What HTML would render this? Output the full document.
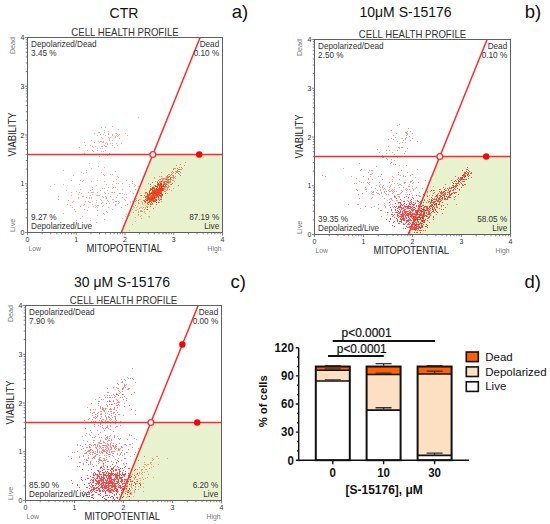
<!DOCTYPE html>
<html><head><meta charset="utf-8"><style>
html,body{margin:0;padding:0;background:#fff;width:550px;height:524px;overflow:hidden}
svg{display:block}
</style></head><body>
<svg width="550" height="524" viewBox="0 0 550 524" font-family="Liberation Sans, sans-serif">
<defs><filter id="soft" x="-5%" y="-5%" width="110%" height="110%"><feGaussianBlur stdDeviation="0.45"/></filter></defs>
<polygon points="121.30,232.50 222.50,232.50 222.50,154.50 152.82,154.50" fill="#e9f2cf"/>
<text x="124.00" y="17.60" font-size="14" fill="#111" text-anchor="middle" font-weight="normal" >CTR</text>
<text x="231.80" y="18.00" font-size="18.5" fill="#111" text-anchor="start" font-weight="normal" >a)</text>
<text transform="translate(125.00,36.00) scale(0.9,1)" font-size="10.7" fill="#333" text-anchor="middle" font-weight="normal" >CELL HEALTH PROFILE</text>
<path d="" fill="#ff1414" fill-opacity="0.8" filter="url(#soft)"/>
<path d="M150 200h1.0v1.0h-1.0zM157 187h1.0v1.0h-1.0zM152 198h1.0v1.0h-1.0zM152 193h1.0v1.0h-1.0zM153 193h1.0v1.0h-1.0zM155 199h1.0v1.0h-1.0zM146 196h1.0v1.0h-1.0zM156 190h1.0v1.0h-1.0zM154 191h1.0v1.0h-1.0zM145 199h1.0v1.0h-1.0zM165 185h1.0v1.0h-1.0zM158 190h1.0v1.0h-1.0zM154 198h1.0v1.0h-1.0zM160 192h1.0v1.0h-1.0zM152 195h1.0v1.0h-1.0zM154 193h1.0v1.0h-1.0zM154 188h1.0v1.0h-1.0zM147 196h1.0v1.0h-1.0zM157 191h1.0v1.0h-1.0zM161 189h1.0v1.0h-1.0zM152 182h1.0v1.0h-1.0zM149 191h1.0v1.0h-1.0zM158 190h1.0v1.0h-1.0zM151 202h1.0v1.0h-1.0zM155 195h1.0v1.0h-1.0zM155 191h1.0v1.0h-1.0zM147 197h1.0v1.0h-1.0zM152 192h1.0v1.0h-1.0zM160 185h1.0v1.0h-1.0zM164 183h1.0v1.0h-1.0zM157 190h1.0v1.0h-1.0zM158 191h1.0v1.0h-1.0zM151 197h1.0v1.0h-1.0zM150 199h1.0v1.0h-1.0zM148 198h1.0v1.0h-1.0zM161 195h1.0v1.0h-1.0zM158 191h1.0v1.0h-1.0zM153 197h1.0v1.0h-1.0zM153 201h1.0v1.0h-1.0zM156 193h1.0v1.0h-1.0zM158 194h1.0v1.0h-1.0zM156 195h1.0v1.0h-1.0zM160 189h1.0v1.0h-1.0zM155 194h1.0v1.0h-1.0zM156 195h1.0v1.0h-1.0zM148 196h1.0v1.0h-1.0zM155 193h1.0v1.0h-1.0zM159 187h1.0v1.0h-1.0zM154 193h1.0v1.0h-1.0zM156 194h1.0v1.0h-1.0zM158 193h1.0v1.0h-1.0zM154 191h1.0v1.0h-1.0zM157 192h1.0v1.0h-1.0zM160 195h1.0v1.0h-1.0zM162 195h1.0v1.0h-1.0zM151 196h1.0v1.0h-1.0zM157 194h1.0v1.0h-1.0zM149 200h1.0v1.0h-1.0zM157 193h1.0v1.0h-1.0zM151 200h1.0v1.0h-1.0zM155 194h1.0v1.0h-1.0zM159 194h1.0v1.0h-1.0zM153 195h1.0v1.0h-1.0zM153 191h1.0v1.0h-1.0zM147 199h1.0v1.0h-1.0zM155 200h1.0v1.0h-1.0zM160 193h1.0v1.0h-1.0zM153 201h1.0v1.0h-1.0zM157 191h1.0v1.0h-1.0zM148 198h1.0v1.0h-1.0zM151 197h1.0v1.0h-1.0zM155 201h1.0v1.0h-1.0zM154 193h1.0v1.0h-1.0zM155 190h1.0v1.0h-1.0zM152 199h1.0v1.0h-1.0zM149 191h1.0v1.0h-1.0zM162 188h1.0v1.0h-1.0zM151 193h1.0v1.0h-1.0zM146 192h1.0v1.0h-1.0zM159 194h1.0v1.0h-1.0zM154 195h1.0v1.0h-1.0zM151 195h1.0v1.0h-1.0zM141 195h1.0v1.0h-1.0zM162 194h1.0v1.0h-1.0zM151 195h1.0v1.0h-1.0zM154 193h1.0v1.0h-1.0zM152 199h1.0v1.0h-1.0zM161 190h1.0v1.0h-1.0zM158 191h1.0v1.0h-1.0zM159 190h1.0v1.0h-1.0zM157 196h1.0v1.0h-1.0zM153 188h1.0v1.0h-1.0zM160 192h1.0v1.0h-1.0zM159 190h1.0v1.0h-1.0zM157 193h1.0v1.0h-1.0zM155 195h1.0v1.0h-1.0zM153 195h1.0v1.0h-1.0zM154 198h1.0v1.0h-1.0zM152 198h1.0v1.0h-1.0zM152 189h1.0v1.0h-1.0zM151 192h1.0v1.0h-1.0zM148 202h1.0v1.0h-1.0zM152 192h1.0v1.0h-1.0zM160 190h1.0v1.0h-1.0zM153 194h1.0v1.0h-1.0zM151 204h1.0v1.0h-1.0zM157 196h1.0v1.0h-1.0zM159 192h1.0v1.0h-1.0zM152 190h1.0v1.0h-1.0zM152 195h1.0v1.0h-1.0zM160 185h1.0v1.0h-1.0zM161 185h1.0v1.0h-1.0zM153 193h1.0v1.0h-1.0zM156 189h1.0v1.0h-1.0zM154 190h1.0v1.0h-1.0zM157 190h1.0v1.0h-1.0zM162 189h1.0v1.0h-1.0zM159 192h1.0v1.0h-1.0zM152 191h1.0v1.0h-1.0zM149 194h1.0v1.0h-1.0zM150 196h1.0v1.0h-1.0zM158 197h1.0v1.0h-1.0zM155 186h1.0v1.0h-1.0zM155 192h1.0v1.0h-1.0zM155 193h1.0v1.0h-1.0zM155 192h1.0v1.0h-1.0zM155 194h1.0v1.0h-1.0zM152 188h1.0v1.0h-1.0zM147 195h1.0v1.0h-1.0zM150 204h1.0v1.0h-1.0zM153 196h1.0v1.0h-1.0zM150 198h1.0v1.0h-1.0zM157 184h1.0v1.0h-1.0zM160 199h1.0v1.0h-1.0zM151 193h1.0v1.0h-1.0zM145 197h1.0v1.0h-1.0zM156 193h1.0v1.0h-1.0zM152 196h1.0v1.0h-1.0zM156 186h1.0v1.0h-1.0zM157 189h1.0v1.0h-1.0zM155 199h1.0v1.0h-1.0zM159 194h1.0v1.0h-1.0zM147 207h1.0v1.0h-1.0zM155 199h1.0v1.0h-1.0zM159 188h1.0v1.0h-1.0zM159 191h1.0v1.0h-1.0zM155 193h1.0v1.0h-1.0zM153 192h1.0v1.0h-1.0zM145 196h1.0v1.0h-1.0zM149 199h1.0v1.0h-1.0zM160 196h1.0v1.0h-1.0zM158 183h1.0v1.0h-1.0zM147 203h1.0v1.0h-1.0zM154 189h1.0v1.0h-1.0zM158 192h1.0v1.0h-1.0zM157 189h1.0v1.0h-1.0zM152 197h1.0v1.0h-1.0zM153 196h1.0v1.0h-1.0zM152 191h1.0v1.0h-1.0zM152 199h1.0v1.0h-1.0zM150 198h1.0v1.0h-1.0zM151 197h1.0v1.0h-1.0zM155 195h1.0v1.0h-1.0zM161 196h1.0v1.0h-1.0zM154 193h1.0v1.0h-1.0zM161 199h1.0v1.0h-1.0zM156 199h1.0v1.0h-1.0zM153 197h1.0v1.0h-1.0zM158 188h1.0v1.0h-1.0zM152 192h1.0v1.0h-1.0zM152 192h1.0v1.0h-1.0zM156 188h1.0v1.0h-1.0zM160 189h1.0v1.0h-1.0zM156 186h1.0v1.0h-1.0zM157 192h1.0v1.0h-1.0zM152 192h1.0v1.0h-1.0zM161 197h1.0v1.0h-1.0zM157 195h1.0v1.0h-1.0zM161 189h1.0v1.0h-1.0zM156 192h1.0v1.0h-1.0zM162 195h1.0v1.0h-1.0zM153 192h1.0v1.0h-1.0zM157 186h1.0v1.0h-1.0zM145 201h1.0v1.0h-1.0zM157 193h1.0v1.0h-1.0zM154 188h1.0v1.0h-1.0zM152 199h1.0v1.0h-1.0zM160 183h1.0v1.0h-1.0zM154 194h1.0v1.0h-1.0zM154 194h1.0v1.0h-1.0zM151 198h1.0v1.0h-1.0zM158 190h1.0v1.0h-1.0zM153 190h1.0v1.0h-1.0zM149 193h1.0v1.0h-1.0zM152 190h1.0v1.0h-1.0zM155 189h1.0v1.0h-1.0zM157 187h1.0v1.0h-1.0zM154 192h1.0v1.0h-1.0zM147 194h1.0v1.0h-1.0zM154 197h1.0v1.0h-1.0zM148 204h1.0v1.0h-1.0zM152 197h1.0v1.0h-1.0zM161 194h1.0v1.0h-1.0zM157 192h1.0v1.0h-1.0zM154 194h1.0v1.0h-1.0zM156 197h1.0v1.0h-1.0zM161 188h1.0v1.0h-1.0zM154 191h1.0v1.0h-1.0zM158 190h1.0v1.0h-1.0zM156 192h1.0v1.0h-1.0zM150 194h1.0v1.0h-1.0zM161 188h1.0v1.0h-1.0zM153 201h1.0v1.0h-1.0zM150 199h1.0v1.0h-1.0zM152 195h1.0v1.0h-1.0zM156 200h1.0v1.0h-1.0zM151 195h1.0v1.0h-1.0zM153 197h1.0v1.0h-1.0zM159 190h1.0v1.0h-1.0zM157 195h1.0v1.0h-1.0zM156 192h1.0v1.0h-1.0zM147 198h1.0v1.0h-1.0zM150 196h1.0v1.0h-1.0zM157 187h1.0v1.0h-1.0zM151 199h1.0v1.0h-1.0zM155 185h1.0v1.0h-1.0zM148 195h1.0v1.0h-1.0zM156 192h1.0v1.0h-1.0zM158 202h1.0v1.0h-1.0zM155 193h1.0v1.0h-1.0zM145 192h1.0v1.0h-1.0zM154 195h1.0v1.0h-1.0zM163 188h1.0v1.0h-1.0zM149 192h1.0v1.0h-1.0zM163 186h1.0v1.0h-1.0zM152 194h1.0v1.0h-1.0zM149 197h1.0v1.0h-1.0zM158 196h1.0v1.0h-1.0zM153 195h1.0v1.0h-1.0zM158 184h1.0v1.0h-1.0zM158 191h1.0v1.0h-1.0zM157 187h1.0v1.0h-1.0zM157 191h1.0v1.0h-1.0zM161 181h1.0v1.0h-1.0zM153 187h1.0v1.0h-1.0zM159 193h1.0v1.0h-1.0zM152 198h1.0v1.0h-1.0zM150 197h1.0v1.0h-1.0zM157 194h1.0v1.0h-1.0zM160 191h1.0v1.0h-1.0zM159 189h1.0v1.0h-1.0zM152 198h1.0v1.0h-1.0zM158 193h1.0v1.0h-1.0zM154 192h1.0v1.0h-1.0zM149 197h1.0v1.0h-1.0zM155 190h1.0v1.0h-1.0zM145 202h1.0v1.0h-1.0zM153 190h1.0v1.0h-1.0zM166 186h1.0v1.0h-1.0zM151 198h1.0v1.0h-1.0zM154 193h1.0v1.0h-1.0zM147 200h1.0v1.0h-1.0zM156 200h1.0v1.0h-1.0zM153 187h1.0v1.0h-1.0zM153 200h1.0v1.0h-1.0zM154 193h1.0v1.0h-1.0zM152 194h1.0v1.0h-1.0zM151 193h1.0v1.0h-1.0zM157 194h1.0v1.0h-1.0zM157 193h1.0v1.0h-1.0zM158 188h1.0v1.0h-1.0zM156 189h1.0v1.0h-1.0zM150 194h1.0v1.0h-1.0zM160 188h1.0v1.0h-1.0zM161 190h1.0v1.0h-1.0zM152 203h1.0v1.0h-1.0zM153 187h1.0v1.0h-1.0zM161 193h1.0v1.0h-1.0zM156 188h1.0v1.0h-1.0zM156 191h1.0v1.0h-1.0zM148 197h1.0v1.0h-1.0zM151 193h1.0v1.0h-1.0zM144 200h1.0v1.0h-1.0zM154 194h1.0v1.0h-1.0zM161 184h1.0v1.0h-1.0zM161 194h1.0v1.0h-1.0zM157 190h1.0v1.0h-1.0zM155 197h1.0v1.0h-1.0zM151 198h1.0v1.0h-1.0zM148 196h1.0v1.0h-1.0zM155 193h1.0v1.0h-1.0zM149 195h1.0v1.0h-1.0zM153 197h1.0v1.0h-1.0zM158 188h1.0v1.0h-1.0zM150 201h1.0v1.0h-1.0zM156 204h1.0v1.0h-1.0zM154 197h1.0v1.0h-1.0zM155 194h1.0v1.0h-1.0zM154 194h1.0v1.0h-1.0zM150 199h1.0v1.0h-1.0zM155 193h1.0v1.0h-1.0zM152 192h1.0v1.0h-1.0zM154 191h1.0v1.0h-1.0zM152 199h1.0v1.0h-1.0zM153 191h1.0v1.0h-1.0zM160 196h1.0v1.0h-1.0zM153 197h1.0v1.0h-1.0zM154 195h1.0v1.0h-1.0zM150 193h1.0v1.0h-1.0zM161 189h1.0v1.0h-1.0zM147 209h1.0v1.0h-1.0zM149 199h1.0v1.0h-1.0zM145 197h1.0v1.0h-1.0zM154 195h1.0v1.0h-1.0zM152 197h1.0v1.0h-1.0zM153 196h1.0v1.0h-1.0zM157 190h1.0v1.0h-1.0zM146 198h1.0v1.0h-1.0zM147 193h1.0v1.0h-1.0zM153 194h1.0v1.0h-1.0zM150 199h1.0v1.0h-1.0zM152 188h1.0v1.0h-1.0zM155 192h1.0v1.0h-1.0zM152 196h1.0v1.0h-1.0zM149 202h1.0v1.0h-1.0zM161 187h1.0v1.0h-1.0zM156 191h1.0v1.0h-1.0zM157 192h1.0v1.0h-1.0zM154 192h1.0v1.0h-1.0zM154 193h1.0v1.0h-1.0zM156 189h1.0v1.0h-1.0zM155 194h1.0v1.0h-1.0zM153 197h1.0v1.0h-1.0zM156 190h1.0v1.0h-1.0zM155 193h1.0v1.0h-1.0zM152 197h1.0v1.0h-1.0zM149 195h1.0v1.0h-1.0zM161 191h1.0v1.0h-1.0zM161 195h1.0v1.0h-1.0zM160 184h1.0v1.0h-1.0zM153 196h1.0v1.0h-1.0zM149 194h1.0v1.0h-1.0zM156 192h1.0v1.0h-1.0zM162 190h1.0v1.0h-1.0zM152 187h1.0v1.0h-1.0zM155 191h1.0v1.0h-1.0zM162 186h1.0v1.0h-1.0zM154 198h1.0v1.0h-1.0zM149 198h1.0v1.0h-1.0zM153 198h1.0v1.0h-1.0zM152 194h1.0v1.0h-1.0zM153 190h1.0v1.0h-1.0zM161 192h1.0v1.0h-1.0zM157 192h1.0v1.0h-1.0zM159 186h1.0v1.0h-1.0zM148 194h1.0v1.0h-1.0zM159 184h1.0v1.0h-1.0zM153 198h1.0v1.0h-1.0zM155 186h1.0v1.0h-1.0zM152 198h1.0v1.0h-1.0zM156 192h1.0v1.0h-1.0zM154 193h1.0v1.0h-1.0zM159 193h1.0v1.0h-1.0zM150 184h1.0v1.0h-1.0zM151 192h1.0v1.0h-1.0zM154 193h1.0v1.0h-1.0zM157 194h1.0v1.0h-1.0zM153 201h1.0v1.0h-1.0zM151 196h1.0v1.0h-1.0zM147 199h1.0v1.0h-1.0zM155 194h1.0v1.0h-1.0zM163 184h1.0v1.0h-1.0zM156 189h1.0v1.0h-1.0zM152 197h1.0v1.0h-1.0zM156 200h1.0v1.0h-1.0zM156 188h1.0v1.0h-1.0zM152 195h1.0v1.0h-1.0zM147 199h1.0v1.0h-1.0zM153 199h1.0v1.0h-1.0zM156 202h1.0v1.0h-1.0zM154 200h1.0v1.0h-1.0zM156 190h1.0v1.0h-1.0zM150 189h1.0v1.0h-1.0zM144 195h1.0v1.0h-1.0zM152 195h1.0v1.0h-1.0zM154 201h1.0v1.0h-1.0zM151 199h1.0v1.0h-1.0zM148 199h1.0v1.0h-1.0zM160 185h1.0v1.0h-1.0zM153 195h1.0v1.0h-1.0zM153 188h1.0v1.0h-1.0zM160 192h1.0v1.0h-1.0zM158 199h1.0v1.0h-1.0zM158 193h1.0v1.0h-1.0zM159 193h1.0v1.0h-1.0zM150 188h1.0v1.0h-1.0zM163 185h1.0v1.0h-1.0zM159 195h1.0v1.0h-1.0zM152 193h1.0v1.0h-1.0zM154 189h1.0v1.0h-1.0zM161 186h1.0v1.0h-1.0zM158 189h1.0v1.0h-1.0zM150 194h1.0v1.0h-1.0zM150 196h1.0v1.0h-1.0zM153 199h1.0v1.0h-1.0zM151 195h1.0v1.0h-1.0zM154 190h1.0v1.0h-1.0zM157 189h1.0v1.0h-1.0zM144 201h1.0v1.0h-1.0zM153 192h1.0v1.0h-1.0zM151 199h1.0v1.0h-1.0zM157 191h1.0v1.0h-1.0zM156 188h1.0v1.0h-1.0zM153 198h1.0v1.0h-1.0zM150 193h1.0v1.0h-1.0zM148 195h1.0v1.0h-1.0zM161 196h1.0v1.0h-1.0zM149 200h1.0v1.0h-1.0zM152 200h1.0v1.0h-1.0zM154 198h1.0v1.0h-1.0zM158 188h1.0v1.0h-1.0zM163 184h1.0v1.0h-1.0zM153 192h1.0v1.0h-1.0zM149 198h1.0v1.0h-1.0zM154 192h1.0v1.0h-1.0zM153 199h1.0v1.0h-1.0zM157 192h1.0v1.0h-1.0zM147 195h1.0v1.0h-1.0zM159 200h1.0v1.0h-1.0zM150 190h1.0v1.0h-1.0zM158 192h1.0v1.0h-1.0zM152 192h1.0v1.0h-1.0zM165 193h1.0v1.0h-1.0zM156 194h1.0v1.0h-1.0zM146 200h1.0v1.0h-1.0zM157 189h1.0v1.0h-1.0zM151 193h1.0v1.0h-1.0zM154 198h1.0v1.0h-1.0zM161 188h1.0v1.0h-1.0zM152 199h1.0v1.0h-1.0zM154 192h1.0v1.0h-1.0zM151 196h1.0v1.0h-1.0zM160 188h1.0v1.0h-1.0zM154 196h1.0v1.0h-1.0zM156 193h1.0v1.0h-1.0zM149 199h1.0v1.0h-1.0zM162 189h1.0v1.0h-1.0zM151 198h1.0v1.0h-1.0zM158 190h1.0v1.0h-1.0zM160 190h1.0v1.0h-1.0zM160 189h1.0v1.0h-1.0zM158 183h1.0v1.0h-1.0zM152 200h1.0v1.0h-1.0zM155 191h1.0v1.0h-1.0zM152 190h1.0v1.0h-1.0zM154 190h1.0v1.0h-1.0zM158 189h1.0v1.0h-1.0zM153 191h1.0v1.0h-1.0zM155 200h1.0v1.0h-1.0zM157 196h1.0v1.0h-1.0zM161 188h1.0v1.0h-1.0zM151 199h1.0v1.0h-1.0zM155 193h1.0v1.0h-1.0zM147 194h1.0v1.0h-1.0zM155 186h1.0v1.0h-1.0zM149 201h1.0v1.0h-1.0zM153 194h1.0v1.0h-1.0zM156 196h1.0v1.0h-1.0zM154 192h1.0v1.0h-1.0zM166 186h1.0v1.0h-1.0zM157 184h1.0v1.0h-1.0zM152 199h1.0v1.0h-1.0zM161 183h1.0v1.0h-1.0zM153 201h1.0v1.0h-1.0zM145 199h1.0v1.0h-1.0zM148 199h1.0v1.0h-1.0zM151 189h1.0v1.0h-1.0zM156 191h1.0v1.0h-1.0zM150 206h1.0v1.0h-1.0zM158 193h1.0v1.0h-1.0z" fill="#f02408" fill-opacity="0.8" filter="url(#soft)"/>
<path d="" fill="#ff1414" fill-opacity="0.45" filter="url(#soft)"/>
<path d="M147 202h1.0v1.0h-1.0zM167 178h1.0v1.0h-1.0zM154 198h1.0v1.0h-1.0zM147 194h1.0v1.0h-1.0zM157 184h1.0v1.0h-1.0zM155 186h1.0v1.0h-1.0zM164 191h1.0v1.0h-1.0zM150 193h1.0v1.0h-1.0zM144 209h1.0v1.0h-1.0zM145 201h1.0v1.0h-1.0zM139 208h1.0v1.0h-1.0zM162 178h1.0v1.0h-1.0zM164 184h1.0v1.0h-1.0zM155 195h1.0v1.0h-1.0zM164 189h1.0v1.0h-1.0zM165 189h1.0v1.0h-1.0zM159 185h1.0v1.0h-1.0zM163 189h1.0v1.0h-1.0zM161 182h1.0v1.0h-1.0zM158 192h1.0v1.0h-1.0zM142 211h1.0v1.0h-1.0zM133 212h1.0v1.0h-1.0zM163 179h1.0v1.0h-1.0zM164 189h1.0v1.0h-1.0zM138 212h1.0v1.0h-1.0zM158 190h1.0v1.0h-1.0zM148 197h1.0v1.0h-1.0zM154 198h1.0v1.0h-1.0zM138 214h1.0v1.0h-1.0zM162 185h1.0v1.0h-1.0zM154 190h1.0v1.0h-1.0zM160 182h1.0v1.0h-1.0zM166 184h1.0v1.0h-1.0zM161 176h1.0v1.0h-1.0zM167 177h1.0v1.0h-1.0zM161 191h1.0v1.0h-1.0zM162 194h1.0v1.0h-1.0zM153 198h1.0v1.0h-1.0zM167 193h1.0v1.0h-1.0zM154 193h1.0v1.0h-1.0zM146 200h1.0v1.0h-1.0zM162 178h1.0v1.0h-1.0zM160 184h1.0v1.0h-1.0zM141 218h1.0v1.0h-1.0zM143 207h1.0v1.0h-1.0zM153 191h1.0v1.0h-1.0zM153 208h1.0v1.0h-1.0zM168 183h1.0v1.0h-1.0zM156 188h1.0v1.0h-1.0zM160 186h1.0v1.0h-1.0zM169 189h1.0v1.0h-1.0zM168 182h1.0v1.0h-1.0zM154 193h1.0v1.0h-1.0zM155 181h1.0v1.0h-1.0zM160 190h1.0v1.0h-1.0zM165 187h1.0v1.0h-1.0zM160 186h1.0v1.0h-1.0zM166 179h1.0v1.0h-1.0zM159 185h1.0v1.0h-1.0zM149 192h1.0v1.0h-1.0zM158 190h1.0v1.0h-1.0zM152 204h1.0v1.0h-1.0zM159 188h1.0v1.0h-1.0zM168 179h1.0v1.0h-1.0zM149 194h1.0v1.0h-1.0zM142 203h1.0v1.0h-1.0zM158 194h1.0v1.0h-1.0zM151 193h1.0v1.0h-1.0zM154 189h1.0v1.0h-1.0zM153 197h1.0v1.0h-1.0zM154 188h1.0v1.0h-1.0zM148 199h1.0v1.0h-1.0zM167 178h1.0v1.0h-1.0zM155 193h1.0v1.0h-1.0zM158 185h1.0v1.0h-1.0zM154 178h1.0v1.0h-1.0zM155 192h1.0v1.0h-1.0zM163 190h1.0v1.0h-1.0zM155 194h1.0v1.0h-1.0zM155 196h1.0v1.0h-1.0zM154 192h1.0v1.0h-1.0zM160 188h1.0v1.0h-1.0zM140 195h1.0v1.0h-1.0zM148 197h1.0v1.0h-1.0zM145 193h1.0v1.0h-1.0zM154 198h1.0v1.0h-1.0zM166 182h1.0v1.0h-1.0zM150 186h1.0v1.0h-1.0zM159 198h1.0v1.0h-1.0zM157 190h1.0v1.0h-1.0zM169 186h1.0v1.0h-1.0zM147 193h1.0v1.0h-1.0zM168 186h1.0v1.0h-1.0zM140 211h1.0v1.0h-1.0zM150 199h1.0v1.0h-1.0zM172 183h1.0v1.0h-1.0zM161 172h1.0v1.0h-1.0zM158 190h1.0v1.0h-1.0zM149 190h1.0v1.0h-1.0zM165 186h1.0v1.0h-1.0zM158 198h1.0v1.0h-1.0zM167 178h1.0v1.0h-1.0zM165 181h1.0v1.0h-1.0zM154 177h1.0v1.0h-1.0zM153 201h1.0v1.0h-1.0zM168 187h1.0v1.0h-1.0zM157 195h1.0v1.0h-1.0zM154 192h1.0v1.0h-1.0zM152 193h1.0v1.0h-1.0zM158 194h1.0v1.0h-1.0zM161 188h1.0v1.0h-1.0zM161 183h1.0v1.0h-1.0zM160 181h1.0v1.0h-1.0zM184 165h1.0v1.0h-1.0zM154 193h1.0v1.0h-1.0zM173 188h1.0v1.0h-1.0zM155 199h1.0v1.0h-1.0zM154 191h1.0v1.0h-1.0zM148 200h1.0v1.0h-1.0zM166 181h1.0v1.0h-1.0zM154 185h1.0v1.0h-1.0zM159 191h1.0v1.0h-1.0zM159 195h1.0v1.0h-1.0zM163 183h1.0v1.0h-1.0zM153 194h1.0v1.0h-1.0zM163 190h1.0v1.0h-1.0zM173 168h1.0v1.0h-1.0zM151 188h1.0v1.0h-1.0zM154 197h1.0v1.0h-1.0zM152 201h1.0v1.0h-1.0zM163 184h1.0v1.0h-1.0zM154 187h1.0v1.0h-1.0zM153 198h1.0v1.0h-1.0zM153 199h1.0v1.0h-1.0zM159 192h1.0v1.0h-1.0zM149 198h1.0v1.0h-1.0zM172 173h1.0v1.0h-1.0zM156 193h1.0v1.0h-1.0zM152 189h1.0v1.0h-1.0zM150 186h1.0v1.0h-1.0zM145 207h1.0v1.0h-1.0zM143 200h1.0v1.0h-1.0zM154 193h1.0v1.0h-1.0zM148 183h1.0v1.0h-1.0zM150 203h1.0v1.0h-1.0zM170 178h1.0v1.0h-1.0zM160 187h1.0v1.0h-1.0zM171 184h1.0v1.0h-1.0zM166 182h1.0v1.0h-1.0zM153 191h1.0v1.0h-1.0zM179 174h1.0v1.0h-1.0zM158 189h1.0v1.0h-1.0zM138 202h1.0v1.0h-1.0zM141 211h1.0v1.0h-1.0zM160 193h1.0v1.0h-1.0zM171 190h1.0v1.0h-1.0zM158 190h1.0v1.0h-1.0zM174 181h1.0v1.0h-1.0zM153 192h1.0v1.0h-1.0zM157 182h1.0v1.0h-1.0zM161 183h1.0v1.0h-1.0zM152 201h1.0v1.0h-1.0zM157 187h1.0v1.0h-1.0zM161 189h1.0v1.0h-1.0zM168 185h1.0v1.0h-1.0zM167 182h1.0v1.0h-1.0zM164 182h1.0v1.0h-1.0zM152 198h1.0v1.0h-1.0zM161 183h1.0v1.0h-1.0zM159 176h1.0v1.0h-1.0zM156 189h1.0v1.0h-1.0zM160 183h1.0v1.0h-1.0zM165 186h1.0v1.0h-1.0zM162 178h1.0v1.0h-1.0zM157 189h1.0v1.0h-1.0zM158 184h1.0v1.0h-1.0zM161 191h1.0v1.0h-1.0zM157 190h1.0v1.0h-1.0zM159 202h1.0v1.0h-1.0zM156 194h1.0v1.0h-1.0zM151 202h1.0v1.0h-1.0zM158 195h1.0v1.0h-1.0zM157 181h1.0v1.0h-1.0zM166 190h1.0v1.0h-1.0zM163 185h1.0v1.0h-1.0zM157 192h1.0v1.0h-1.0zM166 178h1.0v1.0h-1.0zM151 192h1.0v1.0h-1.0zM167 189h1.0v1.0h-1.0zM162 189h1.0v1.0h-1.0zM153 199h1.0v1.0h-1.0zM150 195h1.0v1.0h-1.0zM160 182h1.0v1.0h-1.0zM158 192h1.0v1.0h-1.0zM160 190h1.0v1.0h-1.0zM182 168h1.0v1.0h-1.0zM160 185h1.0v1.0h-1.0zM153 186h1.0v1.0h-1.0zM161 184h1.0v1.0h-1.0zM155 198h1.0v1.0h-1.0zM158 194h1.0v1.0h-1.0zM162 189h1.0v1.0h-1.0zM156 202h1.0v1.0h-1.0zM152 187h1.0v1.0h-1.0zM155 192h1.0v1.0h-1.0zM159 191h1.0v1.0h-1.0zM138 200h1.0v1.0h-1.0zM169 176h1.0v1.0h-1.0zM152 188h1.0v1.0h-1.0zM160 186h1.0v1.0h-1.0zM146 197h1.0v1.0h-1.0zM147 201h1.0v1.0h-1.0zM158 192h1.0v1.0h-1.0zM153 192h1.0v1.0h-1.0zM160 184h1.0v1.0h-1.0zM147 196h1.0v1.0h-1.0zM149 198h1.0v1.0h-1.0zM160 189h1.0v1.0h-1.0zM163 186h1.0v1.0h-1.0zM163 183h1.0v1.0h-1.0z" fill="#f02408" fill-opacity="0.45" filter="url(#soft)"/>
<path d="" fill="#ff1414" fill-opacity="0.5" filter="url(#soft)"/>
<path d="M171 184h1.0v1.0h-1.0zM166 179h1.0v1.0h-1.0zM161 183h1.0v1.0h-1.0zM166 181h1.0v1.0h-1.0zM174 168h1.0v1.0h-1.0zM159 181h1.0v1.0h-1.0zM169 174h1.0v1.0h-1.0zM173 172h1.0v1.0h-1.0zM168 182h1.0v1.0h-1.0zM173 177h1.0v1.0h-1.0zM160 185h1.0v1.0h-1.0zM164 186h1.0v1.0h-1.0zM161 188h1.0v1.0h-1.0zM177 168h1.0v1.0h-1.0zM165 184h1.0v1.0h-1.0zM170 175h1.0v1.0h-1.0zM161 187h1.0v1.0h-1.0zM181 167h1.0v1.0h-1.0zM169 176h1.0v1.0h-1.0zM170 179h1.0v1.0h-1.0zM165 185h1.0v1.0h-1.0zM175 171h1.0v1.0h-1.0zM159 182h1.0v1.0h-1.0zM178 169h1.0v1.0h-1.0zM165 179h1.0v1.0h-1.0zM161 184h1.0v1.0h-1.0zM164 181h1.0v1.0h-1.0zM163 181h1.0v1.0h-1.0zM164 184h1.0v1.0h-1.0zM172 177h1.0v1.0h-1.0zM167 176h1.0v1.0h-1.0zM167 182h1.0v1.0h-1.0zM169 176h1.0v1.0h-1.0zM173 178h1.0v1.0h-1.0zM163 190h1.0v1.0h-1.0zM185 162h1.0v1.0h-1.0zM174 177h1.0v1.0h-1.0zM178 173h1.0v1.0h-1.0zM170 178h1.0v1.0h-1.0zM157 182h1.0v1.0h-1.0zM166 183h1.0v1.0h-1.0zM161 186h1.0v1.0h-1.0zM179 171h1.0v1.0h-1.0zM157 185h1.0v1.0h-1.0zM164 187h1.0v1.0h-1.0zM163 186h1.0v1.0h-1.0zM168 180h1.0v1.0h-1.0zM175 168h1.0v1.0h-1.0zM162 181h1.0v1.0h-1.0zM180 172h1.0v1.0h-1.0zM162 190h1.0v1.0h-1.0zM177 171h1.0v1.0h-1.0zM170 182h1.0v1.0h-1.0zM169 179h1.0v1.0h-1.0zM177 171h1.0v1.0h-1.0zM173 169h1.0v1.0h-1.0zM169 181h1.0v1.0h-1.0zM171 177h1.0v1.0h-1.0zM167 181h1.0v1.0h-1.0zM163 178h1.0v1.0h-1.0zM163 182h1.0v1.0h-1.0zM166 181h1.0v1.0h-1.0zM168 177h1.0v1.0h-1.0zM164 178h1.0v1.0h-1.0zM163 181h1.0v1.0h-1.0zM173 176h1.0v1.0h-1.0zM163 182h1.0v1.0h-1.0zM163 181h1.0v1.0h-1.0zM164 182h1.0v1.0h-1.0zM171 174h1.0v1.0h-1.0zM172 175h1.0v1.0h-1.0zM163 181h1.0v1.0h-1.0zM180 169h1.0v1.0h-1.0zM168 174h1.0v1.0h-1.0zM168 176h1.0v1.0h-1.0zM177 170h1.0v1.0h-1.0zM165 183h1.0v1.0h-1.0zM161 188h1.0v1.0h-1.0zM165 191h1.0v1.0h-1.0zM181 169h1.0v1.0h-1.0zM169 182h1.0v1.0h-1.0zM170 177h1.0v1.0h-1.0zM159 187h1.0v1.0h-1.0zM162 180h1.0v1.0h-1.0zM158 180h1.0v1.0h-1.0zM180 164h1.0v1.0h-1.0zM161 176h1.0v1.0h-1.0zM171 172h1.0v1.0h-1.0zM167 175h1.0v1.0h-1.0zM166 177h1.0v1.0h-1.0zM165 183h1.0v1.0h-1.0zM168 177h1.0v1.0h-1.0zM164 187h1.0v1.0h-1.0zM173 180h1.0v1.0h-1.0zM175 176h1.0v1.0h-1.0zM168 181h1.0v1.0h-1.0zM163 186h1.0v1.0h-1.0zM159 185h1.0v1.0h-1.0zM178 171h1.0v1.0h-1.0zM176 172h1.0v1.0h-1.0zM179 169h1.0v1.0h-1.0zM175 173h1.0v1.0h-1.0zM157 183h1.0v1.0h-1.0zM160 179h1.0v1.0h-1.0zM162 186h1.0v1.0h-1.0zM167 189h1.0v1.0h-1.0zM173 178h1.0v1.0h-1.0zM178 185h1.0v1.0h-1.0zM169 174h1.0v1.0h-1.0zM165 178h1.0v1.0h-1.0zM176 165h1.0v1.0h-1.0zM165 179h1.0v1.0h-1.0zM172 183h1.0v1.0h-1.0zM170 184h1.0v1.0h-1.0zM158 184h1.0v1.0h-1.0zM160 186h1.0v1.0h-1.0zM167 177h1.0v1.0h-1.0zM177 168h1.0v1.0h-1.0zM159 186h1.0v1.0h-1.0zM176 171h1.0v1.0h-1.0zM162 186h1.0v1.0h-1.0zM177 172h1.0v1.0h-1.0zM170 181h1.0v1.0h-1.0zM175 178h1.0v1.0h-1.0zM173 175h1.0v1.0h-1.0zM167 180h1.0v1.0h-1.0zM166 181h1.0v1.0h-1.0zM163 185h1.0v1.0h-1.0zM167 179h1.0v1.0h-1.0zM158 185h1.0v1.0h-1.0zM164 182h1.0v1.0h-1.0zM168 182h1.0v1.0h-1.0zM159 182h1.0v1.0h-1.0zM162 189h1.0v1.0h-1.0zM172 171h1.0v1.0h-1.0zM162 188h1.0v1.0h-1.0zM162 188h1.0v1.0h-1.0zM165 181h1.0v1.0h-1.0zM167 180h1.0v1.0h-1.0zM168 179h1.0v1.0h-1.0zM167 188h1.0v1.0h-1.0zM165 181h1.0v1.0h-1.0zM165 179h1.0v1.0h-1.0zM162 187h1.0v1.0h-1.0zM163 189h1.0v1.0h-1.0zM160 188h1.0v1.0h-1.0zM170 179h1.0v1.0h-1.0zM165 186h1.0v1.0h-1.0zM177 168h1.0v1.0h-1.0zM157 186h1.0v1.0h-1.0zM165 178h1.0v1.0h-1.0zM171 179h1.0v1.0h-1.0zM159 179h1.0v1.0h-1.0zM166 176h1.0v1.0h-1.0zM167 181h1.0v1.0h-1.0zM168 181h1.0v1.0h-1.0zM167 187h1.0v1.0h-1.0zM170 180h1.0v1.0h-1.0zM179 167h1.0v1.0h-1.0zM163 189h1.0v1.0h-1.0zM164 188h1.0v1.0h-1.0zM172 180h1.0v1.0h-1.0zM167 184h1.0v1.0h-1.0zM166 184h1.0v1.0h-1.0zM162 179h1.0v1.0h-1.0zM160 181h1.0v1.0h-1.0zM180 175h1.0v1.0h-1.0zM172 175h1.0v1.0h-1.0zM161 178h1.0v1.0h-1.0zM163 186h1.0v1.0h-1.0z" fill="#f02408" fill-opacity="0.5" filter="url(#soft)"/>
<path d="M132 204h1.0v1.0h-1.0zM130 202h1.0v1.0h-1.0zM130 201h1.0v1.0h-1.0zM125 205h1.0v1.0h-1.0zM131 206h1.0v1.0h-1.0zM129 210h1.0v1.0h-1.0zM123 225h1.0v1.0h-1.0zM122 218h1.0v1.0h-1.0z" fill="#ff1414" fill-opacity="0.35" filter="url(#soft)"/>
<path d="M159 195h1.0v1.0h-1.0zM135 201h1.0v1.0h-1.0zM158 199h1.0v1.0h-1.0zM138 214h1.0v1.0h-1.0zM138 203h1.0v1.0h-1.0zM135 217h1.0v1.0h-1.0zM134 207h1.0v1.0h-1.0zM141 201h1.0v1.0h-1.0zM151 202h1.0v1.0h-1.0zM129 215h1.0v1.0h-1.0zM144 212h1.0v1.0h-1.0zM136 210h1.0v1.0h-1.0zM143 200h1.0v1.0h-1.0zM143 197h1.0v1.0h-1.0zM138 215h1.0v1.0h-1.0zM132 209h1.0v1.0h-1.0zM129 230h1.0v1.0h-1.0zM140 216h1.0v1.0h-1.0zM147 204h1.0v1.0h-1.0zM143 200h1.0v1.0h-1.0zM139 199h1.0v1.0h-1.0zM146 206h1.0v1.0h-1.0zM142 202h1.0v1.0h-1.0zM149 217h1.0v1.0h-1.0zM148 202h1.0v1.0h-1.0zM145 199h1.0v1.0h-1.0zM145 208h1.0v1.0h-1.0zM148 216h1.0v1.0h-1.0zM155 207h1.0v1.0h-1.0zM147 196h1.0v1.0h-1.0zM147 204h1.0v1.0h-1.0zM134 201h1.0v1.0h-1.0zM161 198h1.0v1.0h-1.0zM136 207h1.0v1.0h-1.0zM135 210h1.0v1.0h-1.0zM130 209h1.0v1.0h-1.0zM153 208h1.0v1.0h-1.0zM144 203h1.0v1.0h-1.0zM141 215h1.0v1.0h-1.0zM151 201h1.0v1.0h-1.0zM151 199h1.0v1.0h-1.0zM146 199h1.0v1.0h-1.0zM132 224h1.0v1.0h-1.0zM135 221h1.0v1.0h-1.0zM157 191h1.0v1.0h-1.0zM135 210h1.0v1.0h-1.0zM134 207h1.0v1.0h-1.0zM149 216h1.0v1.0h-1.0zM145 205h1.0v1.0h-1.0zM137 209h1.0v1.0h-1.0zM141 207h1.0v1.0h-1.0zM145 213h1.0v1.0h-1.0zM129 213h1.0v1.0h-1.0zM145 189h1.0v1.0h-1.0zM152 198h1.0v1.0h-1.0zM144 211h1.0v1.0h-1.0zM137 206h1.0v1.0h-1.0zM153 196h1.0v1.0h-1.0zM156 192h1.0v1.0h-1.0zM140 207h1.0v1.0h-1.0zM147 206h1.0v1.0h-1.0zM138 211h1.0v1.0h-1.0zM146 209h1.0v1.0h-1.0zM142 204h1.0v1.0h-1.0zM140 210h1.0v1.0h-1.0zM138 200h1.0v1.0h-1.0zM142 208h1.0v1.0h-1.0zM140 199h1.0v1.0h-1.0zM139 203h1.0v1.0h-1.0zM141 210h1.0v1.0h-1.0zM149 211h1.0v1.0h-1.0z" fill="#f02408" fill-opacity="0.35" filter="url(#soft)"/>
<path d="M107 190h1.0v1.0h-1.0zM126 194h1.0v1.0h-1.0zM134 186h1.0v1.0h-1.0zM126 214h1.0v1.0h-1.0zM99 195h1.0v1.0h-1.0zM124 194h1.0v1.0h-1.0zM50 186h1.0v1.0h-1.0zM92 192h1.0v1.0h-1.0zM90 190h1.0v1.0h-1.0zM80 218h1.0v1.0h-1.0zM125 200h1.0v1.0h-1.0zM127 204h1.0v1.0h-1.0zM107 212h1.0v1.0h-1.0zM91 192h1.0v1.0h-1.0zM91 198h1.0v1.0h-1.0zM67 204h1.0v1.0h-1.0zM72 207h1.0v1.0h-1.0zM80 189h1.0v1.0h-1.0zM76 220h1.0v1.0h-1.0zM96 195h1.0v1.0h-1.0zM83 205h1.0v1.0h-1.0zM108 193h1.0v1.0h-1.0zM112 174h1.0v1.0h-1.0zM82 181h1.0v1.0h-1.0zM73 175h1.0v1.0h-1.0zM63 170h1.0v1.0h-1.0zM112 184h1.0v1.0h-1.0zM86 172h1.0v1.0h-1.0zM97 192h1.0v1.0h-1.0zM122 189h1.0v1.0h-1.0zM92 194h1.0v1.0h-1.0zM89 197h1.0v1.0h-1.0zM79 192h1.0v1.0h-1.0zM106 203h1.0v1.0h-1.0zM97 195h1.0v1.0h-1.0zM115 171h1.0v1.0h-1.0zM79 184h1.0v1.0h-1.0zM102 196h1.0v1.0h-1.0zM83 173h1.0v1.0h-1.0zM116 179h1.0v1.0h-1.0zM96 206h1.0v1.0h-1.0zM118 203h1.0v1.0h-1.0zM117 176h1.0v1.0h-1.0zM76 191h1.0v1.0h-1.0zM104 192h1.0v1.0h-1.0zM101 200h1.0v1.0h-1.0zM83 205h1.0v1.0h-1.0zM118 183h1.0v1.0h-1.0zM58 199h1.0v1.0h-1.0zM117 189h1.0v1.0h-1.0zM110 174h1.0v1.0h-1.0zM54 184h1.0v1.0h-1.0zM63 184h1.0v1.0h-1.0zM92 187h1.0v1.0h-1.0zM89 198h1.0v1.0h-1.0zM122 193h1.0v1.0h-1.0zM95 207h1.0v1.0h-1.0zM125 216h1.0v1.0h-1.0zM78 198h1.0v1.0h-1.0zM104 214h1.0v1.0h-1.0zM113 202h1.0v1.0h-1.0zM110 196h1.0v1.0h-1.0zM104 192h1.0v1.0h-1.0zM81 172h1.0v1.0h-1.0zM92 204h1.0v1.0h-1.0zM116 201h1.0v1.0h-1.0zM118 201h1.0v1.0h-1.0zM121 207h1.0v1.0h-1.0zM86 170h1.0v1.0h-1.0zM90 202h1.0v1.0h-1.0zM124 199h1.0v1.0h-1.0zM104 167h1.0v1.0h-1.0zM113 199h1.0v1.0h-1.0zM89 202h1.0v1.0h-1.0zM104 181h1.0v1.0h-1.0zM92 201h1.0v1.0h-1.0zM82 216h1.0v1.0h-1.0zM80 180h1.0v1.0h-1.0zM106 184h1.0v1.0h-1.0zM84 209h1.0v1.0h-1.0zM112 209h1.0v1.0h-1.0zM126 197h1.0v1.0h-1.0zM95 205h1.0v1.0h-1.0zM74 209h1.0v1.0h-1.0zM70 205h1.0v1.0h-1.0zM104 175h1.0v1.0h-1.0zM138 186h1.0v1.0h-1.0zM93 206h1.0v1.0h-1.0zM106 197h1.0v1.0h-1.0zM88 192h1.0v1.0h-1.0zM78 197h1.0v1.0h-1.0zM110 196h1.0v1.0h-1.0zM118 177h1.0v1.0h-1.0zM109 203h1.0v1.0h-1.0zM115 205h1.0v1.0h-1.0zM122 197h1.0v1.0h-1.0zM96 202h1.0v1.0h-1.0zM116 201h1.0v1.0h-1.0zM107 200h1.0v1.0h-1.0zM108 207h1.0v1.0h-1.0zM116 183h1.0v1.0h-1.0zM88 201h1.0v1.0h-1.0zM113 181h1.0v1.0h-1.0zM103 205h1.0v1.0h-1.0zM84 204h1.0v1.0h-1.0zM105 193h1.0v1.0h-1.0zM132 201h1.0v1.0h-1.0zM113 187h1.0v1.0h-1.0zM112 188h1.0v1.0h-1.0zM91 168h1.0v1.0h-1.0zM64 225h1.0v1.0h-1.0zM97 207h1.0v1.0h-1.0zM105 196h1.0v1.0h-1.0zM71 195h1.0v1.0h-1.0zM116 197h1.0v1.0h-1.0zM98 166h1.0v1.0h-1.0zM90 220h1.0v1.0h-1.0zM104 188h1.0v1.0h-1.0zM106 198h1.0v1.0h-1.0zM98 195h1.0v1.0h-1.0zM71 180h1.0v1.0h-1.0zM90 195h1.0v1.0h-1.0zM115 187h1.0v1.0h-1.0zM97 180h1.0v1.0h-1.0zM83 180h1.0v1.0h-1.0zM63 213h1.0v1.0h-1.0zM85 201h1.0v1.0h-1.0zM97 210h1.0v1.0h-1.0zM72 202h1.0v1.0h-1.0zM83 196h1.0v1.0h-1.0zM101 172h1.0v1.0h-1.0zM115 204h1.0v1.0h-1.0zM100 199h1.0v1.0h-1.0zM82 196h1.0v1.0h-1.0zM126 180h1.0v1.0h-1.0zM92 189h1.0v1.0h-1.0zM135 189h1.0v1.0h-1.0zM130 191h1.0v1.0h-1.0zM104 219h1.0v1.0h-1.0zM106 211h1.0v1.0h-1.0zM102 188h1.0v1.0h-1.0zM97 215h1.0v1.0h-1.0zM91 197h1.0v1.0h-1.0zM103 213h1.0v1.0h-1.0zM120 193h1.0v1.0h-1.0zM75 211h1.0v1.0h-1.0zM86 197h1.0v1.0h-1.0zM88 207h1.0v1.0h-1.0zM102 202h1.0v1.0h-1.0zM122 183h1.0v1.0h-1.0zM93 192h1.0v1.0h-1.0zM104 192h1.0v1.0h-1.0zM132 181h1.0v1.0h-1.0zM81 193h1.0v1.0h-1.0zM134 184h1.0v1.0h-1.0zM112 192h1.0v1.0h-1.0zM66 190h1.0v1.0h-1.0zM119 202h1.0v1.0h-1.0zM98 205h1.0v1.0h-1.0zM80 206h1.0v1.0h-1.0zM102 206h1.0v1.0h-1.0zM133 193h1.0v1.0h-1.0zM114 192h1.0v1.0h-1.0zM103 205h1.0v1.0h-1.0zM135 185h1.0v1.0h-1.0zM73 201h1.0v1.0h-1.0zM96 200h1.0v1.0h-1.0zM87 210h1.0v1.0h-1.0zM97 205h1.0v1.0h-1.0zM96 185h1.0v1.0h-1.0zM111 192h1.0v1.0h-1.0zM91 181h1.0v1.0h-1.0zM103 197h1.0v1.0h-1.0zM71 192h1.0v1.0h-1.0zM129 186h1.0v1.0h-1.0zM100 190h1.0v1.0h-1.0zM58 196h1.0v1.0h-1.0zM129 184h1.0v1.0h-1.0zM96 222h1.0v1.0h-1.0zM68 200h1.0v1.0h-1.0zM127 218h1.0v1.0h-1.0zM102 202h1.0v1.0h-1.0zM108 187h1.0v1.0h-1.0zM115 201h1.0v1.0h-1.0zM108 201h1.0v1.0h-1.0zM78 194h1.0v1.0h-1.0zM103 174h1.0v1.0h-1.0zM132 183h1.0v1.0h-1.0zM117 195h1.0v1.0h-1.0zM101 203h1.0v1.0h-1.0zM119 193h1.0v1.0h-1.0zM112 199h1.0v1.0h-1.0z" fill="#ff1414" fill-opacity="0.4" filter="url(#soft)"/>
<path d="M136 198h1.0v1.0h-1.0zM136 200h1.0v1.0h-1.0zM135 199h1.0v1.0h-1.0zM135 205h1.0v1.0h-1.0zM161 201h1.0v1.0h-1.0zM133 206h1.0v1.0h-1.0zM130 210h1.0v1.0h-1.0zM133 203h1.0v1.0h-1.0z" fill="#dc1a08" fill-opacity="0.4" filter="url(#soft)"/>
<path d="M89 163h1.0v1.0h-1.0zM127 135h1.0v1.0h-1.0zM87 150h1.0v1.0h-1.0zM100 134h1.0v1.0h-1.0zM104 145h1.0v1.0h-1.0zM100 148h1.0v1.0h-1.0zM117 134h1.0v1.0h-1.0zM99 132h1.0v1.0h-1.0zM95 146h1.0v1.0h-1.0zM115 133h1.0v1.0h-1.0zM112 140h1.0v1.0h-1.0zM92 146h1.0v1.0h-1.0zM85 145h1.0v1.0h-1.0zM112 134h1.0v1.0h-1.0zM106 146h1.0v1.0h-1.0zM85 145h1.0v1.0h-1.0zM110 137h1.0v1.0h-1.0zM84 142h1.0v1.0h-1.0zM101 151h1.0v1.0h-1.0zM97 148h1.0v1.0h-1.0zM84 153h1.0v1.0h-1.0zM117 145h1.0v1.0h-1.0zM138 117h1.0v1.0h-1.0zM108 134h1.0v1.0h-1.0zM109 139h1.0v1.0h-1.0zM100 141h1.0v1.0h-1.0zM103 141h1.0v1.0h-1.0zM110 143h1.0v1.0h-1.0zM108 133h1.0v1.0h-1.0zM102 148h1.0v1.0h-1.0zM106 142h1.0v1.0h-1.0zM105 146h1.0v1.0h-1.0zM108 134h1.0v1.0h-1.0zM115 137h1.0v1.0h-1.0zM117 136h1.0v1.0h-1.0zM107 155h1.0v1.0h-1.0zM101 146h1.0v1.0h-1.0zM108 131h1.0v1.0h-1.0zM109 153h1.0v1.0h-1.0zM101 141h1.0v1.0h-1.0zM109 138h1.0v1.0h-1.0zM114 147h1.0v1.0h-1.0zM119 134h1.0v1.0h-1.0zM90 145h1.0v1.0h-1.0zM116 133h1.0v1.0h-1.0zM99 142h1.0v1.0h-1.0zM108 131h1.0v1.0h-1.0zM93 151h1.0v1.0h-1.0zM101 137h1.0v1.0h-1.0zM103 151h1.0v1.0h-1.0zM125 133h1.0v1.0h-1.0zM91 140h1.0v1.0h-1.0zM112 126h1.0v1.0h-1.0zM94 142h1.0v1.0h-1.0zM99 156h1.0v1.0h-1.0zM109 140h1.0v1.0h-1.0zM119 138h1.0v1.0h-1.0zM98 132h1.0v1.0h-1.0zM116 143h1.0v1.0h-1.0zM112 145h1.0v1.0h-1.0zM107 144h1.0v1.0h-1.0zM118 129h1.0v1.0h-1.0zM107 143h1.0v1.0h-1.0zM115 136h1.0v1.0h-1.0zM93 147h1.0v1.0h-1.0zM103 142h1.0v1.0h-1.0zM121 143h1.0v1.0h-1.0zM105 150h1.0v1.0h-1.0zM79 147h1.0v1.0h-1.0zM112 135h1.0v1.0h-1.0zM105 127h1.0v1.0h-1.0zM97 135h1.0v1.0h-1.0zM103 134h1.0v1.0h-1.0zM102 142h1.0v1.0h-1.0zM104 130h1.0v1.0h-1.0zM118 135h1.0v1.0h-1.0zM101 127h1.0v1.0h-1.0zM102 138h1.0v1.0h-1.0zM98 141h1.0v1.0h-1.0zM105 143h1.0v1.0h-1.0zM102 146h1.0v1.0h-1.0zM116 135h1.0v1.0h-1.0zM97 150h1.0v1.0h-1.0zM102 148h1.0v1.0h-1.0zM112 143h1.0v1.0h-1.0zM108 137h1.0v1.0h-1.0zM104 132h1.0v1.0h-1.0zM94 133h1.0v1.0h-1.0zM105 135h1.0v1.0h-1.0zM92 150h1.0v1.0h-1.0z" fill="#ff1414" fill-opacity="0.4" filter="url(#soft)"/>
<path d="" fill="#dc1a08" fill-opacity="0.4" filter="url(#soft)"/>
<line x1="27.5" y1="154.5" x2="222.5" y2="154.5" stroke="#ff2a2a" stroke-width="1.4"/>
<line x1="121.3" y1="232.5" x2="200.1" y2="37.5" stroke="#ff2a2a" stroke-width="1.5"/>
<circle cx="152.82" cy="154.5" r="2.9" fill="#fff" stroke="#ff2a2a" stroke-width="1.3"/>
<circle cx="199.20" cy="154.5" r="3.2" fill="#f00"/>
<rect x="27.5" y="37.5" width="195" height="195" fill="none" stroke="#606060" stroke-width="1"/>
<path d="M25.00 232.50H27.5M27.50 232.5V235.00M25.70 217.82H27.5M42.18 232.5V234.30M25.70 209.24H27.5M50.76 232.5V234.30M25.70 203.15H27.5M56.85 232.5V234.30M25.70 198.43H27.5M61.57 232.5V234.30M25.70 194.57H27.5M65.43 232.5V234.30M25.70 191.30H27.5M68.70 232.5V234.30M25.70 188.47H27.5M71.53 232.5V234.30M25.70 185.98H27.5M74.02 232.5V234.30M25.00 183.75H27.5M76.25 232.5V235.00M25.70 169.07H27.5M90.93 232.5V234.30M25.70 160.49H27.5M99.51 232.5V234.30M25.70 154.40H27.5M105.60 232.5V234.30M25.70 149.68H27.5M110.32 232.5V234.30M25.70 145.82H27.5M114.18 232.5V234.30M25.70 142.55H27.5M117.45 232.5V234.30M25.70 139.72H27.5M120.28 232.5V234.30M25.70 137.23H27.5M122.77 232.5V234.30M25.00 135.00H27.5M125.00 232.5V235.00M25.70 120.32H27.5M139.68 232.5V234.30M25.70 111.74H27.5M148.26 232.5V234.30M25.70 105.65H27.5M154.35 232.5V234.30M25.70 100.93H27.5M159.07 232.5V234.30M25.70 97.07H27.5M162.93 232.5V234.30M25.70 93.80H27.5M166.20 232.5V234.30M25.70 90.97H27.5M169.03 232.5V234.30M25.70 88.48H27.5M171.52 232.5V234.30M25.00 86.25H27.5M173.75 232.5V235.00M25.70 71.57H27.5M188.43 232.5V234.30M25.70 62.99H27.5M197.01 232.5V234.30M25.70 56.90H27.5M203.10 232.5V234.30M25.70 52.18H27.5M207.82 232.5V234.30M25.70 48.32H27.5M211.68 232.5V234.30M25.70 45.05H27.5M214.95 232.5V234.30M25.70 42.22H27.5M217.78 232.5V234.30M25.70 39.73H27.5M220.27 232.5V234.30M24.5 37.5H27.5M222.5 232.5V235.5" stroke="#666" stroke-width="0.8" fill="none"/>
<text x="24.50" y="235.00" font-size="7" fill="#333" text-anchor="end" font-weight="normal" >0</text>
<text x="27.50" y="242.10" font-size="7" fill="#333" text-anchor="middle" font-weight="normal" >0</text>
<text x="24.50" y="186.25" font-size="7" fill="#333" text-anchor="end" font-weight="normal" >1</text>
<text x="76.25" y="242.10" font-size="7" fill="#333" text-anchor="middle" font-weight="normal" >1</text>
<text x="24.50" y="137.50" font-size="7" fill="#333" text-anchor="end" font-weight="normal" >2</text>
<text x="125.00" y="242.10" font-size="7" fill="#333" text-anchor="middle" font-weight="normal" >2</text>
<text x="24.50" y="88.75" font-size="7" fill="#333" text-anchor="end" font-weight="normal" >3</text>
<text x="173.75" y="242.10" font-size="7" fill="#333" text-anchor="middle" font-weight="normal" >3</text>
<text x="24.50" y="40.00" font-size="7" fill="#333" text-anchor="end" font-weight="normal" >4</text>
<text x="222.50" y="242.10" font-size="7" fill="#333" text-anchor="middle" font-weight="normal" >4</text>
<text x="28.50" y="250.50" font-size="6.8" fill="#777" text-anchor="start" font-weight="normal" >Low</text>
<text x="221.50" y="250.50" font-size="6.8" fill="#777" text-anchor="end" font-weight="normal" >High</text>
<text transform="translate(124.20,252.10) scale(0.895,1)" font-size="10.5" fill="#222" text-anchor="middle" font-weight="normal" >MITOPOTENTIAL</text>
<text transform="translate(14.9,45.5) rotate(-90)" font-size="7.2" fill="#777" text-anchor="middle">Dead</text>
<text transform="translate(15.1,225.3) rotate(-90)" font-size="7.2" fill="#777" text-anchor="middle">Live</text>
<text transform="translate(15.6,134.5) rotate(-90) scale(0.895,1)" font-size="10.5" fill="#222" text-anchor="middle">VIABILITY</text>
<text transform="translate(31.10,47.10) scale(0.91,1)" font-size="9.0" fill="#333" text-anchor="start" font-weight="normal" >Depolarized/Dead</text>
<text transform="translate(31.10,56.30) scale(0.91,1)" font-size="9.0" fill="#333" text-anchor="start" font-weight="normal" >3.45 %</text>
<text transform="translate(219.20,47.10) scale(0.91,1)" font-size="9.0" fill="#333" text-anchor="end" font-weight="normal" >Dead</text>
<text transform="translate(219.20,56.30) scale(0.91,1)" font-size="9.0" fill="#333" text-anchor="end" font-weight="normal" >0.10 %</text>
<text transform="translate(31.10,219.90) scale(0.91,1)" font-size="9.0" fill="#333" text-anchor="start" font-weight="normal" >9.27 %</text>
<text transform="translate(31.10,229.40) scale(0.91,1)" font-size="9.0" fill="#333" text-anchor="start" font-weight="normal" >Depolarized/Live</text>
<text transform="translate(219.20,219.90) scale(0.91,1)" font-size="9.0" fill="#333" text-anchor="end" font-weight="normal" >87.19 %</text>
<text transform="translate(219.20,229.40) scale(0.91,1)" font-size="9.0" fill="#333" text-anchor="end" font-weight="normal" >Live</text>
<polygon points="408.30,234.50 510.50,234.50 510.50,156.50 439.82,156.50" fill="#e9f2cf"/>
<text x="405.50" y="16.70" font-size="14" fill="#111" text-anchor="middle" font-weight="normal" >10μM S-15176</text>
<text x="524.80" y="18.20" font-size="18.5" fill="#111" text-anchor="start" font-weight="normal" >b)</text>
<text transform="translate(412.50,38.00) scale(0.9,1)" font-size="10.7" fill="#333" text-anchor="middle" font-weight="normal" >CELL HEALTH PROFILE</text>
<path d="M413 210h1.0v1.0h-1.0zM416 195h1.0v1.0h-1.0zM411 215h1.0v1.0h-1.0zM416 210h1.0v1.0h-1.0zM414 218h1.0v1.0h-1.0zM411 216h1.0v1.0h-1.0zM407 221h1.0v1.0h-1.0zM413 209h1.0v1.0h-1.0zM404 219h1.0v1.0h-1.0zM403 220h1.0v1.0h-1.0zM409 206h1.0v1.0h-1.0zM413 204h1.0v1.0h-1.0zM415 211h1.0v1.0h-1.0zM408 219h1.0v1.0h-1.0zM408 213h1.0v1.0h-1.0zM389 221h1.0v1.0h-1.0zM413 198h1.0v1.0h-1.0zM408 205h1.0v1.0h-1.0zM406 206h1.0v1.0h-1.0zM406 222h1.0v1.0h-1.0zM405 216h1.0v1.0h-1.0zM397 208h1.0v1.0h-1.0zM409 208h1.0v1.0h-1.0zM401 215h1.0v1.0h-1.0zM407 213h1.0v1.0h-1.0zM395 210h1.0v1.0h-1.0zM403 224h1.0v1.0h-1.0zM409 204h1.0v1.0h-1.0zM409 222h1.0v1.0h-1.0zM402 216h1.0v1.0h-1.0zM406 204h1.0v1.0h-1.0zM415 212h1.0v1.0h-1.0zM410 212h1.0v1.0h-1.0zM416 205h1.0v1.0h-1.0zM408 197h1.0v1.0h-1.0zM416 210h1.0v1.0h-1.0zM394 206h1.0v1.0h-1.0zM400 199h1.0v1.0h-1.0zM395 207h1.0v1.0h-1.0zM400 211h1.0v1.0h-1.0zM404 224h1.0v1.0h-1.0zM410 211h1.0v1.0h-1.0zM406 214h1.0v1.0h-1.0zM415 211h1.0v1.0h-1.0zM400 205h1.0v1.0h-1.0zM396 198h1.0v1.0h-1.0zM405 215h1.0v1.0h-1.0zM406 211h1.0v1.0h-1.0zM408 207h1.0v1.0h-1.0zM400 218h1.0v1.0h-1.0zM412 218h1.0v1.0h-1.0zM393 222h1.0v1.0h-1.0zM404 214h1.0v1.0h-1.0zM402 218h1.0v1.0h-1.0zM398 202h1.0v1.0h-1.0zM408 216h1.0v1.0h-1.0zM408 207h1.0v1.0h-1.0zM400 210h1.0v1.0h-1.0zM407 211h1.0v1.0h-1.0zM399 223h1.0v1.0h-1.0zM403 210h1.0v1.0h-1.0zM412 204h1.0v1.0h-1.0zM402 213h1.0v1.0h-1.0zM405 213h1.0v1.0h-1.0zM410 213h1.0v1.0h-1.0zM406 212h1.0v1.0h-1.0zM398 211h1.0v1.0h-1.0zM410 214h1.0v1.0h-1.0zM386 219h1.0v1.0h-1.0zM413 218h1.0v1.0h-1.0zM400 211h1.0v1.0h-1.0zM410 206h1.0v1.0h-1.0zM407 214h1.0v1.0h-1.0zM415 203h1.0v1.0h-1.0zM403 216h1.0v1.0h-1.0zM394 221h1.0v1.0h-1.0zM408 214h1.0v1.0h-1.0zM399 202h1.0v1.0h-1.0zM410 223h1.0v1.0h-1.0zM415 208h1.0v1.0h-1.0zM401 217h1.0v1.0h-1.0zM412 210h1.0v1.0h-1.0zM413 205h1.0v1.0h-1.0zM391 214h1.0v1.0h-1.0zM409 214h1.0v1.0h-1.0zM403 217h1.0v1.0h-1.0zM405 213h1.0v1.0h-1.0zM399 209h1.0v1.0h-1.0zM408 223h1.0v1.0h-1.0zM411 201h1.0v1.0h-1.0zM410 206h1.0v1.0h-1.0zM400 221h1.0v1.0h-1.0zM412 197h1.0v1.0h-1.0zM397 214h1.0v1.0h-1.0zM400 203h1.0v1.0h-1.0zM404 218h1.0v1.0h-1.0zM410 204h1.0v1.0h-1.0zM404 209h1.0v1.0h-1.0zM398 213h1.0v1.0h-1.0zM406 204h1.0v1.0h-1.0zM402 211h1.0v1.0h-1.0zM398 211h1.0v1.0h-1.0zM420 204h1.0v1.0h-1.0zM411 217h1.0v1.0h-1.0zM410 208h1.0v1.0h-1.0zM409 213h1.0v1.0h-1.0zM403 214h1.0v1.0h-1.0zM406 206h1.0v1.0h-1.0zM418 206h1.0v1.0h-1.0zM410 208h1.0v1.0h-1.0zM408 213h1.0v1.0h-1.0zM403 213h1.0v1.0h-1.0zM407 220h1.0v1.0h-1.0zM411 207h1.0v1.0h-1.0zM407 207h1.0v1.0h-1.0zM397 221h1.0v1.0h-1.0zM392 212h1.0v1.0h-1.0zM411 209h1.0v1.0h-1.0zM410 206h1.0v1.0h-1.0zM415 210h1.0v1.0h-1.0zM407 208h1.0v1.0h-1.0zM402 213h1.0v1.0h-1.0zM389 202h1.0v1.0h-1.0zM401 217h1.0v1.0h-1.0zM387 212h1.0v1.0h-1.0zM409 212h1.0v1.0h-1.0zM416 206h1.0v1.0h-1.0zM391 210h1.0v1.0h-1.0zM395 212h1.0v1.0h-1.0zM410 206h1.0v1.0h-1.0zM411 216h1.0v1.0h-1.0zM392 216h1.0v1.0h-1.0zM405 223h1.0v1.0h-1.0zM404 201h1.0v1.0h-1.0zM401 204h1.0v1.0h-1.0zM412 218h1.0v1.0h-1.0zM408 215h1.0v1.0h-1.0zM406 221h1.0v1.0h-1.0zM412 216h1.0v1.0h-1.0zM407 215h1.0v1.0h-1.0zM397 219h1.0v1.0h-1.0zM404 209h1.0v1.0h-1.0zM403 216h1.0v1.0h-1.0zM404 209h1.0v1.0h-1.0zM410 212h1.0v1.0h-1.0zM412 210h1.0v1.0h-1.0zM394 226h1.0v1.0h-1.0zM414 204h1.0v1.0h-1.0zM414 218h1.0v1.0h-1.0zM412 213h1.0v1.0h-1.0zM410 220h1.0v1.0h-1.0zM413 207h1.0v1.0h-1.0zM412 218h1.0v1.0h-1.0zM392 214h1.0v1.0h-1.0zM398 202h1.0v1.0h-1.0zM404 211h1.0v1.0h-1.0zM409 227h1.0v1.0h-1.0zM401 208h1.0v1.0h-1.0zM411 210h1.0v1.0h-1.0zM397 212h1.0v1.0h-1.0zM400 212h1.0v1.0h-1.0zM397 208h1.0v1.0h-1.0zM404 206h1.0v1.0h-1.0zM410 212h1.0v1.0h-1.0zM403 223h1.0v1.0h-1.0zM410 212h1.0v1.0h-1.0zM401 209h1.0v1.0h-1.0zM390 218h1.0v1.0h-1.0zM411 224h1.0v1.0h-1.0zM413 202h1.0v1.0h-1.0zM400 202h1.0v1.0h-1.0zM397 210h1.0v1.0h-1.0zM401 217h1.0v1.0h-1.0zM409 206h1.0v1.0h-1.0zM400 206h1.0v1.0h-1.0zM411 199h1.0v1.0h-1.0zM404 203h1.0v1.0h-1.0zM400 207h1.0v1.0h-1.0zM406 220h1.0v1.0h-1.0zM411 212h1.0v1.0h-1.0zM414 207h1.0v1.0h-1.0zM401 214h1.0v1.0h-1.0zM403 228h1.0v1.0h-1.0zM399 216h1.0v1.0h-1.0zM412 215h1.0v1.0h-1.0zM402 212h1.0v1.0h-1.0zM406 218h1.0v1.0h-1.0zM414 209h1.0v1.0h-1.0zM398 223h1.0v1.0h-1.0zM412 211h1.0v1.0h-1.0zM399 221h1.0v1.0h-1.0zM402 219h1.0v1.0h-1.0zM408 206h1.0v1.0h-1.0zM406 214h1.0v1.0h-1.0zM408 216h1.0v1.0h-1.0zM408 201h1.0v1.0h-1.0zM409 214h1.0v1.0h-1.0zM413 210h1.0v1.0h-1.0zM394 196h1.0v1.0h-1.0zM405 209h1.0v1.0h-1.0zM401 208h1.0v1.0h-1.0zM405 216h1.0v1.0h-1.0zM419 202h1.0v1.0h-1.0zM399 207h1.0v1.0h-1.0zM418 205h1.0v1.0h-1.0zM403 201h1.0v1.0h-1.0zM409 210h1.0v1.0h-1.0zM404 197h1.0v1.0h-1.0zM406 217h1.0v1.0h-1.0zM418 201h1.0v1.0h-1.0zM392 225h1.0v1.0h-1.0zM403 207h1.0v1.0h-1.0zM401 219h1.0v1.0h-1.0zM402 215h1.0v1.0h-1.0zM410 219h1.0v1.0h-1.0zM404 205h1.0v1.0h-1.0zM407 215h1.0v1.0h-1.0zM409 220h1.0v1.0h-1.0zM390 219h1.0v1.0h-1.0zM406 220h1.0v1.0h-1.0zM400 219h1.0v1.0h-1.0zM407 206h1.0v1.0h-1.0zM402 208h1.0v1.0h-1.0zM405 206h1.0v1.0h-1.0zM395 209h1.0v1.0h-1.0zM405 216h1.0v1.0h-1.0zM416 214h1.0v1.0h-1.0zM404 214h1.0v1.0h-1.0zM410 216h1.0v1.0h-1.0zM396 218h1.0v1.0h-1.0zM414 214h1.0v1.0h-1.0zM407 214h1.0v1.0h-1.0zM412 214h1.0v1.0h-1.0zM400 214h1.0v1.0h-1.0zM403 213h1.0v1.0h-1.0zM401 216h1.0v1.0h-1.0zM390 207h1.0v1.0h-1.0zM408 205h1.0v1.0h-1.0zM408 208h1.0v1.0h-1.0zM408 207h1.0v1.0h-1.0zM400 216h1.0v1.0h-1.0zM410 207h1.0v1.0h-1.0zM393 215h1.0v1.0h-1.0zM409 194h1.0v1.0h-1.0zM406 212h1.0v1.0h-1.0zM404 220h1.0v1.0h-1.0zM401 207h1.0v1.0h-1.0zM409 203h1.0v1.0h-1.0zM391 209h1.0v1.0h-1.0zM404 220h1.0v1.0h-1.0zM412 222h1.0v1.0h-1.0zM396 212h1.0v1.0h-1.0zM411 203h1.0v1.0h-1.0zM405 207h1.0v1.0h-1.0zM402 214h1.0v1.0h-1.0zM410 200h1.0v1.0h-1.0zM405 211h1.0v1.0h-1.0zM408 232h1.0v1.0h-1.0zM406 215h1.0v1.0h-1.0zM403 219h1.0v1.0h-1.0zM405 211h1.0v1.0h-1.0zM408 215h1.0v1.0h-1.0zM416 212h1.0v1.0h-1.0zM403 204h1.0v1.0h-1.0zM403 219h1.0v1.0h-1.0zM404 212h1.0v1.0h-1.0zM398 211h1.0v1.0h-1.0zM398 217h1.0v1.0h-1.0zM408 217h1.0v1.0h-1.0zM401 220h1.0v1.0h-1.0zM401 222h1.0v1.0h-1.0zM417 200h1.0v1.0h-1.0zM406 215h1.0v1.0h-1.0zM402 205h1.0v1.0h-1.0zM406 214h1.0v1.0h-1.0zM401 221h1.0v1.0h-1.0zM414 209h1.0v1.0h-1.0zM397 215h1.0v1.0h-1.0zM410 202h1.0v1.0h-1.0zM403 228h1.0v1.0h-1.0zM412 208h1.0v1.0h-1.0zM394 217h1.0v1.0h-1.0zM410 214h1.0v1.0h-1.0zM399 206h1.0v1.0h-1.0zM398 207h1.0v1.0h-1.0zM405 228h1.0v1.0h-1.0zM409 218h1.0v1.0h-1.0zM403 215h1.0v1.0h-1.0zM403 216h1.0v1.0h-1.0zM403 218h1.0v1.0h-1.0zM402 211h1.0v1.0h-1.0zM403 208h1.0v1.0h-1.0zM398 215h1.0v1.0h-1.0zM401 217h1.0v1.0h-1.0zM390 219h1.0v1.0h-1.0zM409 218h1.0v1.0h-1.0zM410 206h1.0v1.0h-1.0zM401 209h1.0v1.0h-1.0zM398 206h1.0v1.0h-1.0zM407 213h1.0v1.0h-1.0zM414 204h1.0v1.0h-1.0zM409 212h1.0v1.0h-1.0zM401 216h1.0v1.0h-1.0zM408 207h1.0v1.0h-1.0zM406 220h1.0v1.0h-1.0zM416 211h1.0v1.0h-1.0zM404 210h1.0v1.0h-1.0zM412 213h1.0v1.0h-1.0zM412 206h1.0v1.0h-1.0zM405 212h1.0v1.0h-1.0zM403 216h1.0v1.0h-1.0zM402 218h1.0v1.0h-1.0zM411 199h1.0v1.0h-1.0zM396 206h1.0v1.0h-1.0zM413 219h1.0v1.0h-1.0zM417 201h1.0v1.0h-1.0zM394 214h1.0v1.0h-1.0zM409 210h1.0v1.0h-1.0zM399 213h1.0v1.0h-1.0zM409 222h1.0v1.0h-1.0zM406 196h1.0v1.0h-1.0zM395 203h1.0v1.0h-1.0zM397 216h1.0v1.0h-1.0zM404 214h1.0v1.0h-1.0zM408 211h1.0v1.0h-1.0zM406 218h1.0v1.0h-1.0zM399 212h1.0v1.0h-1.0zM412 211h1.0v1.0h-1.0zM401 222h1.0v1.0h-1.0zM397 220h1.0v1.0h-1.0z" fill="#ff1414" fill-opacity="0.78" filter="url(#soft)"/>
<path d="M419 219h1.0v1.0h-1.0zM418 211h1.0v1.0h-1.0zM423 205h1.0v1.0h-1.0zM422 221h1.0v1.0h-1.0zM415 216h1.0v1.0h-1.0zM419 207h1.0v1.0h-1.0zM416 218h1.0v1.0h-1.0zM420 210h1.0v1.0h-1.0zM421 203h1.0v1.0h-1.0zM413 222h1.0v1.0h-1.0zM417 217h1.0v1.0h-1.0zM422 209h1.0v1.0h-1.0zM412 226h1.0v1.0h-1.0zM416 217h1.0v1.0h-1.0zM417 219h1.0v1.0h-1.0zM421 210h1.0v1.0h-1.0zM417 213h1.0v1.0h-1.0zM421 210h1.0v1.0h-1.0zM425 219h1.0v1.0h-1.0zM424 222h1.0v1.0h-1.0zM417 220h1.0v1.0h-1.0zM419 207h1.0v1.0h-1.0zM414 220h1.0v1.0h-1.0zM418 216h1.0v1.0h-1.0zM422 220h1.0v1.0h-1.0zM420 206h1.0v1.0h-1.0zM415 219h1.0v1.0h-1.0zM418 208h1.0v1.0h-1.0zM419 216h1.0v1.0h-1.0zM424 195h1.0v1.0h-1.0zM421 203h1.0v1.0h-1.0zM419 217h1.0v1.0h-1.0zM420 206h1.0v1.0h-1.0zM414 221h1.0v1.0h-1.0zM422 200h1.0v1.0h-1.0zM421 211h1.0v1.0h-1.0zM419 214h1.0v1.0h-1.0zM426 224h1.0v1.0h-1.0zM420 213h1.0v1.0h-1.0zM421 206h1.0v1.0h-1.0zM416 219h1.0v1.0h-1.0zM421 208h1.0v1.0h-1.0zM422 216h1.0v1.0h-1.0zM428 208h1.0v1.0h-1.0zM417 214h1.0v1.0h-1.0zM417 220h1.0v1.0h-1.0zM420 215h1.0v1.0h-1.0zM416 218h1.0v1.0h-1.0zM421 210h1.0v1.0h-1.0zM417 213h1.0v1.0h-1.0z" fill="#e02010" fill-opacity="0.78" filter="url(#soft)"/>
<path d="M413 216h1.0v1.0h-1.0zM410 226h1.0v1.0h-1.0zM414 207h1.0v1.0h-1.0zM414 213h1.0v1.0h-1.0zM408 220h1.0v1.0h-1.0zM420 201h1.0v1.0h-1.0zM410 216h1.0v1.0h-1.0zM413 217h1.0v1.0h-1.0zM414 217h1.0v1.0h-1.0zM410 226h1.0v1.0h-1.0zM407 227h1.0v1.0h-1.0z" fill="#ff1414" fill-opacity="0.7" filter="url(#soft)"/>
<path d="M426 208h1.0v1.0h-1.0zM468 178h1.0v1.0h-1.0zM457 183h1.0v1.0h-1.0zM457 183h1.0v1.0h-1.0zM422 221h1.0v1.0h-1.0zM445 193h1.0v1.0h-1.0zM444 196h1.0v1.0h-1.0zM450 188h1.0v1.0h-1.0zM470 173h1.0v1.0h-1.0zM432 205h1.0v1.0h-1.0zM423 209h1.0v1.0h-1.0zM428 212h1.0v1.0h-1.0zM414 232h1.0v1.0h-1.0zM441 191h1.0v1.0h-1.0zM413 229h1.0v1.0h-1.0zM439 191h1.0v1.0h-1.0zM423 215h1.0v1.0h-1.0zM468 176h1.0v1.0h-1.0zM465 184h1.0v1.0h-1.0zM463 179h1.0v1.0h-1.0zM419 230h1.0v1.0h-1.0zM449 197h1.0v1.0h-1.0zM442 197h1.0v1.0h-1.0zM433 193h1.0v1.0h-1.0zM453 185h1.0v1.0h-1.0zM434 204h1.0v1.0h-1.0zM465 176h1.0v1.0h-1.0zM432 205h1.0v1.0h-1.0zM423 210h1.0v1.0h-1.0zM442 198h1.0v1.0h-1.0zM424 221h1.0v1.0h-1.0zM464 174h1.0v1.0h-1.0zM444 196h1.0v1.0h-1.0zM442 193h1.0v1.0h-1.0zM456 183h1.0v1.0h-1.0zM445 190h1.0v1.0h-1.0zM419 227h1.0v1.0h-1.0zM441 194h1.0v1.0h-1.0zM455 186h1.0v1.0h-1.0zM421 225h1.0v1.0h-1.0zM455 183h1.0v1.0h-1.0zM423 208h1.0v1.0h-1.0zM468 173h1.0v1.0h-1.0zM420 222h1.0v1.0h-1.0zM424 213h1.0v1.0h-1.0zM445 194h1.0v1.0h-1.0zM421 223h1.0v1.0h-1.0zM427 210h1.0v1.0h-1.0zM438 200h1.0v1.0h-1.0zM460 182h1.0v1.0h-1.0zM455 176h1.0v1.0h-1.0zM468 174h1.0v1.0h-1.0zM452 187h1.0v1.0h-1.0zM438 193h1.0v1.0h-1.0zM434 204h1.0v1.0h-1.0zM435 209h1.0v1.0h-1.0zM415 222h1.0v1.0h-1.0zM460 179h1.0v1.0h-1.0zM427 220h1.0v1.0h-1.0zM450 197h1.0v1.0h-1.0zM437 212h1.0v1.0h-1.0zM455 185h1.0v1.0h-1.0zM436 195h1.0v1.0h-1.0zM460 177h1.0v1.0h-1.0zM455 183h1.0v1.0h-1.0zM441 192h1.0v1.0h-1.0zM456 186h1.0v1.0h-1.0zM434 208h1.0v1.0h-1.0zM423 208h1.0v1.0h-1.0zM427 218h1.0v1.0h-1.0zM424 207h1.0v1.0h-1.0zM466 173h1.0v1.0h-1.0zM431 197h1.0v1.0h-1.0zM418 229h1.0v1.0h-1.0zM429 206h1.0v1.0h-1.0zM469 171h1.0v1.0h-1.0zM431 190h1.0v1.0h-1.0zM444 191h1.0v1.0h-1.0zM423 215h1.0v1.0h-1.0zM461 187h1.0v1.0h-1.0zM416 229h1.0v1.0h-1.0zM450 194h1.0v1.0h-1.0zM468 172h1.0v1.0h-1.0zM444 199h1.0v1.0h-1.0zM428 217h1.0v1.0h-1.0zM455 196h1.0v1.0h-1.0zM412 224h1.0v1.0h-1.0zM423 230h1.0v1.0h-1.0zM437 194h1.0v1.0h-1.0zM424 215h1.0v1.0h-1.0zM445 192h1.0v1.0h-1.0zM414 229h1.0v1.0h-1.0zM415 225h1.0v1.0h-1.0zM452 182h1.0v1.0h-1.0zM458 183h1.0v1.0h-1.0zM452 190h1.0v1.0h-1.0zM456 185h1.0v1.0h-1.0zM460 178h1.0v1.0h-1.0zM421 227h1.0v1.0h-1.0zM468 174h1.0v1.0h-1.0zM418 227h1.0v1.0h-1.0zM446 199h1.0v1.0h-1.0zM453 187h1.0v1.0h-1.0zM443 195h1.0v1.0h-1.0zM440 201h1.0v1.0h-1.0zM416 225h1.0v1.0h-1.0zM423 224h1.0v1.0h-1.0zM441 193h1.0v1.0h-1.0zM456 183h1.0v1.0h-1.0zM463 176h1.0v1.0h-1.0zM460 180h1.0v1.0h-1.0zM462 178h1.0v1.0h-1.0zM424 211h1.0v1.0h-1.0zM433 210h1.0v1.0h-1.0zM438 198h1.0v1.0h-1.0zM426 216h1.0v1.0h-1.0zM421 211h1.0v1.0h-1.0zM432 208h1.0v1.0h-1.0zM464 173h1.0v1.0h-1.0zM447 199h1.0v1.0h-1.0zM423 214h1.0v1.0h-1.0zM463 176h1.0v1.0h-1.0zM427 196h1.0v1.0h-1.0zM452 185h1.0v1.0h-1.0zM461 177h1.0v1.0h-1.0zM420 214h1.0v1.0h-1.0zM417 219h1.0v1.0h-1.0zM455 187h1.0v1.0h-1.0zM416 224h1.0v1.0h-1.0zM433 201h1.0v1.0h-1.0zM432 198h1.0v1.0h-1.0zM435 196h1.0v1.0h-1.0zM460 180h1.0v1.0h-1.0zM448 189h1.0v1.0h-1.0zM418 219h1.0v1.0h-1.0zM464 176h1.0v1.0h-1.0zM451 188h1.0v1.0h-1.0zM449 194h1.0v1.0h-1.0zM467 175h1.0v1.0h-1.0zM429 199h1.0v1.0h-1.0zM421 213h1.0v1.0h-1.0zM453 192h1.0v1.0h-1.0zM425 210h1.0v1.0h-1.0zM436 203h1.0v1.0h-1.0zM465 172h1.0v1.0h-1.0zM462 170h1.0v1.0h-1.0zM422 211h1.0v1.0h-1.0zM437 197h1.0v1.0h-1.0zM425 230h1.0v1.0h-1.0zM453 190h1.0v1.0h-1.0zM438 204h1.0v1.0h-1.0zM444 197h1.0v1.0h-1.0zM426 202h1.0v1.0h-1.0zM422 218h1.0v1.0h-1.0zM434 202h1.0v1.0h-1.0zM463 185h1.0v1.0h-1.0zM452 185h1.0v1.0h-1.0zM455 180h1.0v1.0h-1.0zM455 185h1.0v1.0h-1.0zM418 222h1.0v1.0h-1.0zM443 194h1.0v1.0h-1.0zM415 229h1.0v1.0h-1.0zM458 183h1.0v1.0h-1.0zM421 214h1.0v1.0h-1.0zM465 175h1.0v1.0h-1.0zM459 190h1.0v1.0h-1.0zM417 219h1.0v1.0h-1.0zM460 182h1.0v1.0h-1.0zM435 196h1.0v1.0h-1.0zM466 169h1.0v1.0h-1.0zM469 175h1.0v1.0h-1.0zM443 195h1.0v1.0h-1.0zM442 202h1.0v1.0h-1.0zM451 194h1.0v1.0h-1.0zM444 195h1.0v1.0h-1.0zM442 192h1.0v1.0h-1.0zM459 189h1.0v1.0h-1.0zM450 190h1.0v1.0h-1.0zM471 177h1.0v1.0h-1.0zM449 194h1.0v1.0h-1.0zM419 230h1.0v1.0h-1.0zM459 184h1.0v1.0h-1.0zM436 204h1.0v1.0h-1.0zM461 178h1.0v1.0h-1.0zM447 204h1.0v1.0h-1.0zM430 202h1.0v1.0h-1.0zM457 179h1.0v1.0h-1.0zM434 205h1.0v1.0h-1.0zM417 218h1.0v1.0h-1.0zM465 179h1.0v1.0h-1.0zM424 214h1.0v1.0h-1.0zM471 172h1.0v1.0h-1.0zM421 220h1.0v1.0h-1.0zM414 227h1.0v1.0h-1.0zM462 179h1.0v1.0h-1.0zM462 181h1.0v1.0h-1.0zM425 210h1.0v1.0h-1.0zM456 181h1.0v1.0h-1.0zM416 224h1.0v1.0h-1.0zM436 203h1.0v1.0h-1.0zM462 184h1.0v1.0h-1.0zM422 220h1.0v1.0h-1.0zM421 225h1.0v1.0h-1.0zM462 177h1.0v1.0h-1.0zM464 184h1.0v1.0h-1.0zM436 214h1.0v1.0h-1.0zM415 222h1.0v1.0h-1.0zM428 212h1.0v1.0h-1.0zM447 194h1.0v1.0h-1.0zM432 209h1.0v1.0h-1.0zM448 190h1.0v1.0h-1.0zM463 174h1.0v1.0h-1.0zM431 200h1.0v1.0h-1.0zM464 175h1.0v1.0h-1.0zM456 183h1.0v1.0h-1.0zM448 196h1.0v1.0h-1.0zM429 214h1.0v1.0h-1.0zM453 187h1.0v1.0h-1.0zM459 179h1.0v1.0h-1.0zM452 193h1.0v1.0h-1.0zM436 203h1.0v1.0h-1.0zM457 185h1.0v1.0h-1.0zM420 227h1.0v1.0h-1.0zM455 189h1.0v1.0h-1.0zM458 182h1.0v1.0h-1.0zM426 212h1.0v1.0h-1.0zM414 221h1.0v1.0h-1.0zM429 206h1.0v1.0h-1.0zM464 177h1.0v1.0h-1.0zM458 194h1.0v1.0h-1.0zM463 175h1.0v1.0h-1.0zM422 218h1.0v1.0h-1.0zM442 213h1.0v1.0h-1.0zM467 174h1.0v1.0h-1.0zM417 221h1.0v1.0h-1.0zM428 208h1.0v1.0h-1.0zM453 186h1.0v1.0h-1.0zM421 206h1.0v1.0h-1.0zM463 181h1.0v1.0h-1.0zM464 172h1.0v1.0h-1.0zM415 224h1.0v1.0h-1.0zM422 215h1.0v1.0h-1.0zM442 198h1.0v1.0h-1.0zM454 186h1.0v1.0h-1.0zM426 209h1.0v1.0h-1.0zM426 207h1.0v1.0h-1.0zM422 217h1.0v1.0h-1.0zM461 179h1.0v1.0h-1.0zM463 175h1.0v1.0h-1.0zM434 198h1.0v1.0h-1.0zM421 217h1.0v1.0h-1.0zM423 205h1.0v1.0h-1.0zM431 206h1.0v1.0h-1.0zM447 192h1.0v1.0h-1.0zM422 226h1.0v1.0h-1.0zM464 174h1.0v1.0h-1.0zM454 181h1.0v1.0h-1.0zM414 226h1.0v1.0h-1.0zM413 227h1.0v1.0h-1.0zM445 184h1.0v1.0h-1.0zM446 196h1.0v1.0h-1.0zM439 199h1.0v1.0h-1.0zM449 191h1.0v1.0h-1.0zM453 185h1.0v1.0h-1.0zM454 188h1.0v1.0h-1.0zM465 173h1.0v1.0h-1.0zM437 207h1.0v1.0h-1.0zM436 205h1.0v1.0h-1.0zM427 220h1.0v1.0h-1.0zM411 227h1.0v1.0h-1.0zM462 175h1.0v1.0h-1.0zM427 208h1.0v1.0h-1.0zM431 201h1.0v1.0h-1.0zM456 192h1.0v1.0h-1.0zM428 212h1.0v1.0h-1.0zM425 206h1.0v1.0h-1.0zM443 192h1.0v1.0h-1.0zM456 192h1.0v1.0h-1.0zM451 187h1.0v1.0h-1.0zM435 204h1.0v1.0h-1.0zM440 189h1.0v1.0h-1.0zM413 228h1.0v1.0h-1.0zM458 181h1.0v1.0h-1.0zM426 210h1.0v1.0h-1.0zM415 228h1.0v1.0h-1.0zM430 208h1.0v1.0h-1.0zM423 221h1.0v1.0h-1.0zM417 212h1.0v1.0h-1.0zM465 175h1.0v1.0h-1.0zM453 189h1.0v1.0h-1.0zM435 203h1.0v1.0h-1.0zM449 194h1.0v1.0h-1.0zM444 193h1.0v1.0h-1.0zM423 210h1.0v1.0h-1.0zM437 195h1.0v1.0h-1.0zM429 212h1.0v1.0h-1.0zM467 174h1.0v1.0h-1.0zM440 197h1.0v1.0h-1.0zM423 218h1.0v1.0h-1.0zM441 196h1.0v1.0h-1.0zM447 188h1.0v1.0h-1.0zM425 215h1.0v1.0h-1.0zM431 199h1.0v1.0h-1.0zM414 224h1.0v1.0h-1.0zM419 206h1.0v1.0h-1.0zM437 201h1.0v1.0h-1.0zM464 176h1.0v1.0h-1.0zM467 167h1.0v1.0h-1.0zM428 208h1.0v1.0h-1.0zM430 210h1.0v1.0h-1.0zM412 228h1.0v1.0h-1.0zM445 193h1.0v1.0h-1.0zM464 179h1.0v1.0h-1.0zM434 192h1.0v1.0h-1.0zM449 193h1.0v1.0h-1.0zM435 201h1.0v1.0h-1.0zM424 220h1.0v1.0h-1.0zM467 169h1.0v1.0h-1.0zM471 173h1.0v1.0h-1.0zM432 207h1.0v1.0h-1.0zM428 214h1.0v1.0h-1.0zM448 190h1.0v1.0h-1.0zM429 212h1.0v1.0h-1.0zM459 181h1.0v1.0h-1.0zM424 212h1.0v1.0h-1.0zM421 210h1.0v1.0h-1.0zM418 211h1.0v1.0h-1.0zM418 221h1.0v1.0h-1.0zM440 196h1.0v1.0h-1.0zM462 177h1.0v1.0h-1.0zM427 207h1.0v1.0h-1.0zM416 227h1.0v1.0h-1.0zM418 224h1.0v1.0h-1.0zM440 192h1.0v1.0h-1.0zM426 216h1.0v1.0h-1.0zM427 225h1.0v1.0h-1.0zM415 219h1.0v1.0h-1.0zM420 214h1.0v1.0h-1.0zM419 224h1.0v1.0h-1.0zM466 171h1.0v1.0h-1.0zM420 228h1.0v1.0h-1.0zM463 175h1.0v1.0h-1.0zM453 183h1.0v1.0h-1.0zM419 214h1.0v1.0h-1.0zM447 197h1.0v1.0h-1.0zM423 202h1.0v1.0h-1.0zM432 204h1.0v1.0h-1.0zM424 200h1.0v1.0h-1.0zM456 185h1.0v1.0h-1.0zM420 219h1.0v1.0h-1.0zM455 187h1.0v1.0h-1.0zM429 222h1.0v1.0h-1.0zM439 198h1.0v1.0h-1.0zM470 173h1.0v1.0h-1.0zM440 199h1.0v1.0h-1.0zM420 228h1.0v1.0h-1.0zM427 208h1.0v1.0h-1.0zM445 198h1.0v1.0h-1.0zM420 218h1.0v1.0h-1.0zM454 193h1.0v1.0h-1.0zM457 188h1.0v1.0h-1.0zM458 181h1.0v1.0h-1.0zM455 187h1.0v1.0h-1.0zM418 227h1.0v1.0h-1.0zM433 206h1.0v1.0h-1.0zM454 199h1.0v1.0h-1.0zM458 180h1.0v1.0h-1.0zM420 211h1.0v1.0h-1.0zM468 170h1.0v1.0h-1.0z" fill="#e02010" fill-opacity="0.7" filter="url(#soft)"/>
<path d="M413 222h1.0v1.0h-1.0zM414 213h1.0v1.0h-1.0zM417 210h1.0v1.0h-1.0zM423 194h1.0v1.0h-1.0zM409 224h1.0v1.0h-1.0zM408 221h1.0v1.0h-1.0zM415 214h1.0v1.0h-1.0zM411 225h1.0v1.0h-1.0zM407 224h1.0v1.0h-1.0zM419 206h1.0v1.0h-1.0zM413 213h1.0v1.0h-1.0zM411 225h1.0v1.0h-1.0zM411 215h1.0v1.0h-1.0zM413 216h1.0v1.0h-1.0zM408 224h1.0v1.0h-1.0zM413 217h1.0v1.0h-1.0zM411 214h1.0v1.0h-1.0zM408 227h1.0v1.0h-1.0zM413 214h1.0v1.0h-1.0zM414 216h1.0v1.0h-1.0zM409 226h1.0v1.0h-1.0zM411 220h1.0v1.0h-1.0zM406 226h1.0v1.0h-1.0z" fill="#ff1414" fill-opacity="0.7" filter="url(#soft)"/>
<path d="M453 187h1.0v1.0h-1.0zM450 191h1.0v1.0h-1.0zM425 219h1.0v1.0h-1.0zM422 211h1.0v1.0h-1.0zM453 187h1.0v1.0h-1.0zM423 218h1.0v1.0h-1.0zM458 178h1.0v1.0h-1.0zM418 222h1.0v1.0h-1.0zM458 177h1.0v1.0h-1.0zM434 202h1.0v1.0h-1.0zM421 215h1.0v1.0h-1.0zM417 228h1.0v1.0h-1.0zM433 211h1.0v1.0h-1.0zM424 206h1.0v1.0h-1.0zM417 226h1.0v1.0h-1.0zM416 228h1.0v1.0h-1.0zM421 230h1.0v1.0h-1.0zM416 224h1.0v1.0h-1.0zM467 175h1.0v1.0h-1.0zM433 217h1.0v1.0h-1.0zM411 229h1.0v1.0h-1.0zM437 200h1.0v1.0h-1.0zM430 215h1.0v1.0h-1.0zM414 224h1.0v1.0h-1.0zM418 225h1.0v1.0h-1.0zM413 224h1.0v1.0h-1.0zM416 222h1.0v1.0h-1.0zM423 213h1.0v1.0h-1.0zM461 183h1.0v1.0h-1.0zM449 191h1.0v1.0h-1.0zM423 214h1.0v1.0h-1.0zM436 200h1.0v1.0h-1.0zM430 214h1.0v1.0h-1.0zM427 214h1.0v1.0h-1.0zM423 217h1.0v1.0h-1.0zM415 225h1.0v1.0h-1.0zM453 183h1.0v1.0h-1.0zM436 211h1.0v1.0h-1.0zM428 213h1.0v1.0h-1.0zM420 232h1.0v1.0h-1.0zM429 201h1.0v1.0h-1.0zM443 187h1.0v1.0h-1.0zM430 203h1.0v1.0h-1.0zM441 200h1.0v1.0h-1.0zM423 212h1.0v1.0h-1.0zM429 213h1.0v1.0h-1.0zM422 227h1.0v1.0h-1.0zM435 199h1.0v1.0h-1.0zM423 222h1.0v1.0h-1.0zM436 195h1.0v1.0h-1.0zM424 210h1.0v1.0h-1.0zM431 205h1.0v1.0h-1.0zM425 210h1.0v1.0h-1.0zM417 232h1.0v1.0h-1.0zM417 230h1.0v1.0h-1.0zM434 204h1.0v1.0h-1.0zM431 200h1.0v1.0h-1.0zM435 210h1.0v1.0h-1.0zM421 220h1.0v1.0h-1.0zM418 214h1.0v1.0h-1.0zM427 216h1.0v1.0h-1.0zM442 195h1.0v1.0h-1.0zM441 198h1.0v1.0h-1.0zM426 213h1.0v1.0h-1.0zM422 218h1.0v1.0h-1.0zM420 232h1.0v1.0h-1.0zM445 207h1.0v1.0h-1.0zM446 196h1.0v1.0h-1.0zM418 225h1.0v1.0h-1.0zM416 226h1.0v1.0h-1.0zM428 211h1.0v1.0h-1.0zM419 226h1.0v1.0h-1.0zM418 224h1.0v1.0h-1.0zM433 219h1.0v1.0h-1.0zM431 212h1.0v1.0h-1.0zM420 228h1.0v1.0h-1.0zM421 217h1.0v1.0h-1.0zM427 227h1.0v1.0h-1.0zM436 204h1.0v1.0h-1.0zM431 206h1.0v1.0h-1.0zM427 206h1.0v1.0h-1.0zM416 232h1.0v1.0h-1.0zM441 206h1.0v1.0h-1.0zM423 211h1.0v1.0h-1.0zM413 223h1.0v1.0h-1.0zM423 220h1.0v1.0h-1.0zM419 215h1.0v1.0h-1.0zM427 206h1.0v1.0h-1.0zM422 209h1.0v1.0h-1.0zM415 219h1.0v1.0h-1.0zM421 224h1.0v1.0h-1.0zM413 224h1.0v1.0h-1.0zM465 176h1.0v1.0h-1.0zM437 196h1.0v1.0h-1.0zM434 201h1.0v1.0h-1.0zM429 211h1.0v1.0h-1.0zM426 216h1.0v1.0h-1.0zM419 212h1.0v1.0h-1.0zM449 188h1.0v1.0h-1.0zM443 191h1.0v1.0h-1.0zM423 218h1.0v1.0h-1.0zM419 216h1.0v1.0h-1.0zM449 187h1.0v1.0h-1.0zM439 202h1.0v1.0h-1.0zM412 229h1.0v1.0h-1.0zM416 226h1.0v1.0h-1.0zM419 227h1.0v1.0h-1.0zM434 199h1.0v1.0h-1.0zM429 207h1.0v1.0h-1.0zM426 215h1.0v1.0h-1.0zM439 201h1.0v1.0h-1.0zM442 199h1.0v1.0h-1.0zM418 222h1.0v1.0h-1.0zM433 203h1.0v1.0h-1.0zM449 196h1.0v1.0h-1.0zM433 199h1.0v1.0h-1.0zM462 175h1.0v1.0h-1.0zM420 230h1.0v1.0h-1.0zM426 206h1.0v1.0h-1.0zM413 223h1.0v1.0h-1.0zM419 224h1.0v1.0h-1.0zM438 204h1.0v1.0h-1.0zM433 216h1.0v1.0h-1.0zM454 197h1.0v1.0h-1.0zM430 206h1.0v1.0h-1.0zM414 225h1.0v1.0h-1.0zM418 226h1.0v1.0h-1.0zM414 223h1.0v1.0h-1.0zM429 207h1.0v1.0h-1.0zM422 216h1.0v1.0h-1.0zM449 192h1.0v1.0h-1.0zM414 223h1.0v1.0h-1.0zM456 184h1.0v1.0h-1.0zM431 202h1.0v1.0h-1.0zM412 227h1.0v1.0h-1.0zM416 223h1.0v1.0h-1.0zM417 228h1.0v1.0h-1.0zM439 189h1.0v1.0h-1.0zM462 177h1.0v1.0h-1.0zM449 197h1.0v1.0h-1.0zM422 217h1.0v1.0h-1.0zM417 220h1.0v1.0h-1.0zM424 216h1.0v1.0h-1.0zM441 205h1.0v1.0h-1.0zM420 217h1.0v1.0h-1.0zM424 209h1.0v1.0h-1.0zM418 228h1.0v1.0h-1.0zM415 225h1.0v1.0h-1.0zM422 211h1.0v1.0h-1.0zM421 223h1.0v1.0h-1.0zM421 212h1.0v1.0h-1.0zM430 203h1.0v1.0h-1.0zM429 217h1.0v1.0h-1.0zM462 178h1.0v1.0h-1.0zM429 216h1.0v1.0h-1.0zM422 205h1.0v1.0h-1.0zM419 209h1.0v1.0h-1.0zM423 209h1.0v1.0h-1.0zM427 209h1.0v1.0h-1.0zM438 199h1.0v1.0h-1.0zM420 215h1.0v1.0h-1.0zM439 195h1.0v1.0h-1.0zM420 218h1.0v1.0h-1.0zM439 197h1.0v1.0h-1.0zM424 206h1.0v1.0h-1.0zM424 212h1.0v1.0h-1.0zM441 191h1.0v1.0h-1.0zM439 204h1.0v1.0h-1.0zM419 217h1.0v1.0h-1.0zM436 199h1.0v1.0h-1.0zM423 215h1.0v1.0h-1.0zM418 225h1.0v1.0h-1.0zM467 172h1.0v1.0h-1.0zM424 209h1.0v1.0h-1.0zM421 226h1.0v1.0h-1.0zM420 218h1.0v1.0h-1.0zM451 180h1.0v1.0h-1.0zM441 191h1.0v1.0h-1.0zM445 188h1.0v1.0h-1.0zM415 220h1.0v1.0h-1.0zM444 196h1.0v1.0h-1.0zM462 185h1.0v1.0h-1.0zM436 203h1.0v1.0h-1.0zM421 221h1.0v1.0h-1.0zM432 211h1.0v1.0h-1.0zM437 212h1.0v1.0h-1.0zM422 225h1.0v1.0h-1.0zM432 207h1.0v1.0h-1.0zM420 217h1.0v1.0h-1.0zM428 202h1.0v1.0h-1.0zM419 223h1.0v1.0h-1.0zM436 206h1.0v1.0h-1.0zM438 201h1.0v1.0h-1.0zM421 212h1.0v1.0h-1.0zM423 220h1.0v1.0h-1.0zM419 217h1.0v1.0h-1.0zM432 200h1.0v1.0h-1.0zM417 226h1.0v1.0h-1.0zM443 192h1.0v1.0h-1.0zM451 194h1.0v1.0h-1.0zM430 203h1.0v1.0h-1.0zM422 216h1.0v1.0h-1.0zM430 205h1.0v1.0h-1.0zM430 215h1.0v1.0h-1.0zM420 218h1.0v1.0h-1.0zM447 198h1.0v1.0h-1.0zM421 208h1.0v1.0h-1.0zM432 209h1.0v1.0h-1.0zM417 219h1.0v1.0h-1.0zM432 205h1.0v1.0h-1.0zM429 206h1.0v1.0h-1.0zM434 207h1.0v1.0h-1.0zM417 217h1.0v1.0h-1.0zM439 203h1.0v1.0h-1.0zM427 209h1.0v1.0h-1.0zM420 210h1.0v1.0h-1.0zM433 190h1.0v1.0h-1.0zM442 198h1.0v1.0h-1.0zM446 190h1.0v1.0h-1.0zM451 193h1.0v1.0h-1.0zM418 222h1.0v1.0h-1.0zM420 230h1.0v1.0h-1.0zM422 221h1.0v1.0h-1.0zM444 198h1.0v1.0h-1.0zM441 196h1.0v1.0h-1.0zM445 199h1.0v1.0h-1.0zM427 216h1.0v1.0h-1.0zM423 212h1.0v1.0h-1.0zM444 189h1.0v1.0h-1.0zM433 202h1.0v1.0h-1.0zM425 226h1.0v1.0h-1.0zM424 213h1.0v1.0h-1.0zM433 209h1.0v1.0h-1.0zM414 228h1.0v1.0h-1.0zM423 219h1.0v1.0h-1.0zM416 227h1.0v1.0h-1.0zM466 179h1.0v1.0h-1.0zM426 226h1.0v1.0h-1.0zM429 206h1.0v1.0h-1.0zM425 206h1.0v1.0h-1.0zM459 181h1.0v1.0h-1.0zM424 212h1.0v1.0h-1.0zM417 226h1.0v1.0h-1.0zM424 220h1.0v1.0h-1.0zM424 212h1.0v1.0h-1.0zM439 198h1.0v1.0h-1.0zM428 210h1.0v1.0h-1.0zM422 226h1.0v1.0h-1.0zM432 202h1.0v1.0h-1.0zM436 207h1.0v1.0h-1.0zM443 205h1.0v1.0h-1.0zM423 211h1.0v1.0h-1.0zM448 197h1.0v1.0h-1.0zM420 223h1.0v1.0h-1.0zM417 224h1.0v1.0h-1.0zM433 217h1.0v1.0h-1.0zM455 192h1.0v1.0h-1.0zM414 229h1.0v1.0h-1.0zM430 213h1.0v1.0h-1.0zM440 193h1.0v1.0h-1.0zM454 192h1.0v1.0h-1.0zM419 223h1.0v1.0h-1.0zM439 208h1.0v1.0h-1.0zM444 194h1.0v1.0h-1.0zM448 192h1.0v1.0h-1.0zM430 208h1.0v1.0h-1.0zM433 206h1.0v1.0h-1.0zM425 206h1.0v1.0h-1.0zM415 228h1.0v1.0h-1.0zM429 201h1.0v1.0h-1.0zM418 217h1.0v1.0h-1.0zM428 210h1.0v1.0h-1.0zM429 209h1.0v1.0h-1.0zM449 195h1.0v1.0h-1.0zM441 209h1.0v1.0h-1.0zM435 209h1.0v1.0h-1.0zM450 195h1.0v1.0h-1.0zM422 211h1.0v1.0h-1.0zM423 216h1.0v1.0h-1.0zM432 195h1.0v1.0h-1.0zM415 227h1.0v1.0h-1.0zM464 181h1.0v1.0h-1.0zM423 207h1.0v1.0h-1.0zM412 229h1.0v1.0h-1.0zM423 216h1.0v1.0h-1.0zM427 214h1.0v1.0h-1.0zM415 230h1.0v1.0h-1.0zM431 204h1.0v1.0h-1.0zM422 223h1.0v1.0h-1.0zM440 195h1.0v1.0h-1.0zM443 209h1.0v1.0h-1.0zM434 212h1.0v1.0h-1.0zM461 179h1.0v1.0h-1.0zM436 196h1.0v1.0h-1.0zM436 198h1.0v1.0h-1.0z" fill="#e02010" fill-opacity="0.7" filter="url(#soft)"/>
<path d="M360 170h1.0v1.0h-1.0zM394 197h1.0v1.0h-1.0zM365 206h1.0v1.0h-1.0zM382 179h1.0v1.0h-1.0zM325 176h1.0v1.0h-1.0zM363 182h1.0v1.0h-1.0zM381 174h1.0v1.0h-1.0zM365 187h1.0v1.0h-1.0zM396 191h1.0v1.0h-1.0zM408 198h1.0v1.0h-1.0zM398 185h1.0v1.0h-1.0zM360 208h1.0v1.0h-1.0zM389 189h1.0v1.0h-1.0zM382 187h1.0v1.0h-1.0zM405 182h1.0v1.0h-1.0zM398 203h1.0v1.0h-1.0zM419 196h1.0v1.0h-1.0zM400 184h1.0v1.0h-1.0zM403 156h1.0v1.0h-1.0zM394 187h1.0v1.0h-1.0zM409 184h1.0v1.0h-1.0zM395 196h1.0v1.0h-1.0zM406 165h1.0v1.0h-1.0zM388 190h1.0v1.0h-1.0zM405 194h1.0v1.0h-1.0zM405 189h1.0v1.0h-1.0zM407 207h1.0v1.0h-1.0zM404 203h1.0v1.0h-1.0zM398 194h1.0v1.0h-1.0zM411 202h1.0v1.0h-1.0zM372 173h1.0v1.0h-1.0zM373 192h1.0v1.0h-1.0zM391 162h1.0v1.0h-1.0zM380 184h1.0v1.0h-1.0zM415 202h1.0v1.0h-1.0zM406 190h1.0v1.0h-1.0zM404 183h1.0v1.0h-1.0zM389 189h1.0v1.0h-1.0zM379 182h1.0v1.0h-1.0zM377 190h1.0v1.0h-1.0zM419 204h1.0v1.0h-1.0zM394 191h1.0v1.0h-1.0zM376 166h1.0v1.0h-1.0zM398 196h1.0v1.0h-1.0zM385 189h1.0v1.0h-1.0zM391 198h1.0v1.0h-1.0zM399 187h1.0v1.0h-1.0zM381 174h1.0v1.0h-1.0zM370 174h1.0v1.0h-1.0zM377 193h1.0v1.0h-1.0zM400 193h1.0v1.0h-1.0zM397 183h1.0v1.0h-1.0zM406 188h1.0v1.0h-1.0zM381 192h1.0v1.0h-1.0zM381 210h1.0v1.0h-1.0zM369 170h1.0v1.0h-1.0zM393 190h1.0v1.0h-1.0zM376 185h1.0v1.0h-1.0zM396 200h1.0v1.0h-1.0zM410 175h1.0v1.0h-1.0zM393 192h1.0v1.0h-1.0zM410 191h1.0v1.0h-1.0zM405 217h1.0v1.0h-1.0zM378 193h1.0v1.0h-1.0zM380 189h1.0v1.0h-1.0zM409 189h1.0v1.0h-1.0zM412 186h1.0v1.0h-1.0zM397 194h1.0v1.0h-1.0zM410 181h1.0v1.0h-1.0zM380 190h1.0v1.0h-1.0zM399 194h1.0v1.0h-1.0zM418 195h1.0v1.0h-1.0zM406 213h1.0v1.0h-1.0zM381 216h1.0v1.0h-1.0zM359 163h1.0v1.0h-1.0zM380 210h1.0v1.0h-1.0zM418 203h1.0v1.0h-1.0zM412 188h1.0v1.0h-1.0zM389 199h1.0v1.0h-1.0zM399 179h1.0v1.0h-1.0zM387 214h1.0v1.0h-1.0zM356 183h1.0v1.0h-1.0zM415 188h1.0v1.0h-1.0zM417 169h1.0v1.0h-1.0zM398 174h1.0v1.0h-1.0zM392 200h1.0v1.0h-1.0zM392 181h1.0v1.0h-1.0zM379 185h1.0v1.0h-1.0zM392 206h1.0v1.0h-1.0zM373 194h1.0v1.0h-1.0zM392 179h1.0v1.0h-1.0zM386 194h1.0v1.0h-1.0zM409 202h1.0v1.0h-1.0zM398 208h1.0v1.0h-1.0zM378 208h1.0v1.0h-1.0zM406 190h1.0v1.0h-1.0zM413 190h1.0v1.0h-1.0zM410 182h1.0v1.0h-1.0zM358 204h1.0v1.0h-1.0zM390 186h1.0v1.0h-1.0zM393 190h1.0v1.0h-1.0zM366 189h1.0v1.0h-1.0zM378 204h1.0v1.0h-1.0zM399 197h1.0v1.0h-1.0zM374 206h1.0v1.0h-1.0zM372 170h1.0v1.0h-1.0zM401 185h1.0v1.0h-1.0zM418 182h1.0v1.0h-1.0zM390 204h1.0v1.0h-1.0zM413 189h1.0v1.0h-1.0zM391 190h1.0v1.0h-1.0zM371 193h1.0v1.0h-1.0zM392 176h1.0v1.0h-1.0zM348 204h1.0v1.0h-1.0zM395 197h1.0v1.0h-1.0zM415 200h1.0v1.0h-1.0zM385 212h1.0v1.0h-1.0zM371 207h1.0v1.0h-1.0zM419 195h1.0v1.0h-1.0zM384 188h1.0v1.0h-1.0zM359 198h1.0v1.0h-1.0zM390 185h1.0v1.0h-1.0zM359 181h1.0v1.0h-1.0zM422 188h1.0v1.0h-1.0zM381 193h1.0v1.0h-1.0zM419 204h1.0v1.0h-1.0zM371 198h1.0v1.0h-1.0zM384 205h1.0v1.0h-1.0zM367 182h1.0v1.0h-1.0zM412 180h1.0v1.0h-1.0zM376 192h1.0v1.0h-1.0zM408 186h1.0v1.0h-1.0zM425 180h1.0v1.0h-1.0zM379 186h1.0v1.0h-1.0zM372 197h1.0v1.0h-1.0zM409 186h1.0v1.0h-1.0zM395 164h1.0v1.0h-1.0zM383 185h1.0v1.0h-1.0zM412 186h1.0v1.0h-1.0zM412 174h1.0v1.0h-1.0zM385 207h1.0v1.0h-1.0zM363 176h1.0v1.0h-1.0zM415 177h1.0v1.0h-1.0zM380 176h1.0v1.0h-1.0zM382 186h1.0v1.0h-1.0zM388 194h1.0v1.0h-1.0zM395 197h1.0v1.0h-1.0zM406 208h1.0v1.0h-1.0zM379 194h1.0v1.0h-1.0zM392 204h1.0v1.0h-1.0zM386 191h1.0v1.0h-1.0zM407 200h1.0v1.0h-1.0zM394 195h1.0v1.0h-1.0zM354 183h1.0v1.0h-1.0zM384 203h1.0v1.0h-1.0zM401 190h1.0v1.0h-1.0zM416 187h1.0v1.0h-1.0zM373 191h1.0v1.0h-1.0zM382 187h1.0v1.0h-1.0zM392 189h1.0v1.0h-1.0zM399 196h1.0v1.0h-1.0zM384 192h1.0v1.0h-1.0zM357 190h1.0v1.0h-1.0zM401 200h1.0v1.0h-1.0zM391 199h1.0v1.0h-1.0zM390 201h1.0v1.0h-1.0zM400 175h1.0v1.0h-1.0zM382 196h1.0v1.0h-1.0zM389 191h1.0v1.0h-1.0zM398 203h1.0v1.0h-1.0zM381 174h1.0v1.0h-1.0zM362 193h1.0v1.0h-1.0zM369 184h1.0v1.0h-1.0zM383 189h1.0v1.0h-1.0zM370 176h1.0v1.0h-1.0zM420 196h1.0v1.0h-1.0zM375 188h1.0v1.0h-1.0zM384 191h1.0v1.0h-1.0zM388 212h1.0v1.0h-1.0zM371 174h1.0v1.0h-1.0zM398 172h1.0v1.0h-1.0zM397 200h1.0v1.0h-1.0zM412 183h1.0v1.0h-1.0zM403 175h1.0v1.0h-1.0zM356 189h1.0v1.0h-1.0zM356 178h1.0v1.0h-1.0zM405 176h1.0v1.0h-1.0zM389 182h1.0v1.0h-1.0zM361 182h1.0v1.0h-1.0zM411 193h1.0v1.0h-1.0zM399 197h1.0v1.0h-1.0zM419 192h1.0v1.0h-1.0zM358 194h1.0v1.0h-1.0zM407 172h1.0v1.0h-1.0zM399 184h1.0v1.0h-1.0zM392 191h1.0v1.0h-1.0zM405 209h1.0v1.0h-1.0zM343 168h1.0v1.0h-1.0zM371 170h1.0v1.0h-1.0zM351 176h1.0v1.0h-1.0zM378 176h1.0v1.0h-1.0zM394 189h1.0v1.0h-1.0zM412 195h1.0v1.0h-1.0zM389 187h1.0v1.0h-1.0zM361 169h1.0v1.0h-1.0zM366 191h1.0v1.0h-1.0zM397 208h1.0v1.0h-1.0zM322 175h1.0v1.0h-1.0zM368 183h1.0v1.0h-1.0zM406 192h1.0v1.0h-1.0zM407 189h1.0v1.0h-1.0zM400 204h1.0v1.0h-1.0zM390 198h1.0v1.0h-1.0zM399 194h1.0v1.0h-1.0zM402 191h1.0v1.0h-1.0zM372 179h1.0v1.0h-1.0zM404 182h1.0v1.0h-1.0zM387 186h1.0v1.0h-1.0zM401 192h1.0v1.0h-1.0zM392 200h1.0v1.0h-1.0zM365 189h1.0v1.0h-1.0zM385 206h1.0v1.0h-1.0zM372 194h1.0v1.0h-1.0zM391 184h1.0v1.0h-1.0zM368 178h1.0v1.0h-1.0zM387 200h1.0v1.0h-1.0zM368 172h1.0v1.0h-1.0zM409 219h1.0v1.0h-1.0zM368 179h1.0v1.0h-1.0zM380 187h1.0v1.0h-1.0zM407 194h1.0v1.0h-1.0zM403 187h1.0v1.0h-1.0zM399 165h1.0v1.0h-1.0zM385 193h1.0v1.0h-1.0zM399 194h1.0v1.0h-1.0zM369 182h1.0v1.0h-1.0zM394 191h1.0v1.0h-1.0zM412 209h1.0v1.0h-1.0zM403 176h1.0v1.0h-1.0zM372 192h1.0v1.0h-1.0zM390 191h1.0v1.0h-1.0zM357 204h1.0v1.0h-1.0zM401 170h1.0v1.0h-1.0zM400 211h1.0v1.0h-1.0zM393 207h1.0v1.0h-1.0zM418 203h1.0v1.0h-1.0zM403 218h1.0v1.0h-1.0zM389 205h1.0v1.0h-1.0zM371 191h1.0v1.0h-1.0zM413 182h1.0v1.0h-1.0zM411 181h1.0v1.0h-1.0zM418 201h1.0v1.0h-1.0zM394 183h1.0v1.0h-1.0zM393 177h1.0v1.0h-1.0zM384 198h1.0v1.0h-1.0zM397 194h1.0v1.0h-1.0zM371 187h1.0v1.0h-1.0zM392 193h1.0v1.0h-1.0z" fill="#ff1414" fill-opacity="0.45" filter="url(#soft)"/>
<path d="M427 192h1.0v1.0h-1.0zM430 191h1.0v1.0h-1.0zM431 190h1.0v1.0h-1.0zM422 214h1.0v1.0h-1.0zM431 201h1.0v1.0h-1.0zM424 209h1.0v1.0h-1.0zM419 210h1.0v1.0h-1.0zM422 209h1.0v1.0h-1.0zM424 199h1.0v1.0h-1.0zM427 191h1.0v1.0h-1.0zM421 219h1.0v1.0h-1.0zM440 200h1.0v1.0h-1.0zM434 190h1.0v1.0h-1.0zM456 204h1.0v1.0h-1.0zM428 201h1.0v1.0h-1.0zM429 195h1.0v1.0h-1.0zM427 196h1.0v1.0h-1.0zM433 186h1.0v1.0h-1.0zM427 200h1.0v1.0h-1.0zM428 218h1.0v1.0h-1.0zM420 208h1.0v1.0h-1.0zM427 195h1.0v1.0h-1.0z" fill="#dc1a08" fill-opacity="0.45" filter="url(#soft)"/>
<path d="M386 150h1.0v1.0h-1.0zM402 147h1.0v1.0h-1.0zM386 158h1.0v1.0h-1.0zM399 124h1.0v1.0h-1.0zM382 155h1.0v1.0h-1.0zM410 140h1.0v1.0h-1.0zM402 138h1.0v1.0h-1.0zM405 142h1.0v1.0h-1.0zM391 130h1.0v1.0h-1.0zM394 154h1.0v1.0h-1.0zM399 143h1.0v1.0h-1.0zM391 138h1.0v1.0h-1.0zM407 148h1.0v1.0h-1.0zM405 132h1.0v1.0h-1.0zM401 147h1.0v1.0h-1.0zM382 157h1.0v1.0h-1.0zM407 134h1.0v1.0h-1.0zM397 150h1.0v1.0h-1.0zM408 128h1.0v1.0h-1.0zM392 152h1.0v1.0h-1.0zM405 138h1.0v1.0h-1.0zM406 132h1.0v1.0h-1.0zM388 139h1.0v1.0h-1.0zM406 137h1.0v1.0h-1.0zM401 138h1.0v1.0h-1.0zM402 142h1.0v1.0h-1.0zM395 137h1.0v1.0h-1.0zM395 164h1.0v1.0h-1.0zM394 160h1.0v1.0h-1.0zM404 153h1.0v1.0h-1.0zM417 141h1.0v1.0h-1.0zM393 164h1.0v1.0h-1.0zM385 156h1.0v1.0h-1.0zM379 152h1.0v1.0h-1.0zM412 138h1.0v1.0h-1.0zM410 131h1.0v1.0h-1.0zM390 163h1.0v1.0h-1.0zM405 151h1.0v1.0h-1.0zM397 141h1.0v1.0h-1.0zM396 133h1.0v1.0h-1.0zM399 147h1.0v1.0h-1.0zM383 157h1.0v1.0h-1.0zM393 139h1.0v1.0h-1.0zM399 148h1.0v1.0h-1.0zM386 153h1.0v1.0h-1.0zM409 136h1.0v1.0h-1.0zM393 135h1.0v1.0h-1.0zM401 138h1.0v1.0h-1.0zM389 150h1.0v1.0h-1.0zM387 159h1.0v1.0h-1.0zM388 146h1.0v1.0h-1.0zM412 133h1.0v1.0h-1.0zM397 125h1.0v1.0h-1.0zM394 154h1.0v1.0h-1.0zM397 157h1.0v1.0h-1.0zM407 133h1.0v1.0h-1.0zM406 133h1.0v1.0h-1.0zM381 156h1.0v1.0h-1.0zM403 140h1.0v1.0h-1.0zM398 147h1.0v1.0h-1.0zM407 131h1.0v1.0h-1.0zM405 139h1.0v1.0h-1.0zM391 159h1.0v1.0h-1.0zM406 135h1.0v1.0h-1.0zM377 149h1.0v1.0h-1.0z" fill="#ff1414" fill-opacity="0.45" filter="url(#soft)"/>
<path d="" fill="#dc1a08" fill-opacity="0.45" filter="url(#soft)"/>
<line x1="314.5" y1="156.5" x2="510.5" y2="156.5" stroke="#ff2a2a" stroke-width="1.4"/>
<line x1="408.3" y1="234.5" x2="487.1" y2="39.5" stroke="#ff2a2a" stroke-width="1.5"/>
<circle cx="439.82" cy="156.5" r="2.9" fill="#fff" stroke="#ff2a2a" stroke-width="1.3"/>
<circle cx="486.20" cy="156.5" r="3.2" fill="#f00"/>
<rect x="314.5" y="39.5" width="196" height="195" fill="none" stroke="#606060" stroke-width="1"/>
<path d="M312.00 234.50H314.5M314.50 234.5V237.00M312.70 219.82H314.5M329.25 234.5V236.30M312.70 211.24H314.5M337.88 234.5V236.30M312.70 205.15H314.5M344.00 234.5V236.30M312.70 200.43H314.5M348.75 234.5V236.30M312.70 196.57H314.5M352.63 234.5V236.30M312.70 193.30H314.5M355.91 234.5V236.30M312.70 190.47H314.5M358.75 234.5V236.30M312.70 187.98H314.5M361.26 234.5V236.30M312.00 185.75H314.5M363.50 234.5V237.00M312.70 171.07H314.5M378.25 234.5V236.30M312.70 162.49H314.5M386.88 234.5V236.30M312.70 156.40H314.5M393.00 234.5V236.30M312.70 151.68H314.5M397.75 234.5V236.30M312.70 147.82H314.5M401.63 234.5V236.30M312.70 144.55H314.5M404.91 234.5V236.30M312.70 141.72H314.5M407.75 234.5V236.30M312.70 139.23H314.5M410.26 234.5V236.30M312.00 137.00H314.5M412.50 234.5V237.00M312.70 122.32H314.5M427.25 234.5V236.30M312.70 113.74H314.5M435.88 234.5V236.30M312.70 107.65H314.5M442.00 234.5V236.30M312.70 102.93H314.5M446.75 234.5V236.30M312.70 99.07H314.5M450.63 234.5V236.30M312.70 95.80H314.5M453.91 234.5V236.30M312.70 92.97H314.5M456.75 234.5V236.30M312.70 90.48H314.5M459.26 234.5V236.30M312.00 88.25H314.5M461.50 234.5V237.00M312.70 73.57H314.5M476.25 234.5V236.30M312.70 64.99H314.5M484.88 234.5V236.30M312.70 58.90H314.5M491.00 234.5V236.30M312.70 54.18H314.5M495.75 234.5V236.30M312.70 50.32H314.5M499.63 234.5V236.30M312.70 47.05H314.5M502.91 234.5V236.30M312.70 44.22H314.5M505.75 234.5V236.30M312.70 41.73H314.5M508.26 234.5V236.30M311.5 39.5H314.5M510.5 234.5V237.5" stroke="#666" stroke-width="0.8" fill="none"/>
<text x="311.50" y="237.00" font-size="7" fill="#333" text-anchor="end" font-weight="normal" >0</text>
<text x="314.50" y="244.10" font-size="7" fill="#333" text-anchor="middle" font-weight="normal" >0</text>
<text x="311.50" y="188.25" font-size="7" fill="#333" text-anchor="end" font-weight="normal" >1</text>
<text x="363.50" y="244.10" font-size="7" fill="#333" text-anchor="middle" font-weight="normal" >1</text>
<text x="311.50" y="139.50" font-size="7" fill="#333" text-anchor="end" font-weight="normal" >2</text>
<text x="412.50" y="244.10" font-size="7" fill="#333" text-anchor="middle" font-weight="normal" >2</text>
<text x="311.50" y="90.75" font-size="7" fill="#333" text-anchor="end" font-weight="normal" >3</text>
<text x="461.50" y="244.10" font-size="7" fill="#333" text-anchor="middle" font-weight="normal" >3</text>
<text x="311.50" y="42.00" font-size="7" fill="#333" text-anchor="end" font-weight="normal" >4</text>
<text x="510.50" y="244.10" font-size="7" fill="#333" text-anchor="middle" font-weight="normal" >4</text>
<text x="315.50" y="252.50" font-size="6.8" fill="#777" text-anchor="start" font-weight="normal" >Low</text>
<text x="509.50" y="252.50" font-size="6.8" fill="#777" text-anchor="end" font-weight="normal" >High</text>
<text transform="translate(411.20,254.10) scale(0.895,1)" font-size="10.5" fill="#222" text-anchor="middle" font-weight="normal" >MITOPOTENTIAL</text>
<text transform="translate(301.9,47.5) rotate(-90)" font-size="7.2" fill="#777" text-anchor="middle">Dead</text>
<text transform="translate(302.1,227.3) rotate(-90)" font-size="7.2" fill="#777" text-anchor="middle">Live</text>
<text transform="translate(302.6,136.5) rotate(-90) scale(0.895,1)" font-size="10.5" fill="#222" text-anchor="middle">VIABILITY</text>
<text transform="translate(318.10,49.10) scale(0.91,1)" font-size="9.0" fill="#333" text-anchor="start" font-weight="normal" >Depolarized/Dead</text>
<text transform="translate(318.10,58.30) scale(0.91,1)" font-size="9.0" fill="#333" text-anchor="start" font-weight="normal" >2.50 %</text>
<text transform="translate(507.20,49.10) scale(0.91,1)" font-size="9.0" fill="#333" text-anchor="end" font-weight="normal" >Dead</text>
<text transform="translate(507.20,58.30) scale(0.91,1)" font-size="9.0" fill="#333" text-anchor="end" font-weight="normal" >0.10 %</text>
<text transform="translate(318.10,221.90) scale(0.91,1)" font-size="9.0" fill="#333" text-anchor="start" font-weight="normal" >39.35 %</text>
<text transform="translate(318.10,231.40) scale(0.91,1)" font-size="9.0" fill="#333" text-anchor="start" font-weight="normal" >Depolarized/Live</text>
<text transform="translate(507.20,221.90) scale(0.91,1)" font-size="9.0" fill="#333" text-anchor="end" font-weight="normal" >58.05 %</text>
<text transform="translate(507.20,231.40) scale(0.91,1)" font-size="9.0" fill="#333" text-anchor="end" font-weight="normal" >Live</text>
<polygon points="119.30,500.50 221.50,500.50 221.50,422.50 150.82,422.50" fill="#e9f2cf"/>
<text x="122.00" y="286.70" font-size="14" fill="#111" text-anchor="middle" font-weight="normal" >30 μM S-15176</text>
<text x="230.50" y="288.20" font-size="18.5" fill="#111" text-anchor="start" font-weight="normal" >c)</text>
<text transform="translate(123.50,304.00) scale(0.9,1)" font-size="10.7" fill="#333" text-anchor="middle" font-weight="normal" >CELL HEALTH PROFILE</text>
<path d="M112 482h1.0v1.0h-1.0zM116 469h1.0v1.0h-1.0zM88 464h1.0v1.0h-1.0zM91 479h1.0v1.0h-1.0zM93 481h1.0v1.0h-1.0zM119 472h1.0v1.0h-1.0zM118 479h1.0v1.0h-1.0zM83 491h1.0v1.0h-1.0zM119 487h1.0v1.0h-1.0zM86 487h1.0v1.0h-1.0zM94 487h1.0v1.0h-1.0zM103 496h1.0v1.0h-1.0zM107 475h1.0v1.0h-1.0zM110 474h1.0v1.0h-1.0zM120 474h1.0v1.0h-1.0zM103 484h1.0v1.0h-1.0zM102 488h1.0v1.0h-1.0zM101 483h1.0v1.0h-1.0zM122 483h1.0v1.0h-1.0zM120 471h1.0v1.0h-1.0zM116 486h1.0v1.0h-1.0zM114 499h1.0v1.0h-1.0zM123 474h1.0v1.0h-1.0zM107 475h1.0v1.0h-1.0zM92 485h1.0v1.0h-1.0zM90 476h1.0v1.0h-1.0zM101 479h1.0v1.0h-1.0zM108 491h1.0v1.0h-1.0zM119 475h1.0v1.0h-1.0zM96 481h1.0v1.0h-1.0zM105 475h1.0v1.0h-1.0zM113 483h1.0v1.0h-1.0zM95 488h1.0v1.0h-1.0zM109 479h1.0v1.0h-1.0zM118 461h1.0v1.0h-1.0zM111 478h1.0v1.0h-1.0zM111 489h1.0v1.0h-1.0zM114 481h1.0v1.0h-1.0zM108 483h1.0v1.0h-1.0zM102 472h1.0v1.0h-1.0zM103 481h1.0v1.0h-1.0zM118 482h1.0v1.0h-1.0zM90 482h1.0v1.0h-1.0zM96 488h1.0v1.0h-1.0zM116 476h1.0v1.0h-1.0zM122 488h1.0v1.0h-1.0zM110 485h1.0v1.0h-1.0zM99 481h1.0v1.0h-1.0zM92 494h1.0v1.0h-1.0zM116 490h1.0v1.0h-1.0zM111 487h1.0v1.0h-1.0zM110 470h1.0v1.0h-1.0zM112 474h1.0v1.0h-1.0zM97 482h1.0v1.0h-1.0zM98 475h1.0v1.0h-1.0zM106 475h1.0v1.0h-1.0zM106 486h1.0v1.0h-1.0zM91 492h1.0v1.0h-1.0zM93 474h1.0v1.0h-1.0zM106 487h1.0v1.0h-1.0zM122 474h1.0v1.0h-1.0zM110 481h1.0v1.0h-1.0zM105 491h1.0v1.0h-1.0zM110 476h1.0v1.0h-1.0zM107 475h1.0v1.0h-1.0zM98 480h1.0v1.0h-1.0zM71 480h1.0v1.0h-1.0zM110 485h1.0v1.0h-1.0zM100 479h1.0v1.0h-1.0zM106 477h1.0v1.0h-1.0zM98 489h1.0v1.0h-1.0zM103 477h1.0v1.0h-1.0zM109 479h1.0v1.0h-1.0zM92 480h1.0v1.0h-1.0zM100 484h1.0v1.0h-1.0zM114 481h1.0v1.0h-1.0zM116 476h1.0v1.0h-1.0zM88 483h1.0v1.0h-1.0zM116 476h1.0v1.0h-1.0zM112 473h1.0v1.0h-1.0zM114 486h1.0v1.0h-1.0zM108 473h1.0v1.0h-1.0zM114 491h1.0v1.0h-1.0zM104 487h1.0v1.0h-1.0zM122 477h1.0v1.0h-1.0zM107 478h1.0v1.0h-1.0zM93 487h1.0v1.0h-1.0zM115 487h1.0v1.0h-1.0zM117 475h1.0v1.0h-1.0zM111 473h1.0v1.0h-1.0zM98 489h1.0v1.0h-1.0zM116 489h1.0v1.0h-1.0zM77 490h1.0v1.0h-1.0zM127 480h1.0v1.0h-1.0zM116 494h1.0v1.0h-1.0zM89 492h1.0v1.0h-1.0zM85 479h1.0v1.0h-1.0zM111 487h1.0v1.0h-1.0zM98 471h1.0v1.0h-1.0zM110 473h1.0v1.0h-1.0zM104 469h1.0v1.0h-1.0zM106 482h1.0v1.0h-1.0zM111 482h1.0v1.0h-1.0zM112 484h1.0v1.0h-1.0zM98 494h1.0v1.0h-1.0zM113 497h1.0v1.0h-1.0zM110 482h1.0v1.0h-1.0zM98 489h1.0v1.0h-1.0zM118 475h1.0v1.0h-1.0zM113 473h1.0v1.0h-1.0zM98 494h1.0v1.0h-1.0zM114 479h1.0v1.0h-1.0zM122 468h1.0v1.0h-1.0zM98 470h1.0v1.0h-1.0zM104 487h1.0v1.0h-1.0zM110 480h1.0v1.0h-1.0zM100 471h1.0v1.0h-1.0zM107 487h1.0v1.0h-1.0zM94 491h1.0v1.0h-1.0zM129 468h1.0v1.0h-1.0zM115 486h1.0v1.0h-1.0zM125 466h1.0v1.0h-1.0zM108 484h1.0v1.0h-1.0zM82 480h1.0v1.0h-1.0zM102 470h1.0v1.0h-1.0zM101 476h1.0v1.0h-1.0zM107 479h1.0v1.0h-1.0zM95 479h1.0v1.0h-1.0zM117 476h1.0v1.0h-1.0zM112 493h1.0v1.0h-1.0zM114 478h1.0v1.0h-1.0zM86 494h1.0v1.0h-1.0zM101 487h1.0v1.0h-1.0zM112 479h1.0v1.0h-1.0zM101 483h1.0v1.0h-1.0zM111 478h1.0v1.0h-1.0zM104 482h1.0v1.0h-1.0zM111 477h1.0v1.0h-1.0zM91 469h1.0v1.0h-1.0zM115 488h1.0v1.0h-1.0zM123 470h1.0v1.0h-1.0zM114 466h1.0v1.0h-1.0zM108 484h1.0v1.0h-1.0zM118 480h1.0v1.0h-1.0zM93 479h1.0v1.0h-1.0zM119 485h1.0v1.0h-1.0zM114 483h1.0v1.0h-1.0zM106 481h1.0v1.0h-1.0zM121 478h1.0v1.0h-1.0zM94 472h1.0v1.0h-1.0zM106 485h1.0v1.0h-1.0zM111 474h1.0v1.0h-1.0zM97 476h1.0v1.0h-1.0zM97 481h1.0v1.0h-1.0zM119 478h1.0v1.0h-1.0zM105 487h1.0v1.0h-1.0zM98 488h1.0v1.0h-1.0zM103 479h1.0v1.0h-1.0zM102 480h1.0v1.0h-1.0zM100 484h1.0v1.0h-1.0zM111 471h1.0v1.0h-1.0zM97 481h1.0v1.0h-1.0zM92 482h1.0v1.0h-1.0zM109 482h1.0v1.0h-1.0zM106 473h1.0v1.0h-1.0zM121 475h1.0v1.0h-1.0zM93 480h1.0v1.0h-1.0zM103 491h1.0v1.0h-1.0zM117 466h1.0v1.0h-1.0zM113 491h1.0v1.0h-1.0zM101 478h1.0v1.0h-1.0zM100 491h1.0v1.0h-1.0zM117 491h1.0v1.0h-1.0zM99 481h1.0v1.0h-1.0zM103 480h1.0v1.0h-1.0zM104 485h1.0v1.0h-1.0zM119 483h1.0v1.0h-1.0zM82 495h1.0v1.0h-1.0zM102 483h1.0v1.0h-1.0zM121 482h1.0v1.0h-1.0zM91 495h1.0v1.0h-1.0zM105 486h1.0v1.0h-1.0zM117 483h1.0v1.0h-1.0zM95 492h1.0v1.0h-1.0zM101 474h1.0v1.0h-1.0zM100 493h1.0v1.0h-1.0zM107 467h1.0v1.0h-1.0zM99 474h1.0v1.0h-1.0zM97 487h1.0v1.0h-1.0zM107 469h1.0v1.0h-1.0zM109 473h1.0v1.0h-1.0zM119 471h1.0v1.0h-1.0zM103 481h1.0v1.0h-1.0zM107 489h1.0v1.0h-1.0zM104 498h1.0v1.0h-1.0zM120 478h1.0v1.0h-1.0zM121 481h1.0v1.0h-1.0zM100 487h1.0v1.0h-1.0zM82 469h1.0v1.0h-1.0zM128 475h1.0v1.0h-1.0zM89 496h1.0v1.0h-1.0zM89 485h1.0v1.0h-1.0zM101 479h1.0v1.0h-1.0zM119 478h1.0v1.0h-1.0zM105 485h1.0v1.0h-1.0zM117 492h1.0v1.0h-1.0zM105 479h1.0v1.0h-1.0zM119 475h1.0v1.0h-1.0zM124 476h1.0v1.0h-1.0zM114 485h1.0v1.0h-1.0zM102 485h1.0v1.0h-1.0zM91 497h1.0v1.0h-1.0zM121 487h1.0v1.0h-1.0zM111 468h1.0v1.0h-1.0zM96 478h1.0v1.0h-1.0zM98 484h1.0v1.0h-1.0zM102 482h1.0v1.0h-1.0zM104 488h1.0v1.0h-1.0zM106 483h1.0v1.0h-1.0zM108 488h1.0v1.0h-1.0zM107 480h1.0v1.0h-1.0zM102 491h1.0v1.0h-1.0zM103 476h1.0v1.0h-1.0zM101 485h1.0v1.0h-1.0zM113 479h1.0v1.0h-1.0zM98 481h1.0v1.0h-1.0zM113 485h1.0v1.0h-1.0zM110 492h1.0v1.0h-1.0zM117 472h1.0v1.0h-1.0zM97 482h1.0v1.0h-1.0zM87 487h1.0v1.0h-1.0zM119 470h1.0v1.0h-1.0zM106 488h1.0v1.0h-1.0zM116 486h1.0v1.0h-1.0zM104 490h1.0v1.0h-1.0zM111 482h1.0v1.0h-1.0zM95 488h1.0v1.0h-1.0zM95 473h1.0v1.0h-1.0zM108 486h1.0v1.0h-1.0zM108 472h1.0v1.0h-1.0zM90 491h1.0v1.0h-1.0zM116 483h1.0v1.0h-1.0zM113 480h1.0v1.0h-1.0zM120 486h1.0v1.0h-1.0zM91 479h1.0v1.0h-1.0zM115 485h1.0v1.0h-1.0zM102 487h1.0v1.0h-1.0zM102 477h1.0v1.0h-1.0zM120 485h1.0v1.0h-1.0zM108 477h1.0v1.0h-1.0zM113 473h1.0v1.0h-1.0zM117 474h1.0v1.0h-1.0zM118 469h1.0v1.0h-1.0zM98 486h1.0v1.0h-1.0zM96 474h1.0v1.0h-1.0zM112 485h1.0v1.0h-1.0zM116 493h1.0v1.0h-1.0zM101 484h1.0v1.0h-1.0zM110 466h1.0v1.0h-1.0zM100 490h1.0v1.0h-1.0zM103 469h1.0v1.0h-1.0zM109 492h1.0v1.0h-1.0zM110 474h1.0v1.0h-1.0zM115 477h1.0v1.0h-1.0zM106 485h1.0v1.0h-1.0zM113 498h1.0v1.0h-1.0zM99 478h1.0v1.0h-1.0zM116 475h1.0v1.0h-1.0zM115 477h1.0v1.0h-1.0zM103 475h1.0v1.0h-1.0zM107 466h1.0v1.0h-1.0zM106 475h1.0v1.0h-1.0zM106 487h1.0v1.0h-1.0zM112 464h1.0v1.0h-1.0zM112 481h1.0v1.0h-1.0zM103 479h1.0v1.0h-1.0zM114 474h1.0v1.0h-1.0zM122 486h1.0v1.0h-1.0zM117 481h1.0v1.0h-1.0zM109 490h1.0v1.0h-1.0zM103 484h1.0v1.0h-1.0zM115 470h1.0v1.0h-1.0zM109 486h1.0v1.0h-1.0zM99 476h1.0v1.0h-1.0zM102 491h1.0v1.0h-1.0zM116 489h1.0v1.0h-1.0zM118 481h1.0v1.0h-1.0zM101 467h1.0v1.0h-1.0zM100 490h1.0v1.0h-1.0zM92 497h1.0v1.0h-1.0zM120 488h1.0v1.0h-1.0zM94 478h1.0v1.0h-1.0zM115 474h1.0v1.0h-1.0zM108 482h1.0v1.0h-1.0zM89 483h1.0v1.0h-1.0zM99 494h1.0v1.0h-1.0zM120 477h1.0v1.0h-1.0zM110 483h1.0v1.0h-1.0zM108 487h1.0v1.0h-1.0zM122 472h1.0v1.0h-1.0zM108 474h1.0v1.0h-1.0zM111 485h1.0v1.0h-1.0zM111 480h1.0v1.0h-1.0zM112 496h1.0v1.0h-1.0zM122 488h1.0v1.0h-1.0zM103 473h1.0v1.0h-1.0zM122 489h1.0v1.0h-1.0zM103 474h1.0v1.0h-1.0zM117 498h1.0v1.0h-1.0zM98 489h1.0v1.0h-1.0zM110 476h1.0v1.0h-1.0zM123 483h1.0v1.0h-1.0zM120 487h1.0v1.0h-1.0zM106 490h1.0v1.0h-1.0zM115 479h1.0v1.0h-1.0zM116 488h1.0v1.0h-1.0zM111 479h1.0v1.0h-1.0zM111 483h1.0v1.0h-1.0zM81 477h1.0v1.0h-1.0zM104 486h1.0v1.0h-1.0zM120 488h1.0v1.0h-1.0zM108 482h1.0v1.0h-1.0zM113 479h1.0v1.0h-1.0zM113 483h1.0v1.0h-1.0zM109 495h1.0v1.0h-1.0zM109 477h1.0v1.0h-1.0zM103 496h1.0v1.0h-1.0zM111 496h1.0v1.0h-1.0zM116 474h1.0v1.0h-1.0zM119 469h1.0v1.0h-1.0zM115 483h1.0v1.0h-1.0zM108 488h1.0v1.0h-1.0zM104 472h1.0v1.0h-1.0zM93 494h1.0v1.0h-1.0zM107 482h1.0v1.0h-1.0zM100 487h1.0v1.0h-1.0zM101 478h1.0v1.0h-1.0zM105 480h1.0v1.0h-1.0zM111 487h1.0v1.0h-1.0zM110 473h1.0v1.0h-1.0zM109 476h1.0v1.0h-1.0zM97 483h1.0v1.0h-1.0zM105 484h1.0v1.0h-1.0zM116 481h1.0v1.0h-1.0zM109 491h1.0v1.0h-1.0zM114 483h1.0v1.0h-1.0zM110 483h1.0v1.0h-1.0zM124 475h1.0v1.0h-1.0zM105 480h1.0v1.0h-1.0zM117 473h1.0v1.0h-1.0zM95 479h1.0v1.0h-1.0zM117 481h1.0v1.0h-1.0zM115 484h1.0v1.0h-1.0zM104 472h1.0v1.0h-1.0zM125 479h1.0v1.0h-1.0zM113 490h1.0v1.0h-1.0zM93 482h1.0v1.0h-1.0zM111 485h1.0v1.0h-1.0zM118 475h1.0v1.0h-1.0zM103 483h1.0v1.0h-1.0zM102 485h1.0v1.0h-1.0zM96 478h1.0v1.0h-1.0zM97 474h1.0v1.0h-1.0zM118 487h1.0v1.0h-1.0zM117 489h1.0v1.0h-1.0zM93 489h1.0v1.0h-1.0zM111 490h1.0v1.0h-1.0zM109 478h1.0v1.0h-1.0zM101 477h1.0v1.0h-1.0zM113 482h1.0v1.0h-1.0zM102 490h1.0v1.0h-1.0zM121 492h1.0v1.0h-1.0zM106 483h1.0v1.0h-1.0zM112 487h1.0v1.0h-1.0zM72 483h1.0v1.0h-1.0zM105 492h1.0v1.0h-1.0zM109 486h1.0v1.0h-1.0zM102 486h1.0v1.0h-1.0zM105 474h1.0v1.0h-1.0zM97 477h1.0v1.0h-1.0zM117 477h1.0v1.0h-1.0zM97 482h1.0v1.0h-1.0zM104 477h1.0v1.0h-1.0zM119 473h1.0v1.0h-1.0zM108 484h1.0v1.0h-1.0zM93 473h1.0v1.0h-1.0zM87 478h1.0v1.0h-1.0zM111 472h1.0v1.0h-1.0zM111 486h1.0v1.0h-1.0zM101 460h1.0v1.0h-1.0zM104 478h1.0v1.0h-1.0zM118 484h1.0v1.0h-1.0zM107 479h1.0v1.0h-1.0zM108 497h1.0v1.0h-1.0zM103 472h1.0v1.0h-1.0zM111 477h1.0v1.0h-1.0zM105 482h1.0v1.0h-1.0zM107 471h1.0v1.0h-1.0zM103 478h1.0v1.0h-1.0zM115 477h1.0v1.0h-1.0zM111 485h1.0v1.0h-1.0zM96 480h1.0v1.0h-1.0zM112 489h1.0v1.0h-1.0zM103 481h1.0v1.0h-1.0zM96 487h1.0v1.0h-1.0zM110 491h1.0v1.0h-1.0zM102 483h1.0v1.0h-1.0zM112 469h1.0v1.0h-1.0zM103 489h1.0v1.0h-1.0zM90 490h1.0v1.0h-1.0zM115 469h1.0v1.0h-1.0zM92 495h1.0v1.0h-1.0zM116 497h1.0v1.0h-1.0zM110 481h1.0v1.0h-1.0zM79 487h1.0v1.0h-1.0zM104 474h1.0v1.0h-1.0zM126 479h1.0v1.0h-1.0zM100 495h1.0v1.0h-1.0zM84 484h1.0v1.0h-1.0zM90 486h1.0v1.0h-1.0zM106 472h1.0v1.0h-1.0zM111 479h1.0v1.0h-1.0zM118 487h1.0v1.0h-1.0zM112 486h1.0v1.0h-1.0zM98 483h1.0v1.0h-1.0zM104 485h1.0v1.0h-1.0zM105 480h1.0v1.0h-1.0zM106 480h1.0v1.0h-1.0zM96 492h1.0v1.0h-1.0zM115 479h1.0v1.0h-1.0zM119 474h1.0v1.0h-1.0zM108 490h1.0v1.0h-1.0zM111 492h1.0v1.0h-1.0zM94 478h1.0v1.0h-1.0zM110 477h1.0v1.0h-1.0zM98 476h1.0v1.0h-1.0zM97 470h1.0v1.0h-1.0zM117 481h1.0v1.0h-1.0zM111 489h1.0v1.0h-1.0zM103 480h1.0v1.0h-1.0zM91 489h1.0v1.0h-1.0zM108 478h1.0v1.0h-1.0zM125 473h1.0v1.0h-1.0zM111 480h1.0v1.0h-1.0zM110 477h1.0v1.0h-1.0zM121 479h1.0v1.0h-1.0zM116 489h1.0v1.0h-1.0zM118 467h1.0v1.0h-1.0zM111 486h1.0v1.0h-1.0zM114 483h1.0v1.0h-1.0zM114 486h1.0v1.0h-1.0zM121 481h1.0v1.0h-1.0zM104 485h1.0v1.0h-1.0zM114 495h1.0v1.0h-1.0zM111 469h1.0v1.0h-1.0zM108 478h1.0v1.0h-1.0zM103 484h1.0v1.0h-1.0zM118 480h1.0v1.0h-1.0zM104 474h1.0v1.0h-1.0zM92 477h1.0v1.0h-1.0zM116 478h1.0v1.0h-1.0zM93 477h1.0v1.0h-1.0zM81 479h1.0v1.0h-1.0zM109 483h1.0v1.0h-1.0zM108 489h1.0v1.0h-1.0zM122 479h1.0v1.0h-1.0zM107 495h1.0v1.0h-1.0zM101 480h1.0v1.0h-1.0zM107 487h1.0v1.0h-1.0zM119 475h1.0v1.0h-1.0zM124 476h1.0v1.0h-1.0zM119 483h1.0v1.0h-1.0zM110 490h1.0v1.0h-1.0zM87 475h1.0v1.0h-1.0zM100 474h1.0v1.0h-1.0zM92 486h1.0v1.0h-1.0zM113 470h1.0v1.0h-1.0zM114 480h1.0v1.0h-1.0zM92 489h1.0v1.0h-1.0zM114 488h1.0v1.0h-1.0zM106 488h1.0v1.0h-1.0zM111 477h1.0v1.0h-1.0zM107 475h1.0v1.0h-1.0zM107 485h1.0v1.0h-1.0zM100 491h1.0v1.0h-1.0zM88 491h1.0v1.0h-1.0zM99 480h1.0v1.0h-1.0zM106 483h1.0v1.0h-1.0zM104 475h1.0v1.0h-1.0zM103 466h1.0v1.0h-1.0zM99 473h1.0v1.0h-1.0zM115 484h1.0v1.0h-1.0zM109 485h1.0v1.0h-1.0zM105 493h1.0v1.0h-1.0zM105 499h1.0v1.0h-1.0zM113 467h1.0v1.0h-1.0zM99 482h1.0v1.0h-1.0zM116 493h1.0v1.0h-1.0zM123 475h1.0v1.0h-1.0zM116 483h1.0v1.0h-1.0zM91 484h1.0v1.0h-1.0zM118 486h1.0v1.0h-1.0zM113 486h1.0v1.0h-1.0zM124 475h1.0v1.0h-1.0zM104 487h1.0v1.0h-1.0zM103 475h1.0v1.0h-1.0zM102 487h1.0v1.0h-1.0zM120 468h1.0v1.0h-1.0zM115 490h1.0v1.0h-1.0zM84 494h1.0v1.0h-1.0zM105 483h1.0v1.0h-1.0zM105 487h1.0v1.0h-1.0zM95 483h1.0v1.0h-1.0zM88 478h1.0v1.0h-1.0zM110 478h1.0v1.0h-1.0zM98 483h1.0v1.0h-1.0zM103 487h1.0v1.0h-1.0zM99 482h1.0v1.0h-1.0zM106 476h1.0v1.0h-1.0zM116 488h1.0v1.0h-1.0zM119 485h1.0v1.0h-1.0zM116 490h1.0v1.0h-1.0zM105 483h1.0v1.0h-1.0zM107 482h1.0v1.0h-1.0zM116 486h1.0v1.0h-1.0zM109 488h1.0v1.0h-1.0zM95 480h1.0v1.0h-1.0zM113 486h1.0v1.0h-1.0zM115 475h1.0v1.0h-1.0zM105 488h1.0v1.0h-1.0zM123 486h1.0v1.0h-1.0zM103 477h1.0v1.0h-1.0zM110 488h1.0v1.0h-1.0zM112 473h1.0v1.0h-1.0zM96 484h1.0v1.0h-1.0zM116 486h1.0v1.0h-1.0zM118 484h1.0v1.0h-1.0zM108 481h1.0v1.0h-1.0zM100 467h1.0v1.0h-1.0zM97 487h1.0v1.0h-1.0zM93 466h1.0v1.0h-1.0zM101 477h1.0v1.0h-1.0zM97 482h1.0v1.0h-1.0zM116 493h1.0v1.0h-1.0zM108 469h1.0v1.0h-1.0zM93 480h1.0v1.0h-1.0zM125 471h1.0v1.0h-1.0zM114 494h1.0v1.0h-1.0zM93 498h1.0v1.0h-1.0zM89 488h1.0v1.0h-1.0zM109 478h1.0v1.0h-1.0zM123 474h1.0v1.0h-1.0zM105 474h1.0v1.0h-1.0zM121 487h1.0v1.0h-1.0zM116 476h1.0v1.0h-1.0zM107 490h1.0v1.0h-1.0zM95 485h1.0v1.0h-1.0zM100 468h1.0v1.0h-1.0zM124 483h1.0v1.0h-1.0zM109 479h1.0v1.0h-1.0zM98 482h1.0v1.0h-1.0zM105 483h1.0v1.0h-1.0zM107 480h1.0v1.0h-1.0zM121 477h1.0v1.0h-1.0zM103 483h1.0v1.0h-1.0zM128 468h1.0v1.0h-1.0zM111 475h1.0v1.0h-1.0zM114 489h1.0v1.0h-1.0zM95 473h1.0v1.0h-1.0zM114 480h1.0v1.0h-1.0zM112 483h1.0v1.0h-1.0zM118 487h1.0v1.0h-1.0zM101 477h1.0v1.0h-1.0zM112 482h1.0v1.0h-1.0zM93 490h1.0v1.0h-1.0zM99 490h1.0v1.0h-1.0zM104 485h1.0v1.0h-1.0zM101 486h1.0v1.0h-1.0zM116 462h1.0v1.0h-1.0zM107 480h1.0v1.0h-1.0zM110 481h1.0v1.0h-1.0zM117 481h1.0v1.0h-1.0zM107 490h1.0v1.0h-1.0zM121 475h1.0v1.0h-1.0zM109 480h1.0v1.0h-1.0zM101 484h1.0v1.0h-1.0zM112 468h1.0v1.0h-1.0zM117 479h1.0v1.0h-1.0zM96 483h1.0v1.0h-1.0zM104 487h1.0v1.0h-1.0zM101 487h1.0v1.0h-1.0zM90 480h1.0v1.0h-1.0zM111 475h1.0v1.0h-1.0zM77 485h1.0v1.0h-1.0zM93 477h1.0v1.0h-1.0zM97 490h1.0v1.0h-1.0zM112 485h1.0v1.0h-1.0zM107 480h1.0v1.0h-1.0zM119 472h1.0v1.0h-1.0zM122 484h1.0v1.0h-1.0zM109 475h1.0v1.0h-1.0zM99 491h1.0v1.0h-1.0zM115 473h1.0v1.0h-1.0zM99 473h1.0v1.0h-1.0zM105 485h1.0v1.0h-1.0zM109 479h1.0v1.0h-1.0zM124 474h1.0v1.0h-1.0zM123 483h1.0v1.0h-1.0zM104 486h1.0v1.0h-1.0zM119 476h1.0v1.0h-1.0zM122 473h1.0v1.0h-1.0zM100 490h1.0v1.0h-1.0zM111 487h1.0v1.0h-1.0zM101 478h1.0v1.0h-1.0zM103 487h1.0v1.0h-1.0zM110 483h1.0v1.0h-1.0zM110 475h1.0v1.0h-1.0zM101 483h1.0v1.0h-1.0zM108 474h1.0v1.0h-1.0zM95 483h1.0v1.0h-1.0zM107 483h1.0v1.0h-1.0zM112 487h1.0v1.0h-1.0zM106 499h1.0v1.0h-1.0zM93 487h1.0v1.0h-1.0zM103 496h1.0v1.0h-1.0zM113 475h1.0v1.0h-1.0zM119 475h1.0v1.0h-1.0zM119 477h1.0v1.0h-1.0zM119 472h1.0v1.0h-1.0zM126 463h1.0v1.0h-1.0zM106 495h1.0v1.0h-1.0zM122 481h1.0v1.0h-1.0zM99 477h1.0v1.0h-1.0zM120 481h1.0v1.0h-1.0zM97 475h1.0v1.0h-1.0zM116 477h1.0v1.0h-1.0zM121 490h1.0v1.0h-1.0zM99 472h1.0v1.0h-1.0zM114 487h1.0v1.0h-1.0zM118 479h1.0v1.0h-1.0zM129 475h1.0v1.0h-1.0zM105 495h1.0v1.0h-1.0zM124 467h1.0v1.0h-1.0zM97 478h1.0v1.0h-1.0zM100 480h1.0v1.0h-1.0zM123 474h1.0v1.0h-1.0zM117 482h1.0v1.0h-1.0zM100 478h1.0v1.0h-1.0zM125 474h1.0v1.0h-1.0zM117 497h1.0v1.0h-1.0zM112 490h1.0v1.0h-1.0zM105 475h1.0v1.0h-1.0zM82 493h1.0v1.0h-1.0zM109 478h1.0v1.0h-1.0zM120 481h1.0v1.0h-1.0zM108 476h1.0v1.0h-1.0zM119 494h1.0v1.0h-1.0zM108 481h1.0v1.0h-1.0zM124 479h1.0v1.0h-1.0zM77 484h1.0v1.0h-1.0zM114 479h1.0v1.0h-1.0zM99 483h1.0v1.0h-1.0zM111 479h1.0v1.0h-1.0zM116 477h1.0v1.0h-1.0zM122 484h1.0v1.0h-1.0zM116 470h1.0v1.0h-1.0zM122 480h1.0v1.0h-1.0zM99 488h1.0v1.0h-1.0zM110 476h1.0v1.0h-1.0zM87 496h1.0v1.0h-1.0zM111 473h1.0v1.0h-1.0zM91 487h1.0v1.0h-1.0zM121 480h1.0v1.0h-1.0zM111 481h1.0v1.0h-1.0zM105 479h1.0v1.0h-1.0zM102 488h1.0v1.0h-1.0zM111 485h1.0v1.0h-1.0zM102 480h1.0v1.0h-1.0zM94 489h1.0v1.0h-1.0zM113 482h1.0v1.0h-1.0zM99 485h1.0v1.0h-1.0zM114 484h1.0v1.0h-1.0zM99 489h1.0v1.0h-1.0zM96 490h1.0v1.0h-1.0zM117 490h1.0v1.0h-1.0zM123 489h1.0v1.0h-1.0zM103 463h1.0v1.0h-1.0zM108 482h1.0v1.0h-1.0zM108 475h1.0v1.0h-1.0zM115 476h1.0v1.0h-1.0zM110 481h1.0v1.0h-1.0zM107 475h1.0v1.0h-1.0zM109 481h1.0v1.0h-1.0zM120 478h1.0v1.0h-1.0zM110 491h1.0v1.0h-1.0zM108 475h1.0v1.0h-1.0zM124 481h1.0v1.0h-1.0zM120 481h1.0v1.0h-1.0zM117 478h1.0v1.0h-1.0zM108 482h1.0v1.0h-1.0zM95 474h1.0v1.0h-1.0zM92 491h1.0v1.0h-1.0zM110 497h1.0v1.0h-1.0zM112 484h1.0v1.0h-1.0zM93 485h1.0v1.0h-1.0zM93 475h1.0v1.0h-1.0zM105 471h1.0v1.0h-1.0zM107 490h1.0v1.0h-1.0zM93 481h1.0v1.0h-1.0zM108 491h1.0v1.0h-1.0zM116 478h1.0v1.0h-1.0zM104 472h1.0v1.0h-1.0zM115 469h1.0v1.0h-1.0zM99 481h1.0v1.0h-1.0zM103 463h1.0v1.0h-1.0zM93 488h1.0v1.0h-1.0zM104 472h1.0v1.0h-1.0zM104 475h1.0v1.0h-1.0zM116 476h1.0v1.0h-1.0zM105 488h1.0v1.0h-1.0zM101 481h1.0v1.0h-1.0zM108 485h1.0v1.0h-1.0zM118 469h1.0v1.0h-1.0zM119 475h1.0v1.0h-1.0zM94 488h1.0v1.0h-1.0zM91 490h1.0v1.0h-1.0zM114 491h1.0v1.0h-1.0zM105 486h1.0v1.0h-1.0zM103 482h1.0v1.0h-1.0zM119 476h1.0v1.0h-1.0zM112 473h1.0v1.0h-1.0zM103 485h1.0v1.0h-1.0zM113 471h1.0v1.0h-1.0zM102 497h1.0v1.0h-1.0zM102 483h1.0v1.0h-1.0zM128 473h1.0v1.0h-1.0zM106 485h1.0v1.0h-1.0zM114 478h1.0v1.0h-1.0zM104 475h1.0v1.0h-1.0zM105 486h1.0v1.0h-1.0zM96 481h1.0v1.0h-1.0zM94 475h1.0v1.0h-1.0zM123 488h1.0v1.0h-1.0zM116 481h1.0v1.0h-1.0zM116 491h1.0v1.0h-1.0zM102 479h1.0v1.0h-1.0z" fill="#ff1414" fill-opacity="0.78" filter="url(#soft)"/>
<path d="M134 475h1.0v1.0h-1.0zM135 469h1.0v1.0h-1.0zM135 489h1.0v1.0h-1.0zM124 489h1.0v1.0h-1.0zM135 484h1.0v1.0h-1.0zM129 489h1.0v1.0h-1.0zM124 488h1.0v1.0h-1.0zM130 481h1.0v1.0h-1.0zM129 476h1.0v1.0h-1.0zM132 481h1.0v1.0h-1.0zM129 488h1.0v1.0h-1.0zM129 477h1.0v1.0h-1.0zM127 483h1.0v1.0h-1.0zM131 484h1.0v1.0h-1.0zM127 486h1.0v1.0h-1.0zM126 488h1.0v1.0h-1.0zM135 477h1.0v1.0h-1.0zM127 486h1.0v1.0h-1.0zM130 479h1.0v1.0h-1.0zM127 481h1.0v1.0h-1.0zM137 481h1.0v1.0h-1.0zM127 492h1.0v1.0h-1.0zM125 493h1.0v1.0h-1.0zM129 476h1.0v1.0h-1.0zM140 485h1.0v1.0h-1.0zM128 492h1.0v1.0h-1.0zM131 476h1.0v1.0h-1.0zM129 484h1.0v1.0h-1.0zM125 493h1.0v1.0h-1.0zM126 486h1.0v1.0h-1.0zM130 493h1.0v1.0h-1.0zM123 496h1.0v1.0h-1.0zM127 494h1.0v1.0h-1.0zM124 489h1.0v1.0h-1.0zM129 496h1.0v1.0h-1.0zM123 496h1.0v1.0h-1.0zM128 490h1.0v1.0h-1.0zM134 470h1.0v1.0h-1.0zM137 473h1.0v1.0h-1.0zM140 484h1.0v1.0h-1.0zM139 483h1.0v1.0h-1.0zM128 481h1.0v1.0h-1.0zM134 482h1.0v1.0h-1.0zM130 477h1.0v1.0h-1.0zM130 477h1.0v1.0h-1.0zM122 497h1.0v1.0h-1.0zM135 483h1.0v1.0h-1.0zM133 485h1.0v1.0h-1.0zM131 469h1.0v1.0h-1.0z" fill="#dc1a08" fill-opacity="0.78" filter="url(#soft)"/>
<path d="M105 445h1.0v1.0h-1.0zM114 451h1.0v1.0h-1.0zM108 448h1.0v1.0h-1.0zM130 444h1.0v1.0h-1.0zM103 450h1.0v1.0h-1.0zM88 451h1.0v1.0h-1.0zM97 444h1.0v1.0h-1.0zM99 445h1.0v1.0h-1.0zM101 451h1.0v1.0h-1.0zM103 465h1.0v1.0h-1.0zM117 460h1.0v1.0h-1.0zM127 452h1.0v1.0h-1.0zM77 444h1.0v1.0h-1.0zM95 447h1.0v1.0h-1.0zM129 434h1.0v1.0h-1.0zM81 449h1.0v1.0h-1.0zM107 447h1.0v1.0h-1.0zM90 454h1.0v1.0h-1.0zM103 441h1.0v1.0h-1.0zM111 461h1.0v1.0h-1.0zM91 449h1.0v1.0h-1.0zM107 451h1.0v1.0h-1.0zM135 452h1.0v1.0h-1.0zM94 444h1.0v1.0h-1.0zM103 445h1.0v1.0h-1.0zM103 447h1.0v1.0h-1.0zM107 453h1.0v1.0h-1.0zM98 463h1.0v1.0h-1.0zM83 463h1.0v1.0h-1.0zM91 472h1.0v1.0h-1.0zM99 462h1.0v1.0h-1.0zM101 448h1.0v1.0h-1.0zM111 439h1.0v1.0h-1.0zM80 462h1.0v1.0h-1.0zM127 439h1.0v1.0h-1.0zM114 435h1.0v1.0h-1.0zM103 442h1.0v1.0h-1.0zM99 437h1.0v1.0h-1.0zM99 451h1.0v1.0h-1.0zM108 454h1.0v1.0h-1.0zM77 451h1.0v1.0h-1.0zM85 444h1.0v1.0h-1.0zM126 445h1.0v1.0h-1.0zM114 448h1.0v1.0h-1.0zM119 443h1.0v1.0h-1.0zM84 459h1.0v1.0h-1.0zM107 444h1.0v1.0h-1.0zM124 464h1.0v1.0h-1.0zM105 439h1.0v1.0h-1.0zM118 438h1.0v1.0h-1.0zM100 432h1.0v1.0h-1.0zM94 458h1.0v1.0h-1.0zM117 454h1.0v1.0h-1.0zM100 459h1.0v1.0h-1.0zM99 462h1.0v1.0h-1.0zM113 468h1.0v1.0h-1.0zM95 445h1.0v1.0h-1.0zM111 451h1.0v1.0h-1.0zM93 452h1.0v1.0h-1.0zM105 465h1.0v1.0h-1.0zM108 449h1.0v1.0h-1.0zM82 436h1.0v1.0h-1.0zM89 450h1.0v1.0h-1.0zM105 443h1.0v1.0h-1.0zM98 442h1.0v1.0h-1.0zM109 450h1.0v1.0h-1.0zM97 450h1.0v1.0h-1.0zM102 447h1.0v1.0h-1.0zM106 452h1.0v1.0h-1.0zM106 445h1.0v1.0h-1.0zM84 453h1.0v1.0h-1.0zM83 456h1.0v1.0h-1.0zM86 460h1.0v1.0h-1.0zM118 458h1.0v1.0h-1.0zM107 443h1.0v1.0h-1.0zM99 442h1.0v1.0h-1.0zM128 449h1.0v1.0h-1.0zM89 453h1.0v1.0h-1.0zM117 454h1.0v1.0h-1.0zM90 450h1.0v1.0h-1.0zM109 438h1.0v1.0h-1.0zM97 449h1.0v1.0h-1.0zM126 452h1.0v1.0h-1.0zM136 439h1.0v1.0h-1.0zM113 443h1.0v1.0h-1.0zM123 463h1.0v1.0h-1.0zM121 452h1.0v1.0h-1.0zM109 440h1.0v1.0h-1.0zM100 447h1.0v1.0h-1.0zM93 451h1.0v1.0h-1.0zM116 446h1.0v1.0h-1.0zM124 458h1.0v1.0h-1.0zM106 459h1.0v1.0h-1.0zM119 450h1.0v1.0h-1.0zM120 448h1.0v1.0h-1.0zM109 436h1.0v1.0h-1.0zM90 452h1.0v1.0h-1.0zM101 448h1.0v1.0h-1.0zM131 435h1.0v1.0h-1.0zM79 457h1.0v1.0h-1.0zM122 450h1.0v1.0h-1.0zM103 450h1.0v1.0h-1.0zM115 447h1.0v1.0h-1.0zM92 450h1.0v1.0h-1.0zM99 445h1.0v1.0h-1.0zM90 461h1.0v1.0h-1.0zM102 461h1.0v1.0h-1.0zM107 450h1.0v1.0h-1.0zM90 464h1.0v1.0h-1.0zM129 435h1.0v1.0h-1.0zM122 455h1.0v1.0h-1.0zM124 453h1.0v1.0h-1.0zM106 445h1.0v1.0h-1.0zM111 447h1.0v1.0h-1.0zM115 445h1.0v1.0h-1.0zM95 451h1.0v1.0h-1.0zM98 461h1.0v1.0h-1.0zM111 451h1.0v1.0h-1.0zM124 454h1.0v1.0h-1.0zM77 466h1.0v1.0h-1.0zM100 453h1.0v1.0h-1.0zM111 442h1.0v1.0h-1.0zM103 458h1.0v1.0h-1.0zM100 457h1.0v1.0h-1.0zM113 456h1.0v1.0h-1.0zM93 445h1.0v1.0h-1.0zM104 467h1.0v1.0h-1.0zM110 446h1.0v1.0h-1.0zM89 451h1.0v1.0h-1.0zM109 451h1.0v1.0h-1.0zM87 460h1.0v1.0h-1.0zM102 453h1.0v1.0h-1.0zM105 435h1.0v1.0h-1.0zM88 450h1.0v1.0h-1.0zM109 454h1.0v1.0h-1.0zM95 445h1.0v1.0h-1.0zM86 462h1.0v1.0h-1.0zM107 441h1.0v1.0h-1.0zM111 451h1.0v1.0h-1.0zM91 432h1.0v1.0h-1.0zM89 434h1.0v1.0h-1.0zM132 443h1.0v1.0h-1.0zM96 448h1.0v1.0h-1.0zM88 455h1.0v1.0h-1.0zM110 445h1.0v1.0h-1.0zM89 446h1.0v1.0h-1.0zM108 461h1.0v1.0h-1.0zM113 462h1.0v1.0h-1.0zM107 446h1.0v1.0h-1.0zM94 456h1.0v1.0h-1.0zM108 449h1.0v1.0h-1.0zM110 449h1.0v1.0h-1.0zM102 450h1.0v1.0h-1.0zM92 454h1.0v1.0h-1.0zM129 444h1.0v1.0h-1.0zM87 441h1.0v1.0h-1.0zM83 440h1.0v1.0h-1.0zM117 453h1.0v1.0h-1.0zM104 450h1.0v1.0h-1.0zM97 451h1.0v1.0h-1.0zM103 463h1.0v1.0h-1.0zM79 466h1.0v1.0h-1.0zM101 452h1.0v1.0h-1.0zM110 447h1.0v1.0h-1.0zM108 444h1.0v1.0h-1.0zM99 457h1.0v1.0h-1.0zM113 445h1.0v1.0h-1.0zM111 451h1.0v1.0h-1.0zM110 454h1.0v1.0h-1.0zM80 445h1.0v1.0h-1.0zM96 465h1.0v1.0h-1.0zM120 468h1.0v1.0h-1.0zM95 436h1.0v1.0h-1.0zM138 448h1.0v1.0h-1.0zM102 445h1.0v1.0h-1.0zM95 453h1.0v1.0h-1.0zM99 457h1.0v1.0h-1.0zM96 461h1.0v1.0h-1.0zM101 466h1.0v1.0h-1.0zM111 449h1.0v1.0h-1.0zM106 459h1.0v1.0h-1.0zM106 452h1.0v1.0h-1.0zM122 447h1.0v1.0h-1.0zM102 452h1.0v1.0h-1.0zM115 449h1.0v1.0h-1.0zM93 440h1.0v1.0h-1.0zM72 452h1.0v1.0h-1.0zM74 452h1.0v1.0h-1.0zM68 456h1.0v1.0h-1.0zM106 439h1.0v1.0h-1.0zM107 441h1.0v1.0h-1.0zM94 457h1.0v1.0h-1.0zM114 447h1.0v1.0h-1.0zM94 453h1.0v1.0h-1.0zM110 454h1.0v1.0h-1.0zM98 459h1.0v1.0h-1.0zM106 437h1.0v1.0h-1.0zM81 449h1.0v1.0h-1.0zM88 470h1.0v1.0h-1.0zM90 444h1.0v1.0h-1.0zM117 436h1.0v1.0h-1.0zM86 452h1.0v1.0h-1.0zM107 451h1.0v1.0h-1.0zM119 449h1.0v1.0h-1.0zM97 444h1.0v1.0h-1.0zM88 457h1.0v1.0h-1.0zM121 446h1.0v1.0h-1.0zM92 464h1.0v1.0h-1.0zM104 442h1.0v1.0h-1.0zM105 460h1.0v1.0h-1.0zM95 455h1.0v1.0h-1.0zM106 448h1.0v1.0h-1.0zM110 443h1.0v1.0h-1.0zM88 458h1.0v1.0h-1.0zM134 454h1.0v1.0h-1.0zM87 441h1.0v1.0h-1.0zM119 455h1.0v1.0h-1.0zM86 459h1.0v1.0h-1.0zM117 454h1.0v1.0h-1.0zM83 448h1.0v1.0h-1.0zM124 444h1.0v1.0h-1.0zM77 445h1.0v1.0h-1.0zM99 448h1.0v1.0h-1.0zM104 455h1.0v1.0h-1.0zM105 447h1.0v1.0h-1.0zM87 447h1.0v1.0h-1.0zM104 460h1.0v1.0h-1.0zM93 457h1.0v1.0h-1.0zM99 452h1.0v1.0h-1.0zM114 437h1.0v1.0h-1.0zM79 456h1.0v1.0h-1.0zM103 451h1.0v1.0h-1.0zM97 451h1.0v1.0h-1.0zM97 449h1.0v1.0h-1.0zM100 446h1.0v1.0h-1.0zM79 462h1.0v1.0h-1.0zM98 475h1.0v1.0h-1.0zM104 445h1.0v1.0h-1.0zM102 468h1.0v1.0h-1.0zM105 449h1.0v1.0h-1.0zM115 447h1.0v1.0h-1.0zM86 447h1.0v1.0h-1.0zM115 459h1.0v1.0h-1.0zM85 450h1.0v1.0h-1.0zM99 446h1.0v1.0h-1.0zM90 447h1.0v1.0h-1.0zM100 441h1.0v1.0h-1.0zM106 459h1.0v1.0h-1.0zM71 458h1.0v1.0h-1.0zM106 453h1.0v1.0h-1.0zM113 451h1.0v1.0h-1.0zM95 444h1.0v1.0h-1.0zM82 446h1.0v1.0h-1.0zM118 449h1.0v1.0h-1.0zM107 437h1.0v1.0h-1.0zM89 447h1.0v1.0h-1.0zM90 462h1.0v1.0h-1.0zM93 442h1.0v1.0h-1.0zM107 461h1.0v1.0h-1.0zM99 462h1.0v1.0h-1.0zM110 454h1.0v1.0h-1.0zM95 456h1.0v1.0h-1.0zM101 452h1.0v1.0h-1.0zM97 452h1.0v1.0h-1.0zM104 458h1.0v1.0h-1.0zM92 458h1.0v1.0h-1.0zM100 446h1.0v1.0h-1.0zM111 448h1.0v1.0h-1.0zM83 455h1.0v1.0h-1.0zM99 458h1.0v1.0h-1.0zM105 451h1.0v1.0h-1.0zM104 459h1.0v1.0h-1.0zM83 464h1.0v1.0h-1.0zM99 443h1.0v1.0h-1.0zM97 446h1.0v1.0h-1.0zM112 453h1.0v1.0h-1.0zM105 438h1.0v1.0h-1.0zM109 452h1.0v1.0h-1.0zM112 445h1.0v1.0h-1.0zM115 446h1.0v1.0h-1.0zM106 450h1.0v1.0h-1.0zM118 449h1.0v1.0h-1.0zM93 440h1.0v1.0h-1.0zM91 445h1.0v1.0h-1.0zM115 465h1.0v1.0h-1.0zM96 447h1.0v1.0h-1.0zM113 468h1.0v1.0h-1.0zM99 460h1.0v1.0h-1.0zM96 448h1.0v1.0h-1.0zM125 458h1.0v1.0h-1.0zM134 438h1.0v1.0h-1.0zM97 454h1.0v1.0h-1.0zM96 447h1.0v1.0h-1.0zM103 449h1.0v1.0h-1.0zM110 444h1.0v1.0h-1.0zM111 440h1.0v1.0h-1.0zM85 453h1.0v1.0h-1.0zM132 447h1.0v1.0h-1.0zM100 443h1.0v1.0h-1.0zM106 446h1.0v1.0h-1.0zM100 453h1.0v1.0h-1.0zM121 460h1.0v1.0h-1.0zM116 463h1.0v1.0h-1.0zM99 459h1.0v1.0h-1.0zM118 448h1.0v1.0h-1.0zM103 450h1.0v1.0h-1.0zM120 438h1.0v1.0h-1.0zM102 449h1.0v1.0h-1.0zM97 445h1.0v1.0h-1.0zM105 462h1.0v1.0h-1.0zM97 449h1.0v1.0h-1.0zM120 454h1.0v1.0h-1.0zM112 455h1.0v1.0h-1.0zM108 440h1.0v1.0h-1.0zM86 453h1.0v1.0h-1.0zM112 451h1.0v1.0h-1.0zM104 451h1.0v1.0h-1.0zM90 463h1.0v1.0h-1.0zM103 464h1.0v1.0h-1.0zM92 437h1.0v1.0h-1.0zM118 449h1.0v1.0h-1.0zM92 452h1.0v1.0h-1.0zM105 449h1.0v1.0h-1.0zM99 455h1.0v1.0h-1.0zM96 454h1.0v1.0h-1.0zM130 456h1.0v1.0h-1.0zM90 449h1.0v1.0h-1.0zM111 452h1.0v1.0h-1.0zM89 444h1.0v1.0h-1.0zM107 438h1.0v1.0h-1.0zM103 460h1.0v1.0h-1.0zM125 444h1.0v1.0h-1.0zM120 453h1.0v1.0h-1.0zM90 435h1.0v1.0h-1.0zM116 448h1.0v1.0h-1.0zM101 443h1.0v1.0h-1.0zM106 455h1.0v1.0h-1.0zM119 439h1.0v1.0h-1.0zM109 456h1.0v1.0h-1.0zM108 461h1.0v1.0h-1.0zM99 471h1.0v1.0h-1.0zM111 451h1.0v1.0h-1.0zM113 453h1.0v1.0h-1.0zM87 451h1.0v1.0h-1.0zM87 460h1.0v1.0h-1.0zM104 451h1.0v1.0h-1.0zM118 450h1.0v1.0h-1.0zM100 460h1.0v1.0h-1.0zM110 435h1.0v1.0h-1.0zM85 435h1.0v1.0h-1.0zM105 449h1.0v1.0h-1.0zM113 446h1.0v1.0h-1.0zM108 445h1.0v1.0h-1.0zM116 444h1.0v1.0h-1.0zM106 457h1.0v1.0h-1.0zM121 447h1.0v1.0h-1.0zM101 437h1.0v1.0h-1.0zM94 453h1.0v1.0h-1.0z" fill="#ff1414" fill-opacity="0.52" filter="url(#soft)"/>
<path d="M144 456h1.0v1.0h-1.0zM138 460h1.0v1.0h-1.0z" fill="#dc1a08" fill-opacity="0.52" filter="url(#soft)"/>
<path d="M110 409h1.0v1.0h-1.0zM88 419h1.0v1.0h-1.0zM98 405h1.0v1.0h-1.0zM108 421h1.0v1.0h-1.0zM97 430h1.0v1.0h-1.0zM108 416h1.0v1.0h-1.0zM117 407h1.0v1.0h-1.0zM103 410h1.0v1.0h-1.0zM120 425h1.0v1.0h-1.0zM101 421h1.0v1.0h-1.0zM108 416h1.0v1.0h-1.0zM119 414h1.0v1.0h-1.0zM104 411h1.0v1.0h-1.0zM105 397h1.0v1.0h-1.0zM109 404h1.0v1.0h-1.0zM109 401h1.0v1.0h-1.0zM112 421h1.0v1.0h-1.0zM106 408h1.0v1.0h-1.0zM95 409h1.0v1.0h-1.0zM118 414h1.0v1.0h-1.0zM91 403h1.0v1.0h-1.0zM134 392h1.0v1.0h-1.0zM94 424h1.0v1.0h-1.0zM114 412h1.0v1.0h-1.0zM103 419h1.0v1.0h-1.0zM109 409h1.0v1.0h-1.0zM108 411h1.0v1.0h-1.0zM107 392h1.0v1.0h-1.0zM109 417h1.0v1.0h-1.0zM102 421h1.0v1.0h-1.0zM100 406h1.0v1.0h-1.0zM110 411h1.0v1.0h-1.0zM113 446h1.0v1.0h-1.0zM122 394h1.0v1.0h-1.0zM107 426h1.0v1.0h-1.0zM123 399h1.0v1.0h-1.0zM109 397h1.0v1.0h-1.0zM114 397h1.0v1.0h-1.0zM115 414h1.0v1.0h-1.0zM107 425h1.0v1.0h-1.0zM115 427h1.0v1.0h-1.0zM118 401h1.0v1.0h-1.0zM90 412h1.0v1.0h-1.0zM123 415h1.0v1.0h-1.0zM90 410h1.0v1.0h-1.0zM105 420h1.0v1.0h-1.0zM114 403h1.0v1.0h-1.0zM107 426h1.0v1.0h-1.0zM116 420h1.0v1.0h-1.0zM101 414h1.0v1.0h-1.0zM111 413h1.0v1.0h-1.0zM112 417h1.0v1.0h-1.0zM102 425h1.0v1.0h-1.0zM93 412h1.0v1.0h-1.0zM109 419h1.0v1.0h-1.0zM119 391h1.0v1.0h-1.0zM101 399h1.0v1.0h-1.0zM115 418h1.0v1.0h-1.0zM102 408h1.0v1.0h-1.0zM87 407h1.0v1.0h-1.0zM117 394h1.0v1.0h-1.0zM120 421h1.0v1.0h-1.0zM95 421h1.0v1.0h-1.0zM132 368h1.0v1.0h-1.0zM93 417h1.0v1.0h-1.0zM100 418h1.0v1.0h-1.0zM100 423h1.0v1.0h-1.0zM117 412h1.0v1.0h-1.0zM94 417h1.0v1.0h-1.0zM99 420h1.0v1.0h-1.0zM109 400h1.0v1.0h-1.0zM111 395h1.0v1.0h-1.0zM105 408h1.0v1.0h-1.0zM100 424h1.0v1.0h-1.0zM110 408h1.0v1.0h-1.0zM117 426h1.0v1.0h-1.0zM113 412h1.0v1.0h-1.0zM111 411h1.0v1.0h-1.0zM92 422h1.0v1.0h-1.0zM103 399h1.0v1.0h-1.0zM115 416h1.0v1.0h-1.0zM111 415h1.0v1.0h-1.0zM106 427h1.0v1.0h-1.0zM109 401h1.0v1.0h-1.0zM101 420h1.0v1.0h-1.0zM103 409h1.0v1.0h-1.0zM107 427h1.0v1.0h-1.0zM103 428h1.0v1.0h-1.0zM84 420h1.0v1.0h-1.0zM107 436h1.0v1.0h-1.0zM93 412h1.0v1.0h-1.0zM107 395h1.0v1.0h-1.0zM105 397h1.0v1.0h-1.0zM101 422h1.0v1.0h-1.0zM102 422h1.0v1.0h-1.0zM108 392h1.0v1.0h-1.0zM112 404h1.0v1.0h-1.0zM107 413h1.0v1.0h-1.0zM106 418h1.0v1.0h-1.0zM101 416h1.0v1.0h-1.0zM94 440h1.0v1.0h-1.0zM105 421h1.0v1.0h-1.0zM113 387h1.0v1.0h-1.0zM113 394h1.0v1.0h-1.0zM115 421h1.0v1.0h-1.0zM111 404h1.0v1.0h-1.0zM98 401h1.0v1.0h-1.0zM100 418h1.0v1.0h-1.0zM89 418h1.0v1.0h-1.0zM116 426h1.0v1.0h-1.0zM104 410h1.0v1.0h-1.0zM129 405h1.0v1.0h-1.0zM103 408h1.0v1.0h-1.0zM111 415h1.0v1.0h-1.0zM106 417h1.0v1.0h-1.0zM110 397h1.0v1.0h-1.0zM122 397h1.0v1.0h-1.0zM113 413h1.0v1.0h-1.0zM108 417h1.0v1.0h-1.0zM102 407h1.0v1.0h-1.0zM99 401h1.0v1.0h-1.0zM119 402h1.0v1.0h-1.0zM119 405h1.0v1.0h-1.0zM102 422h1.0v1.0h-1.0zM115 419h1.0v1.0h-1.0zM115 423h1.0v1.0h-1.0zM106 404h1.0v1.0h-1.0zM105 428h1.0v1.0h-1.0zM85 428h1.0v1.0h-1.0zM114 416h1.0v1.0h-1.0zM92 413h1.0v1.0h-1.0zM95 414h1.0v1.0h-1.0zM108 416h1.0v1.0h-1.0zM100 423h1.0v1.0h-1.0zM128 422h1.0v1.0h-1.0zM98 425h1.0v1.0h-1.0zM100 426h1.0v1.0h-1.0zM116 410h1.0v1.0h-1.0zM94 412h1.0v1.0h-1.0zM131 409h1.0v1.0h-1.0zM102 407h1.0v1.0h-1.0zM102 421h1.0v1.0h-1.0zM102 419h1.0v1.0h-1.0zM113 431h1.0v1.0h-1.0zM101 411h1.0v1.0h-1.0zM113 409h1.0v1.0h-1.0zM105 413h1.0v1.0h-1.0zM100 408h1.0v1.0h-1.0zM108 428h1.0v1.0h-1.0zM135 410h1.0v1.0h-1.0zM107 405h1.0v1.0h-1.0zM110 401h1.0v1.0h-1.0zM102 427h1.0v1.0h-1.0zM110 418h1.0v1.0h-1.0zM110 425h1.0v1.0h-1.0zM114 395h1.0v1.0h-1.0zM101 413h1.0v1.0h-1.0zM122 389h1.0v1.0h-1.0zM98 403h1.0v1.0h-1.0zM105 421h1.0v1.0h-1.0zM107 397h1.0v1.0h-1.0zM116 394h1.0v1.0h-1.0zM105 415h1.0v1.0h-1.0zM95 416h1.0v1.0h-1.0zM100 411h1.0v1.0h-1.0zM90 422h1.0v1.0h-1.0zM91 421h1.0v1.0h-1.0zM94 437h1.0v1.0h-1.0zM96 417h1.0v1.0h-1.0zM94 426h1.0v1.0h-1.0zM102 409h1.0v1.0h-1.0zM100 407h1.0v1.0h-1.0zM110 401h1.0v1.0h-1.0zM105 409h1.0v1.0h-1.0zM100 414h1.0v1.0h-1.0zM119 402h1.0v1.0h-1.0zM95 418h1.0v1.0h-1.0zM86 433h1.0v1.0h-1.0zM114 436h1.0v1.0h-1.0zM97 415h1.0v1.0h-1.0zM114 409h1.0v1.0h-1.0zM117 405h1.0v1.0h-1.0zM95 422h1.0v1.0h-1.0zM118 404h1.0v1.0h-1.0zM105 408h1.0v1.0h-1.0zM114 408h1.0v1.0h-1.0zM110 429h1.0v1.0h-1.0zM90 409h1.0v1.0h-1.0zM100 440h1.0v1.0h-1.0zM115 417h1.0v1.0h-1.0zM106 419h1.0v1.0h-1.0zM95 399h1.0v1.0h-1.0zM124 406h1.0v1.0h-1.0zM92 419h1.0v1.0h-1.0zM116 405h1.0v1.0h-1.0zM109 400h1.0v1.0h-1.0zM105 416h1.0v1.0h-1.0zM107 388h1.0v1.0h-1.0zM107 425h1.0v1.0h-1.0zM83 422h1.0v1.0h-1.0zM109 414h1.0v1.0h-1.0zM126 398h1.0v1.0h-1.0zM107 406h1.0v1.0h-1.0zM90 430h1.0v1.0h-1.0zM97 416h1.0v1.0h-1.0zM104 395h1.0v1.0h-1.0zM103 422h1.0v1.0h-1.0zM93 409h1.0v1.0h-1.0zM93 421h1.0v1.0h-1.0zM123 394h1.0v1.0h-1.0zM118 395h1.0v1.0h-1.0zM104 430h1.0v1.0h-1.0zM98 434h1.0v1.0h-1.0zM107 405h1.0v1.0h-1.0zM111 409h1.0v1.0h-1.0zM107 413h1.0v1.0h-1.0zM100 408h1.0v1.0h-1.0zM97 413h1.0v1.0h-1.0zM99 397h1.0v1.0h-1.0zM135 414h1.0v1.0h-1.0zM117 400h1.0v1.0h-1.0zM116 405h1.0v1.0h-1.0zM107 421h1.0v1.0h-1.0zM110 420h1.0v1.0h-1.0zM111 419h1.0v1.0h-1.0zM100 408h1.0v1.0h-1.0zM92 415h1.0v1.0h-1.0zM110 426h1.0v1.0h-1.0zM98 412h1.0v1.0h-1.0zM120 425h1.0v1.0h-1.0z" fill="#ff1414" fill-opacity="0.52" filter="url(#soft)"/>
<path d="" fill="#dc1a08" fill-opacity="0.52" filter="url(#soft)"/>
<path d="M122 388h1.0v1.0h-1.0zM113 401h1.0v1.0h-1.0zM120 392h1.0v1.0h-1.0zM118 402h1.0v1.0h-1.0zM135 382h1.0v1.0h-1.0zM123 387h1.0v1.0h-1.0zM123 388h1.0v1.0h-1.0zM133 379h1.0v1.0h-1.0zM107 401h1.0v1.0h-1.0zM111 404h1.0v1.0h-1.0zM117 402h1.0v1.0h-1.0zM129 388h1.0v1.0h-1.0zM124 403h1.0v1.0h-1.0zM124 385h1.0v1.0h-1.0zM124 386h1.0v1.0h-1.0zM114 407h1.0v1.0h-1.0zM120 397h1.0v1.0h-1.0zM128 388h1.0v1.0h-1.0zM119 393h1.0v1.0h-1.0zM116 387h1.0v1.0h-1.0zM116 393h1.0v1.0h-1.0zM109 395h1.0v1.0h-1.0zM118 395h1.0v1.0h-1.0zM124 396h1.0v1.0h-1.0zM116 399h1.0v1.0h-1.0zM124 384h1.0v1.0h-1.0zM121 379h1.0v1.0h-1.0zM113 400h1.0v1.0h-1.0zM127 377h1.0v1.0h-1.0zM118 390h1.0v1.0h-1.0zM122 391h1.0v1.0h-1.0zM131 394h1.0v1.0h-1.0zM116 394h1.0v1.0h-1.0zM125 380h1.0v1.0h-1.0zM121 382h1.0v1.0h-1.0zM122 394h1.0v1.0h-1.0zM109 401h1.0v1.0h-1.0zM118 384h1.0v1.0h-1.0zM115 396h1.0v1.0h-1.0zM113 401h1.0v1.0h-1.0zM117 388h1.0v1.0h-1.0zM118 395h1.0v1.0h-1.0zM117 383h1.0v1.0h-1.0zM128 389h1.0v1.0h-1.0zM122 381h1.0v1.0h-1.0zM126 384h1.0v1.0h-1.0zM124 379h1.0v1.0h-1.0zM112 397h1.0v1.0h-1.0zM125 387h1.0v1.0h-1.0zM128 378h1.0v1.0h-1.0zM125 385h1.0v1.0h-1.0zM116 403h1.0v1.0h-1.0zM126 400h1.0v1.0h-1.0zM127 389h1.0v1.0h-1.0zM130 378h1.0v1.0h-1.0zM125 387h1.0v1.0h-1.0zM122 382h1.0v1.0h-1.0zM107 401h1.0v1.0h-1.0zM118 388h1.0v1.0h-1.0zM132 378h1.0v1.0h-1.0z" fill="#ff1414" fill-opacity="0.52" filter="url(#soft)"/>
<path d="" fill="#dc1a08" fill-opacity="0.52" filter="url(#soft)"/>
<path d="M117 490h1.0v1.0h-1.0zM124 480h1.0v1.0h-1.0zM129 475h1.0v1.0h-1.0zM124 486h1.0v1.0h-1.0zM122 489h1.0v1.0h-1.0zM121 488h1.0v1.0h-1.0zM125 479h1.0v1.0h-1.0zM124 482h1.0v1.0h-1.0zM124 485h1.0v1.0h-1.0zM126 482h1.0v1.0h-1.0zM132 467h1.0v1.0h-1.0zM118 491h1.0v1.0h-1.0zM121 490h1.0v1.0h-1.0zM125 480h1.0v1.0h-1.0zM117 489h1.0v1.0h-1.0zM117 485h1.0v1.0h-1.0z" fill="#ff1414" fill-opacity="0.45" filter="url(#soft)"/>
<path d="M145 469h1.0v1.0h-1.0zM131 486h1.0v1.0h-1.0zM129 499h1.0v1.0h-1.0zM147 477h1.0v1.0h-1.0zM145 478h1.0v1.0h-1.0zM130 475h1.0v1.0h-1.0zM130 480h1.0v1.0h-1.0zM140 478h1.0v1.0h-1.0zM126 489h1.0v1.0h-1.0zM153 459h1.0v1.0h-1.0zM152 458h1.0v1.0h-1.0zM136 479h1.0v1.0h-1.0zM140 482h1.0v1.0h-1.0zM130 490h1.0v1.0h-1.0zM125 488h1.0v1.0h-1.0zM127 482h1.0v1.0h-1.0zM140 483h1.0v1.0h-1.0zM156 456h1.0v1.0h-1.0zM153 477h1.0v1.0h-1.0zM142 477h1.0v1.0h-1.0zM137 483h1.0v1.0h-1.0zM145 464h1.0v1.0h-1.0zM131 492h1.0v1.0h-1.0zM135 476h1.0v1.0h-1.0zM134 492h1.0v1.0h-1.0zM129 493h1.0v1.0h-1.0zM130 494h1.0v1.0h-1.0zM150 463h1.0v1.0h-1.0zM144 462h1.0v1.0h-1.0zM142 472h1.0v1.0h-1.0zM140 480h1.0v1.0h-1.0zM134 478h1.0v1.0h-1.0zM144 467h1.0v1.0h-1.0zM134 491h1.0v1.0h-1.0zM140 487h1.0v1.0h-1.0zM127 483h1.0v1.0h-1.0zM134 490h1.0v1.0h-1.0zM138 489h1.0v1.0h-1.0zM128 496h1.0v1.0h-1.0zM141 470h1.0v1.0h-1.0zM134 473h1.0v1.0h-1.0zM127 485h1.0v1.0h-1.0zM158 458h1.0v1.0h-1.0zM133 496h1.0v1.0h-1.0zM143 483h1.0v1.0h-1.0zM141 473h1.0v1.0h-1.0zM149 468h1.0v1.0h-1.0zM147 464h1.0v1.0h-1.0zM131 481h1.0v1.0h-1.0zM131 494h1.0v1.0h-1.0zM148 474h1.0v1.0h-1.0zM126 491h1.0v1.0h-1.0zM139 478h1.0v1.0h-1.0zM143 491h1.0v1.0h-1.0zM135 486h1.0v1.0h-1.0zM148 464h1.0v1.0h-1.0zM133 477h1.0v1.0h-1.0zM147 471h1.0v1.0h-1.0zM142 469h1.0v1.0h-1.0zM132 488h1.0v1.0h-1.0zM139 473h1.0v1.0h-1.0zM131 483h1.0v1.0h-1.0zM131 493h1.0v1.0h-1.0zM137 474h1.0v1.0h-1.0zM136 483h1.0v1.0h-1.0zM153 466h1.0v1.0h-1.0zM128 491h1.0v1.0h-1.0zM135 469h1.0v1.0h-1.0zM140 487h1.0v1.0h-1.0zM126 497h1.0v1.0h-1.0zM144 464h1.0v1.0h-1.0zM146 465h1.0v1.0h-1.0zM151 467h1.0v1.0h-1.0zM137 473h1.0v1.0h-1.0zM140 480h1.0v1.0h-1.0zM137 469h1.0v1.0h-1.0zM142 474h1.0v1.0h-1.0zM127 496h1.0v1.0h-1.0zM132 480h1.0v1.0h-1.0zM131 487h1.0v1.0h-1.0zM144 472h1.0v1.0h-1.0zM158 464h1.0v1.0h-1.0zM138 486h1.0v1.0h-1.0zM151 464h1.0v1.0h-1.0zM127 491h1.0v1.0h-1.0zM150 462h1.0v1.0h-1.0zM124 489h1.0v1.0h-1.0zM124 489h1.0v1.0h-1.0zM139 472h1.0v1.0h-1.0zM135 487h1.0v1.0h-1.0zM132 481h1.0v1.0h-1.0zM134 475h1.0v1.0h-1.0zM125 491h1.0v1.0h-1.0zM142 477h1.0v1.0h-1.0zM123 491h1.0v1.0h-1.0zM127 481h1.0v1.0h-1.0zM151 462h1.0v1.0h-1.0zM143 479h1.0v1.0h-1.0zM136 474h1.0v1.0h-1.0zM143 487h1.0v1.0h-1.0zM132 474h1.0v1.0h-1.0zM146 469h1.0v1.0h-1.0zM134 479h1.0v1.0h-1.0zM129 491h1.0v1.0h-1.0zM139 467h1.0v1.0h-1.0zM137 479h1.0v1.0h-1.0zM152 460h1.0v1.0h-1.0zM135 484h1.0v1.0h-1.0zM167 458h1.0v1.0h-1.0zM138 475h1.0v1.0h-1.0zM129 479h1.0v1.0h-1.0zM127 490h1.0v1.0h-1.0zM130 492h1.0v1.0h-1.0zM131 485h1.0v1.0h-1.0zM157 456h1.0v1.0h-1.0zM141 469h1.0v1.0h-1.0zM123 492h1.0v1.0h-1.0zM123 489h1.0v1.0h-1.0zM136 481h1.0v1.0h-1.0zM143 466h1.0v1.0h-1.0zM126 497h1.0v1.0h-1.0z" fill="#f03010" fill-opacity="0.45" filter="url(#soft)"/>
<line x1="25.5" y1="422.5" x2="221.5" y2="422.5" stroke="#ff2a2a" stroke-width="1.4"/>
<line x1="119.3" y1="500.5" x2="198.1" y2="305.5" stroke="#ff2a2a" stroke-width="1.5"/>
<circle cx="150.82" cy="422.5" r="2.9" fill="#fff" stroke="#ff2a2a" stroke-width="1.3"/>
<circle cx="197.20" cy="422.5" r="3.2" fill="#f00"/>
<circle cx="182.34" cy="344.5" r="3.2" fill="#f00"/>
<rect x="25.5" y="305.5" width="196" height="195" fill="none" stroke="#606060" stroke-width="1"/>
<path d="M23.00 500.50H25.5M25.50 500.5V503.00M23.70 485.82H25.5M40.25 500.5V502.30M23.70 477.24H25.5M48.88 500.5V502.30M23.70 471.15H25.5M55.00 500.5V502.30M23.70 466.43H25.5M59.75 500.5V502.30M23.70 462.57H25.5M63.63 500.5V502.30M23.70 459.30H25.5M66.91 500.5V502.30M23.70 456.47H25.5M69.75 500.5V502.30M23.70 453.98H25.5M72.26 500.5V502.30M23.00 451.75H25.5M74.50 500.5V503.00M23.70 437.07H25.5M89.25 500.5V502.30M23.70 428.49H25.5M97.88 500.5V502.30M23.70 422.40H25.5M104.00 500.5V502.30M23.70 417.68H25.5M108.75 500.5V502.30M23.70 413.82H25.5M112.63 500.5V502.30M23.70 410.55H25.5M115.91 500.5V502.30M23.70 407.72H25.5M118.75 500.5V502.30M23.70 405.23H25.5M121.26 500.5V502.30M23.00 403.00H25.5M123.50 500.5V503.00M23.70 388.32H25.5M138.25 500.5V502.30M23.70 379.74H25.5M146.88 500.5V502.30M23.70 373.65H25.5M153.00 500.5V502.30M23.70 368.93H25.5M157.75 500.5V502.30M23.70 365.07H25.5M161.63 500.5V502.30M23.70 361.80H25.5M164.91 500.5V502.30M23.70 358.97H25.5M167.75 500.5V502.30M23.70 356.48H25.5M170.26 500.5V502.30M23.00 354.25H25.5M172.50 500.5V503.00M23.70 339.57H25.5M187.25 500.5V502.30M23.70 330.99H25.5M195.88 500.5V502.30M23.70 324.90H25.5M202.00 500.5V502.30M23.70 320.18H25.5M206.75 500.5V502.30M23.70 316.32H25.5M210.63 500.5V502.30M23.70 313.05H25.5M213.91 500.5V502.30M23.70 310.22H25.5M216.75 500.5V502.30M23.70 307.73H25.5M219.26 500.5V502.30M22.5 305.5H25.5M221.5 500.5V503.5" stroke="#666" stroke-width="0.8" fill="none"/>
<text x="22.50" y="503.00" font-size="7" fill="#333" text-anchor="end" font-weight="normal" >0</text>
<text x="25.50" y="510.10" font-size="7" fill="#333" text-anchor="middle" font-weight="normal" >0</text>
<text x="22.50" y="454.25" font-size="7" fill="#333" text-anchor="end" font-weight="normal" >1</text>
<text x="74.50" y="510.10" font-size="7" fill="#333" text-anchor="middle" font-weight="normal" >1</text>
<text x="22.50" y="405.50" font-size="7" fill="#333" text-anchor="end" font-weight="normal" >2</text>
<text x="123.50" y="510.10" font-size="7" fill="#333" text-anchor="middle" font-weight="normal" >2</text>
<text x="22.50" y="356.75" font-size="7" fill="#333" text-anchor="end" font-weight="normal" >3</text>
<text x="172.50" y="510.10" font-size="7" fill="#333" text-anchor="middle" font-weight="normal" >3</text>
<text x="22.50" y="308.00" font-size="7" fill="#333" text-anchor="end" font-weight="normal" >4</text>
<text x="221.50" y="510.10" font-size="7" fill="#333" text-anchor="middle" font-weight="normal" >4</text>
<text x="26.50" y="518.50" font-size="6.8" fill="#777" text-anchor="start" font-weight="normal" >Low</text>
<text x="220.50" y="518.50" font-size="6.8" fill="#777" text-anchor="end" font-weight="normal" >High</text>
<text transform="translate(122.20,520.10) scale(0.895,1)" font-size="10.5" fill="#222" text-anchor="middle" font-weight="normal" >MITOPOTENTIAL</text>
<text transform="translate(12.9,313.5) rotate(-90)" font-size="7.2" fill="#777" text-anchor="middle">Dead</text>
<text transform="translate(13.1,493.3) rotate(-90)" font-size="7.2" fill="#777" text-anchor="middle">Live</text>
<text transform="translate(13.6,402.5) rotate(-90) scale(0.895,1)" font-size="10.5" fill="#222" text-anchor="middle">VIABILITY</text>
<text transform="translate(29.10,315.10) scale(0.91,1)" font-size="9.0" fill="#333" text-anchor="start" font-weight="normal" >Depolarized/Dead</text>
<text transform="translate(29.10,324.30) scale(0.91,1)" font-size="9.0" fill="#333" text-anchor="start" font-weight="normal" >7.90 %</text>
<text transform="translate(218.20,315.10) scale(0.91,1)" font-size="9.0" fill="#333" text-anchor="end" font-weight="normal" >Dead</text>
<text transform="translate(218.20,324.30) scale(0.91,1)" font-size="9.0" fill="#333" text-anchor="end" font-weight="normal" >0.00 %</text>
<text transform="translate(29.10,487.90) scale(0.91,1)" font-size="9.0" fill="#333" text-anchor="start" font-weight="normal" >85.90 %</text>
<text transform="translate(29.10,497.40) scale(0.91,1)" font-size="9.0" fill="#333" text-anchor="start" font-weight="normal" >Depolarized/Live</text>
<text transform="translate(218.20,487.90) scale(0.91,1)" font-size="9.0" fill="#333" text-anchor="end" font-weight="normal" >6.20 %</text>
<text transform="translate(218.20,497.40) scale(0.91,1)" font-size="9.0" fill="#333" text-anchor="end" font-weight="normal" >Live</text>
<rect x="315.8" y="366.5333333333333" width="34" height="3.7466666666666697" fill="#ff6000"/>
<rect x="315.8" y="370.28" width="34" height="10.771666666666647" fill="#fde0c2"/>
<rect x="315.8" y="381.0516666666666" width="34" height="79.14833333333337" fill="#fff"/>
<path d="M315.8 370.28H349.8M315.8 381.0516666666666H349.8" stroke="#111" stroke-width="1.6"/>
<rect x="315.8" y="366.5333333333333" width="34" height="93.66666666666669" fill="none" stroke="#111" stroke-width="2"/>
<rect x="366.6" y="366.5333333333333" width="34" height="7.9616666666667015" fill="#ff6000"/>
<rect x="366.6" y="374.495" width="34" height="35.593333333333305" fill="#fde0c2"/>
<rect x="366.6" y="410.0883333333333" width="34" height="50.11166666666668" fill="#fff"/>
<path d="M366.6 374.495H400.6M366.6 410.0883333333333H400.6" stroke="#111" stroke-width="1.6"/>
<rect x="366.6" y="366.5333333333333" width="34" height="93.66666666666669" fill="none" stroke="#111" stroke-width="2"/>
<rect x="417.6" y="366.5333333333333" width="34" height="7.493333333333339" fill="#ff6000"/>
<rect x="417.6" y="374.02666666666664" width="34" height="81.30266666666665" fill="#fde0c2"/>
<rect x="417.6" y="455.3293333333333" width="34" height="4.870666666666693" fill="#fff"/>
<path d="M417.6 374.02666666666664H451.6M417.6 455.3293333333333H451.6" stroke="#111" stroke-width="1.6"/>
<rect x="417.6" y="366.5333333333333" width="34" height="93.66666666666669" fill="none" stroke="#111" stroke-width="2"/>
<path d="M324.8 379.834H340.8M332.8 379.834V381.3326666666666M324.8 368.875H340.8M332.8 368.875V369.99899999999997M324.8 365.59666666666664H340.8M332.8 365.59666666666664V366.5333333333333M375.6 407.74666666666667H391.6M383.6 407.74666666666667V410.0883333333333M375.6 373.09H391.6M383.6 373.09V374.495M375.6 363.7233333333333H391.6M383.6 363.7233333333333V366.5333333333333M426.6 453.175H442.6M434.6 453.175V455.3293333333333M426.6 371.21666666666664H442.6M434.6 371.21666666666664V374.02666666666664M426.6 365.59666666666664H442.6M434.6 365.59666666666664V366.5333333333333" stroke="#333" stroke-width="1.3" fill="none"/>
<path d="M298.7 347.79999999999995V461.2M296 460.2H469M295.8 460.2H298.7M295.8 432.09999999999997H298.7M295.8 404.0H298.7M295.8 375.9H298.7M295.8 347.79999999999995H298.7M297 450.8333333333333H298.7M297 441.46666666666664H298.7M297 422.73333333333335H298.7M297 413.3666666666667H298.7M297 394.6333333333333H298.7M297 385.26666666666665H298.7M297 366.5333333333333H298.7M297 357.16666666666663H298.7M332.8 460.2V464.2M383.6 460.2V464.2M434.6 460.2V464.2" stroke="#111" stroke-width="1.4" fill="none"/>
<text transform="translate(293.80,464.50) scale(0.92,1)" font-size="12.5" fill="#111" text-anchor="end" font-weight="bold" >0</text>
<text transform="translate(293.80,436.40) scale(0.92,1)" font-size="12.5" fill="#111" text-anchor="end" font-weight="bold" >30</text>
<text transform="translate(293.80,408.30) scale(0.92,1)" font-size="12.5" fill="#111" text-anchor="end" font-weight="bold" >60</text>
<text transform="translate(293.80,380.20) scale(0.92,1)" font-size="12.5" fill="#111" text-anchor="end" font-weight="bold" >90</text>
<text transform="translate(293.80,352.10) scale(0.92,1)" font-size="12.5" fill="#111" text-anchor="end" font-weight="bold" >120</text>
<text transform="translate(332.80,476.60) scale(0.9,1)" font-size="12.8" fill="#111" text-anchor="middle" font-weight="bold" >0</text>
<text transform="translate(383.60,476.60) scale(0.9,1)" font-size="12.8" fill="#111" text-anchor="middle" font-weight="bold" >10</text>
<text transform="translate(434.60,476.60) scale(0.9,1)" font-size="12.8" fill="#111" text-anchor="middle" font-weight="bold" >30</text>
<text x="384.20" y="494.00" font-size="12" fill="#111" text-anchor="middle" font-weight="bold" >[S-15176], μM</text>
<text transform="translate(267.4,401.3) rotate(-90)" font-size="11.3" fill="#111" text-anchor="middle" font-weight="bold">% of cells</text>
<path d="M332.7 341H435M328 356H383.8" stroke="#111" stroke-width="1.8"/>
<text x="341.60" y="337.30" font-size="11.9" fill="#111" text-anchor="start" font-weight="normal" stroke="#111" stroke-width="0.2">p&lt;0.0001</text>
<text x="336.80" y="352.90" font-size="11.9" fill="#111" text-anchor="start" font-weight="normal" stroke="#111" stroke-width="0.2">p&lt;0.0001</text>
<rect x="466.3" y="352.0" width="12" height="9.6" fill="#ff6000" stroke="#111" stroke-width="1.6"/>
<text x="485.20" y="360.60" font-size="11.5" fill="#111" text-anchor="start" font-weight="normal" >Dead</text>
<rect x="466.3" y="366.9" width="12" height="9.6" fill="#fde0c2" stroke="#111" stroke-width="1.6"/>
<text x="485.20" y="375.50" font-size="11.5" fill="#111" text-anchor="start" font-weight="normal" >Depolarized</text>
<rect x="466.3" y="381.8" width="12" height="9.6" fill="#fff" stroke="#111" stroke-width="1.6"/>
<text x="485.20" y="390.40" font-size="11.5" fill="#111" text-anchor="start" font-weight="normal" >Live</text>
<text x="524.50" y="288.30" font-size="18.5" fill="#111" text-anchor="start" font-weight="normal" >d)</text>
</svg>
</body></html>
